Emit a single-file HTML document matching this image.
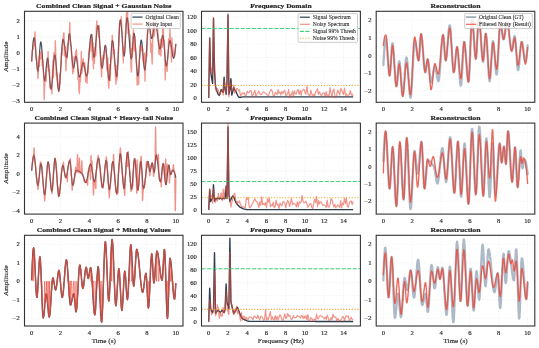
<!DOCTYPE html><html><head><meta charset="utf-8"><style>html,body{margin:0;padding:0;background:#fff;overflow:hidden}svg{display:block;font-family:"Liberation Serif", serif;will-change:transform}</style></head><body><svg width="539" height="348" viewBox="0 0 539 348">
<rect width="539" height="348" fill="#fff"/>
<defs>
<clipPath id="c00"><rect x="24.50" y="11.30" width="158.50" height="91.00"/></clipPath>
<clipPath id="c01"><rect x="201.50" y="11.30" width="158.90" height="91.00"/></clipPath>
<clipPath id="c02"><rect x="376.20" y="11.30" width="158.60" height="91.00"/></clipPath>
<clipPath id="c10"><rect x="24.50" y="123.10" width="158.50" height="91.00"/></clipPath>
<clipPath id="c11"><rect x="201.50" y="123.10" width="158.90" height="91.00"/></clipPath>
<clipPath id="c12"><rect x="376.20" y="123.10" width="158.60" height="91.00"/></clipPath>
<clipPath id="c20"><rect x="24.50" y="235.30" width="158.50" height="90.70"/></clipPath>
<clipPath id="c21"><rect x="201.50" y="235.30" width="158.90" height="90.70"/></clipPath>
<clipPath id="c22"><rect x="376.20" y="235.30" width="158.60" height="90.70"/></clipPath>
</defs>
<line x1="31.70" y1="11.30" x2="31.70" y2="102.30" stroke="#e9e9e9" stroke-width="0.5" stroke-dasharray="1.5,1.5"/>
<line x1="60.52" y1="11.30" x2="60.52" y2="102.30" stroke="#e9e9e9" stroke-width="0.5" stroke-dasharray="1.5,1.5"/>
<line x1="89.34" y1="11.30" x2="89.34" y2="102.30" stroke="#e9e9e9" stroke-width="0.5" stroke-dasharray="1.5,1.5"/>
<line x1="118.16" y1="11.30" x2="118.16" y2="102.30" stroke="#e9e9e9" stroke-width="0.5" stroke-dasharray="1.5,1.5"/>
<line x1="146.98" y1="11.30" x2="146.98" y2="102.30" stroke="#e9e9e9" stroke-width="0.5" stroke-dasharray="1.5,1.5"/>
<line x1="175.80" y1="11.30" x2="175.80" y2="102.30" stroke="#e9e9e9" stroke-width="0.5" stroke-dasharray="1.5,1.5"/>
<line x1="24.50" y1="101.30" x2="183.00" y2="101.30" stroke="#e9e9e9" stroke-width="0.5" stroke-dasharray="1.5,1.5"/>
<line x1="24.50" y1="85.20" x2="183.00" y2="85.20" stroke="#e9e9e9" stroke-width="0.5" stroke-dasharray="1.5,1.5"/>
<line x1="24.50" y1="69.10" x2="183.00" y2="69.10" stroke="#e9e9e9" stroke-width="0.5" stroke-dasharray="1.5,1.5"/>
<line x1="24.50" y1="53.00" x2="183.00" y2="53.00" stroke="#e9e9e9" stroke-width="0.5" stroke-dasharray="1.5,1.5"/>
<line x1="24.50" y1="36.90" x2="183.00" y2="36.90" stroke="#e9e9e9" stroke-width="0.5" stroke-dasharray="1.5,1.5"/>
<line x1="24.50" y1="20.80" x2="183.00" y2="20.80" stroke="#e9e9e9" stroke-width="0.5" stroke-dasharray="1.5,1.5"/>
<polyline points="31.7,61.5 31.9,57.5 32.2,53.8 32.4,50.4 32.7,47.3 32.9,44.6 33.1,42.3 33.4,40.4 33.6,39.0 33.9,38.1 34.1,37.7 34.4,38.0 34.6,39.0 34.8,40.6 35.1,42.8 35.3,45.3 35.6,48.2 35.8,51.3 36.0,54.5 36.3,57.8 36.5,60.8 36.8,63.7 37.0,66.3 37.2,68.4 37.5,70.0 37.7,71.0 38.0,71.2 38.2,70.3 38.4,68.5 38.7,65.9 38.9,62.8 39.2,59.3 39.4,55.6 39.6,52.0 39.9,48.7 40.1,45.8 40.4,43.6 40.6,42.2 40.8,41.9 41.1,42.6 41.3,44.0 41.6,46.0 41.8,48.6 42.0,51.6 42.3,54.9 42.5,58.4 42.8,62.0 43.0,65.6 43.3,69.0 43.5,72.3 43.7,75.1 44.0,77.5 44.2,79.4 44.5,80.5 44.7,80.8 44.9,80.3 45.2,79.0 45.4,77.1 45.7,74.7 45.9,72.0 46.1,69.2 46.4,66.4 46.6,63.8 46.9,61.5 47.1,59.7 47.3,58.5 47.6,58.2 47.8,58.7 48.1,60.0 48.3,61.9 48.5,64.3 48.8,67.1 49.0,70.2 49.3,73.4 49.5,76.7 49.7,79.8 50.0,82.6 50.2,85.1 50.5,87.2 50.7,88.5 50.9,89.2 51.2,89.0 51.4,88.0 51.7,86.4 51.9,84.2 52.2,81.6 52.4,78.7 52.6,75.5 52.9,72.2 53.1,68.9 53.4,65.7 53.6,62.7 53.8,60.0 54.1,57.8 54.3,56.1 54.6,55.1 54.8,54.8 55.0,55.3 55.3,56.4 55.5,58.2 55.8,60.4 56.0,63.0 56.2,65.9 56.5,69.0 56.7,72.2 57.0,75.5 57.2,78.7 57.4,81.7 57.7,84.4 57.9,86.8 58.2,88.8 58.4,90.2 58.6,91.0 58.9,91.1 59.1,90.2 59.4,88.5 59.6,86.0 59.8,82.9 60.1,79.3 60.3,75.3 60.6,71.0 60.8,66.6 61.1,62.1 61.3,57.7 61.5,53.5 61.8,49.7 62.0,46.2 62.3,43.4 62.5,41.2 62.7,39.8 63.0,39.3 63.2,39.5 63.5,40.1 63.7,41.0 63.9,42.1 64.2,43.5 64.4,45.0 64.7,46.6 64.9,48.3 65.1,50.0 65.4,51.6 65.6,53.1 65.9,54.5 66.1,55.7 66.3,56.6 66.6,57.2 66.8,57.5 67.1,57.0 67.3,55.4 67.5,52.9 67.8,49.8 68.0,46.4 68.3,42.9 68.5,39.6 68.7,36.7 69.0,34.7 69.2,33.6 69.5,33.7 69.7,34.4 70.0,35.7 70.2,37.5 70.4,39.7 70.7,42.2 70.9,44.9 71.2,47.8 71.4,50.8 71.6,53.7 71.9,56.6 72.1,59.4 72.4,61.9 72.6,64.1 72.8,65.9 73.1,67.2 73.3,68.0 73.6,68.1 73.8,67.6 74.0,66.6 74.3,65.2 74.5,63.6 74.8,61.8 75.0,60.1 75.2,58.6 75.5,57.3 75.7,56.5 76.0,56.2 76.2,56.6 76.4,57.4 76.7,58.7 76.9,60.4 77.2,62.3 77.4,64.3 77.7,66.5 77.9,68.7 78.1,70.8 78.4,72.7 78.6,74.4 78.9,75.8 79.1,76.7 79.3,77.1 79.6,77.1 79.8,76.7 80.1,76.0 80.3,75.1 80.5,74.0 80.8,72.7 81.0,71.4 81.3,70.0 81.5,68.6 81.7,67.2 82.0,66.0 82.2,64.9 82.5,63.9 82.7,63.2 82.9,62.8 83.2,62.7 83.4,62.9 83.7,63.5 83.9,64.3 84.1,65.4 84.4,66.6 84.6,68.0 84.9,69.4 85.1,70.8 85.3,72.1 85.6,73.4 85.8,74.5 86.1,75.3 86.3,75.9 86.6,76.2 86.8,76.0 87.0,75.2 87.3,73.9 87.5,72.2 87.8,70.0 88.0,67.5 88.2,64.8 88.5,61.8 88.7,58.7 89.0,55.6 89.2,52.4 89.4,49.3 89.7,46.3 89.9,43.5 90.2,41.0 90.4,38.7 90.6,36.9 90.9,35.5 91.1,34.6 91.4,34.3 91.6,34.9 91.8,36.4 92.1,38.7 92.3,41.6 92.6,44.7 92.8,47.9 93.0,51.0 93.3,53.7 93.5,55.8 93.8,57.2 94.0,57.5 94.2,57.0 94.5,56.0 94.7,54.4 95.0,52.4 95.2,50.1 95.5,47.6 95.7,44.8 95.9,42.0 96.2,39.2 96.4,36.4 96.7,33.8 96.9,31.4 97.1,29.3 97.4,27.6 97.6,26.4 97.9,25.7 98.1,25.7 98.3,26.5 98.6,28.1 98.8,30.3 99.1,33.0 99.3,36.2 99.5,39.7 99.8,43.4 100.0,47.2 100.3,50.9 100.5,54.6 100.7,58.0 101.0,61.2 101.2,63.8 101.5,65.9 101.7,67.4 101.9,68.1 102.2,68.0 102.4,67.2 102.7,65.9 102.9,64.1 103.1,62.0 103.4,59.7 103.6,57.2 103.9,54.7 104.1,52.3 104.4,50.1 104.6,48.2 104.8,46.7 105.1,45.7 105.3,45.3 105.6,45.6 105.8,46.7 106.0,48.5 106.3,50.8 106.5,53.5 106.8,56.6 107.0,59.8 107.2,63.2 107.5,66.5 107.7,69.7 108.0,72.7 108.2,75.3 108.4,77.5 108.7,79.1 108.9,80.0 109.2,80.1 109.4,79.2 109.6,77.2 109.9,74.4 110.1,70.9 110.4,67.0 110.6,62.8 110.8,58.5 111.1,54.3 111.3,50.3 111.6,46.8 111.8,43.9 112.0,41.8 112.3,40.7 112.5,40.7 112.8,41.4 113.0,42.6 113.3,44.3 113.5,46.4 113.7,48.9 114.0,51.6 114.2,54.4 114.5,57.4 114.7,60.5 114.9,63.4 115.2,66.3 115.4,69.0 115.7,71.4 115.9,73.4 116.1,75.0 116.4,76.2 116.6,76.8 116.9,76.6 117.1,75.0 117.3,72.3 117.6,68.5 117.8,64.0 118.1,58.9 118.3,53.4 118.5,47.7 118.8,42.0 119.0,36.5 119.3,31.5 119.5,27.1 119.7,23.6 120.0,21.0 120.2,19.8 120.5,19.8 120.7,20.8 120.9,22.4 121.2,24.6 121.4,27.4 121.7,30.5 121.9,33.8 122.2,37.3 122.4,40.8 122.6,44.2 122.9,47.3 123.1,50.2 123.4,52.6 123.6,54.5 123.8,55.7 124.1,56.1 124.3,55.3 124.6,53.3 124.8,50.4 125.0,46.7 125.3,42.5 125.5,38.0 125.8,33.4 126.0,29.0 126.2,25.0 126.5,21.6 126.7,19.2 127.0,17.8 127.2,17.7 127.4,18.4 127.7,19.8 127.9,21.8 128.2,24.3 128.4,27.2 128.6,30.4 128.9,33.9 129.1,37.4 129.4,40.9 129.6,44.4 129.8,47.7 130.1,50.8 130.3,53.5 130.6,55.7 130.8,57.4 131.1,58.5 131.3,58.8 131.5,58.1 131.8,56.5 132.0,54.2 132.3,51.3 132.5,48.0 132.7,44.6 133.0,41.4 133.2,38.4 133.5,35.9 133.7,34.1 133.9,33.2 134.2,33.4 134.4,34.5 134.7,36.4 134.9,38.9 135.1,42.0 135.4,45.5 135.6,49.3 135.9,53.2 136.1,57.2 136.3,61.1 136.6,64.8 136.8,68.2 137.1,71.1 137.3,73.5 137.5,75.2 137.8,76.1 138.0,76.0 138.3,74.9 138.5,73.0 138.8,70.2 139.0,67.0 139.2,63.3 139.5,59.5 139.7,55.5 140.0,51.7 140.2,48.1 140.4,45.0 140.7,42.5 140.9,40.8 141.2,40.0 141.4,40.2 141.6,41.1 141.9,42.7 142.1,44.7 142.4,47.2 142.6,49.9 142.8,52.9 143.1,55.9 143.3,58.9 143.6,61.8 143.8,64.4 144.0,66.6 144.3,68.4 144.5,69.7 144.8,70.2 145.0,69.9 145.2,68.6 145.5,66.5 145.7,63.7 146.0,60.3 146.2,56.5 146.4,52.3 146.7,48.0 146.9,43.7 147.2,39.4 147.4,35.4 147.7,31.7 147.9,28.5 148.1,26.0 148.4,24.2 148.6,23.3 148.9,23.3 149.1,23.9 149.3,24.9 149.6,26.3 149.8,27.9 150.1,29.6 150.3,31.5 150.5,33.2 150.8,34.9 151.0,36.4 151.3,37.5 151.5,38.3 151.7,38.5 152.0,38.3 152.2,37.7 152.5,36.8 152.7,35.6 152.9,34.3 153.2,32.8 153.4,31.2 153.7,29.6 153.9,28.0 154.1,26.5 154.4,25.2 154.6,24.0 154.9,23.2 155.1,22.6 155.3,22.4 155.6,22.6 155.8,23.3 156.1,24.2 156.3,25.5 156.6,27.0 156.8,28.7 157.0,30.6 157.3,32.5 157.5,34.6 157.8,36.7 158.0,38.7 158.2,40.7 158.5,42.6 158.7,44.3 159.0,45.8 159.2,47.1 159.4,48.1 159.7,48.7 159.9,49.0 160.2,48.8 160.4,48.1 160.6,47.0 160.9,45.6 161.1,44.0 161.4,42.3 161.6,40.6 161.8,39.0 162.1,37.6 162.3,36.4 162.6,35.6 162.8,35.3 163.0,35.6 163.3,36.8 163.5,38.6 163.8,40.9 164.0,43.6 164.2,46.7 164.5,49.8 164.7,53.1 165.0,56.2 165.2,59.1 165.5,61.7 165.7,63.8 165.9,65.3 166.2,66.1 166.4,66.1 166.7,65.5 166.9,64.3 167.1,62.6 167.4,60.6 167.6,58.3 167.9,55.8 168.1,53.3 168.3,50.7 168.6,48.3 168.8,46.0 169.1,44.0 169.3,42.4 169.5,41.3 169.8,40.7 170.0,40.7 170.3,41.1 170.5,41.9 170.7,42.9 171.0,44.2 171.2,45.7 171.5,47.3 171.7,49.0 171.9,50.7 172.2,52.3 172.4,53.9 172.7,55.3 172.9,56.4 173.1,57.3 173.4,57.9 173.6,58.2 173.9,57.9 174.1,57.3 174.4,56.2 174.6,54.8 174.8,53.1 175.1,51.1 175.3,48.9 175.6,46.5 175.8,44.0" fill="none" stroke="#2c3e50" stroke-width="1.20" stroke-opacity="0.900" stroke-linejoin="round" stroke-linecap="butt" clip-path="url(#c00)"/>
<polyline points="31.7,61.5 32.2,51.4 32.7,49.5 33.2,49.4 33.6,42.7 34.1,45.7 34.6,38.5 35.1,32.0 35.6,52.3 36.0,59.6 36.5,57.0 37.0,63.5 37.5,69.2 38.0,78.6 38.5,68.6 38.9,57.0 39.4,66.2 39.9,52.2 40.4,58.8 40.9,52.3 41.3,58.9 41.8,50.7 42.3,65.4 42.8,60.1 43.3,68.1 43.8,76.8 44.2,99.7 44.7,85.2 45.2,79.3 45.7,73.6 46.2,81.3 46.6,67.4 47.1,67.4 47.6,64.7 48.1,51.6 48.6,71.1 49.1,70.9 49.5,69.9 50.0,87.7 50.5,88.3 51.0,88.3 51.5,87.3 51.9,93.8 52.4,77.6 52.9,60.7 53.4,77.7 53.9,52.7 54.4,54.9 54.8,60.0 55.3,40.6 55.8,54.7 56.3,76.1 56.8,72.2 57.2,74.6 57.7,86.4 58.2,83.6 58.7,91.6 59.2,84.6 59.7,73.9 60.1,84.0 60.6,68.5 61.1,64.9 61.6,51.7 62.1,55.1 62.5,45.5 63.0,40.9 63.5,33.0 64.0,33.2 64.5,56.0 65.0,55.1 65.4,46.8 65.9,70.9 66.4,60.5 66.9,58.3 67.4,44.8 67.8,43.4 68.3,44.6 68.8,39.1 69.3,35.5 69.8,22.4 70.3,41.5 70.7,45.3 71.2,45.8 71.7,55.5 72.2,61.7 72.7,73.6 73.1,67.6 73.6,71.6 74.1,56.8 74.6,57.8 75.1,59.8 75.6,51.6 76.0,59.0 76.5,49.3 77.0,61.0 77.5,60.3 78.0,79.8 78.4,70.5 78.9,89.7 79.4,93.5 79.9,78.9 80.4,81.9 80.9,70.9 81.3,51.4 81.8,73.5 82.3,69.5 82.8,61.4 83.3,58.7 83.8,65.2 84.2,67.5 84.7,62.8 85.2,67.1 85.7,82.1 86.2,76.2 86.6,75.9 87.1,83.3 87.6,69.3 88.1,73.4 88.6,52.8 89.1,52.8 89.5,47.4 90.0,47.2 90.5,38.9 91.0,51.2 91.5,43.5 91.9,34.4 92.4,60.0 92.9,42.4 93.4,68.8 93.9,51.3 94.4,63.4 94.8,47.3 95.3,48.0 95.8,56.0 96.3,27.9 96.8,21.0 97.2,29.0 97.7,28.2 98.2,27.3 98.7,36.9 99.2,25.6 99.7,45.8 100.1,49.4 100.6,62.7 101.1,67.5 101.6,77.0 102.1,58.0 102.5,67.8 103.0,55.3 103.5,58.3 104.0,59.1 104.5,51.7 105.0,50.6 105.4,45.3 105.9,50.6 106.4,54.6 106.9,69.3 107.4,71.4 107.8,58.0 108.3,81.9 108.8,88.2 109.3,77.0 109.8,64.4 110.3,80.5 110.7,62.1 111.2,57.1 111.7,59.3 112.2,35.2 112.7,41.2 113.1,42.9 113.6,53.8 114.1,49.5 114.6,63.5 115.1,66.3 115.6,79.3 116.0,84.2 116.5,65.9 117.0,79.9 117.5,67.8 118.0,61.3 118.4,53.5 118.9,42.7 119.4,23.7 119.9,24.3 120.4,20.9 120.9,21.5 121.3,16.8 121.8,27.0 122.3,36.4 122.8,50.7 123.3,62.9 123.7,47.7 124.2,48.0 124.7,52.7 125.2,39.6 125.7,28.7 126.2,19.6 126.6,12.5 127.1,21.3 127.6,7.1 128.1,33.5 128.6,22.4 129.1,32.3 129.5,36.3 130.0,34.7 130.5,43.1 131.0,67.4 131.5,72.0 131.9,48.4 132.4,57.2 132.9,42.4 133.4,29.8 133.9,46.6 134.4,51.1 134.8,36.1 135.3,44.1 135.8,54.1 136.3,59.7 136.8,74.2 137.2,85.1 137.7,77.3 138.2,83.1 138.7,84.2 139.2,60.2 139.7,57.0 140.1,45.7 140.6,51.0 141.1,45.4 141.6,48.9 142.1,51.3 142.5,47.7 143.0,61.5 143.5,58.3 144.0,63.4 144.5,53.1 145.0,81.3 145.4,59.9 145.9,61.8 146.4,53.3 146.9,56.2 147.4,39.9 147.8,23.1 148.3,25.1 148.8,22.6 149.3,27.0 149.8,18.3 150.3,31.3 150.7,52.3 151.2,42.9 151.7,54.4 152.2,64.0 152.7,40.1 153.1,22.3 153.6,29.4 154.1,36.2 154.6,31.8 155.1,13.6 155.6,21.3 156.0,23.7 156.5,27.2 157.0,30.0 157.5,27.9 158.0,34.0 158.4,40.6 158.9,54.1 159.4,43.9 159.9,54.5 160.4,39.4 160.9,56.0 161.3,43.6 161.8,39.2 162.3,47.2 162.8,21.4 163.3,24.9 163.7,44.4 164.2,40.2 164.7,49.8 165.2,79.9 165.7,61.6 166.2,66.6 166.6,64.8 167.1,71.4 167.6,60.6 168.1,54.9 168.6,38.8 169.0,41.4 169.5,41.4 170.0,28.4 170.5,46.3 171.0,47.3 171.5,61.9 171.9,38.0 172.4,46.1 172.9,49.0 173.4,52.5 173.9,57.0 174.3,54.5 174.8,55.1 175.3,50.5 175.8,43.5" fill="none" stroke="#e74c3c" stroke-width="1.35" stroke-opacity="0.580" stroke-linejoin="round" stroke-linecap="butt" clip-path="url(#c00)"/>
<rect x="24.50" y="11.30" width="158.50" height="91.00" fill="none" stroke="#333" stroke-width="1.1"/>
<text x="31.70" y="111.20" font-size="5.82" text-anchor="middle" textLength="3.31" lengthAdjust="spacingAndGlyphs" fill="#262626" stroke="#262626" stroke-width="0.14">0</text>
<text x="60.52" y="111.20" font-size="5.82" text-anchor="middle" textLength="3.31" lengthAdjust="spacingAndGlyphs" fill="#262626" stroke="#262626" stroke-width="0.14">2</text>
<text x="89.34" y="111.20" font-size="5.82" text-anchor="middle" textLength="3.31" lengthAdjust="spacingAndGlyphs" fill="#262626" stroke="#262626" stroke-width="0.14">4</text>
<text x="118.16" y="111.20" font-size="5.82" text-anchor="middle" textLength="3.31" lengthAdjust="spacingAndGlyphs" fill="#262626" stroke="#262626" stroke-width="0.14">6</text>
<text x="146.98" y="111.20" font-size="5.82" text-anchor="middle" textLength="3.31" lengthAdjust="spacingAndGlyphs" fill="#262626" stroke="#262626" stroke-width="0.14">8</text>
<text x="175.80" y="111.20" font-size="5.82" text-anchor="middle" textLength="6.62" lengthAdjust="spacingAndGlyphs" fill="#262626" stroke="#262626" stroke-width="0.14">10</text>
<text x="19.90" y="103.30" font-size="5.82" text-anchor="end" textLength="7.67" lengthAdjust="spacingAndGlyphs" fill="#262626" stroke="#262626" stroke-width="0.14">−3</text>
<text x="19.90" y="87.20" font-size="5.82" text-anchor="end" textLength="7.67" lengthAdjust="spacingAndGlyphs" fill="#262626" stroke="#262626" stroke-width="0.14">−2</text>
<text x="19.90" y="71.10" font-size="5.82" text-anchor="end" textLength="7.67" lengthAdjust="spacingAndGlyphs" fill="#262626" stroke="#262626" stroke-width="0.14">−1</text>
<text x="19.90" y="55.00" font-size="5.82" text-anchor="end" textLength="3.31" lengthAdjust="spacingAndGlyphs" fill="#262626" stroke="#262626" stroke-width="0.14">0</text>
<text x="19.90" y="38.90" font-size="5.82" text-anchor="end" textLength="3.31" lengthAdjust="spacingAndGlyphs" fill="#262626" stroke="#262626" stroke-width="0.14">1</text>
<text x="19.90" y="22.80" font-size="5.82" text-anchor="end" textLength="3.31" lengthAdjust="spacingAndGlyphs" fill="#262626" stroke="#262626" stroke-width="0.14">2</text>
<line x1="208.72" y1="11.30" x2="208.72" y2="102.30" stroke="#e9e9e9" stroke-width="0.5" stroke-dasharray="1.5,1.5"/>
<line x1="227.98" y1="11.30" x2="227.98" y2="102.30" stroke="#e9e9e9" stroke-width="0.5" stroke-dasharray="1.5,1.5"/>
<line x1="247.24" y1="11.30" x2="247.24" y2="102.30" stroke="#e9e9e9" stroke-width="0.5" stroke-dasharray="1.5,1.5"/>
<line x1="266.50" y1="11.30" x2="266.50" y2="102.30" stroke="#e9e9e9" stroke-width="0.5" stroke-dasharray="1.5,1.5"/>
<line x1="285.77" y1="11.30" x2="285.77" y2="102.30" stroke="#e9e9e9" stroke-width="0.5" stroke-dasharray="1.5,1.5"/>
<line x1="305.03" y1="11.30" x2="305.03" y2="102.30" stroke="#e9e9e9" stroke-width="0.5" stroke-dasharray="1.5,1.5"/>
<line x1="324.29" y1="11.30" x2="324.29" y2="102.30" stroke="#e9e9e9" stroke-width="0.5" stroke-dasharray="1.5,1.5"/>
<line x1="343.55" y1="11.30" x2="343.55" y2="102.30" stroke="#e9e9e9" stroke-width="0.5" stroke-dasharray="1.5,1.5"/>
<line x1="201.50" y1="98.00" x2="360.40" y2="98.00" stroke="#e9e9e9" stroke-width="0.5" stroke-dasharray="1.5,1.5"/>
<line x1="201.50" y1="84.50" x2="360.40" y2="84.50" stroke="#e9e9e9" stroke-width="0.5" stroke-dasharray="1.5,1.5"/>
<line x1="201.50" y1="71.00" x2="360.40" y2="71.00" stroke="#e9e9e9" stroke-width="0.5" stroke-dasharray="1.5,1.5"/>
<line x1="201.50" y1="57.50" x2="360.40" y2="57.50" stroke="#e9e9e9" stroke-width="0.5" stroke-dasharray="1.5,1.5"/>
<line x1="201.50" y1="44.00" x2="360.40" y2="44.00" stroke="#e9e9e9" stroke-width="0.5" stroke-dasharray="1.5,1.5"/>
<line x1="201.50" y1="30.50" x2="360.40" y2="30.50" stroke="#e9e9e9" stroke-width="0.5" stroke-dasharray="1.5,1.5"/>
<line x1="201.50" y1="17.00" x2="360.40" y2="17.00" stroke="#e9e9e9" stroke-width="0.5" stroke-dasharray="1.5,1.5"/>
<polyline points="208.7,98.0 209.7,37.9 210.6,71.0 211.6,77.8 212.6,83.4 213.5,18.3 214.5,71.0 215.5,86.1 216.4,89.9 217.4,92.6 218.4,94.6 219.3,95.5 220.3,92.6 221.2,89.5 222.2,91.2 223.2,92.2 224.1,77.3 225.1,89.9 226.1,94.2 227.0,82.0 228.0,15.0 228.9,94.2 229.9,89.9 230.9,78.6 231.8,95.0 232.8,91.2 233.8,87.4 234.7,89.9 235.7,90.8 236.7,93.3 237.6,95.3 238.6,97.0 239.5,97.3 240.5,97.2 241.5,97.1 242.4,96.9 243.4,96.9 244.4,96.9 245.3,96.9 246.3,96.9 247.2,96.9 248.2,96.9 249.2,96.9 250.1,96.9 251.1,96.9 252.1,96.9 253.0,96.9 254.0,96.9 254.9,96.9 255.9,96.9 256.9,96.9 257.8,96.9 258.8,96.9 259.8,96.9 260.7,96.9 261.7,96.9 262.7,96.9 263.6,96.9 264.6,96.9 265.5,96.9 266.5,96.9 267.5,96.9 268.4,96.9 269.4,96.9 270.4,96.9 271.3,96.9 272.3,96.9 273.2,96.9 274.2,96.9 275.2,96.9 276.1,96.9 277.1,96.9 278.1,96.9 279.0,96.9 280.0,96.9 280.9,96.9 281.9,96.9 282.9,96.9 283.8,96.9 284.8,96.9 285.8,96.9 286.7,96.9 287.7,96.9 288.7,96.9 289.6,96.9 290.6,96.9 291.5,96.9 292.5,96.9 293.5,96.9 294.4,96.9 295.4,96.9 296.4,96.9 297.3,96.9 298.3,96.9 299.2,96.9 300.2,96.9 301.2,96.9 302.1,96.9 303.1,96.9 304.1,96.9 305.0,96.9 306.0,96.9 307.0,96.9 307.9,96.9 308.9,96.9 309.8,96.9 310.8,96.9 311.8,96.9 312.7,96.9 313.7,96.9 314.7,96.9 315.6,96.9 316.6,96.9 317.5,96.9 318.5,96.9 319.5,96.9 320.4,96.9 321.4,96.9 322.4,96.9 323.3,96.9 324.3,96.9 325.2,96.9 326.2,96.9 327.2,96.9 328.1,96.9 329.1,96.9 330.1,96.9 331.0,96.9 332.0,96.9 333.0,96.9 333.9,96.9 334.9,96.9 335.8,96.9 336.8,96.9 337.8,96.9 338.7,96.9 339.7,96.9 340.7,96.9 341.6,96.9 342.6,96.9 343.5,96.9 344.5,96.9 345.5,96.9 346.4,96.9 347.4,96.9 348.4,96.9 349.3,96.9 350.3,96.9 351.3,96.9 352.2,96.9 353.2,96.9" fill="none" stroke="#2c3e50" stroke-width="1.40" stroke-opacity="1.000" stroke-linejoin="round" stroke-linecap="butt" clip-path="url(#c01)"/>
<polyline points="208.7,98.0 209.7,38.2 210.6,72.0 211.6,68.2 212.6,75.3 213.5,17.6 214.5,63.1 215.5,88.1 216.4,91.5 217.4,88.3 218.4,90.3 219.3,95.1 220.3,93.8 221.2,91.1 222.2,89.6 223.2,95.1 224.1,80.1 225.1,87.0 226.1,94.6 227.0,77.9 228.0,13.6 228.9,96.7 229.9,83.0 230.9,83.1 231.8,91.6 232.8,90.0 233.8,85.2 234.7,93.2 235.7,90.1 236.7,88.7 237.6,88.5 238.6,90.8 239.5,90.0 240.5,95.8 241.5,94.7 242.4,92.8 243.4,93.8 244.4,92.7 245.3,96.3 246.3,94.9 247.2,91.2 248.2,92.6 249.2,92.3 250.1,90.8 251.1,90.6 252.1,96.2 253.0,94.8 254.0,92.5 254.9,90.3 255.9,97.1 256.9,93.9 257.8,93.2 258.8,91.1 259.8,93.3 260.7,94.6 261.7,94.2 262.7,92.7 263.6,91.8 264.6,92.9 265.5,93.0 266.5,94.3 267.5,95.1 268.4,96.0 269.4,93.1 270.4,90.4 271.3,89.5 272.3,91.4 273.2,95.3 274.2,96.2 275.2,92.4 276.1,93.4 277.1,94.7 278.1,89.5 279.0,93.3 280.0,92.2 280.9,95.2 281.9,91.5 282.9,93.6 283.8,91.4 284.8,90.4 285.8,95.7 286.7,95.1 287.7,93.4 288.7,89.7 289.6,97.6 290.6,94.4 291.5,95.1 292.5,91.1 293.5,97.0 294.4,90.9 295.4,93.9 296.4,93.8 297.3,89.8 298.3,89.8 299.2,94.4 300.2,90.3 301.2,95.5 302.1,90.4 303.1,89.6 304.1,89.4 305.0,92.5 306.0,94.1 307.0,85.9 307.9,93.8 308.9,94.9 309.8,96.4 310.8,90.1 311.8,93.9 312.7,96.4 313.7,94.2 314.7,95.7 315.6,91.8 316.6,91.1 317.5,88.8 318.5,94.3 319.5,91.9 320.4,94.0 321.4,96.0 322.4,93.7 323.3,92.7 324.3,93.3 325.2,96.2 326.2,91.6 327.2,96.7 328.1,94.9 329.1,95.6 330.1,87.6 331.0,92.9 332.0,97.1 333.0,90.7 333.9,89.1 334.9,95.7 335.8,97.7 336.8,94.5 337.8,90.0 338.7,92.5 339.7,95.0 340.7,88.3 341.6,90.1 342.6,92.6 343.5,94.5 344.5,88.2 345.5,95.1 346.4,93.8 347.4,96.4 348.4,95.0 349.3,94.5 350.3,90.5 351.3,95.1 352.2,94.0 353.2,96.2" fill="none" stroke="#e74c3c" stroke-width="1.20" stroke-opacity="0.600" stroke-linejoin="round" stroke-linecap="butt" clip-path="url(#c01)"/>
<line x1="201.50" y1="28.54" x2="360.40" y2="28.54" stroke="#2ecc71" stroke-width="1.15" stroke-opacity="0.90" stroke-dasharray="4.1,1.5"/>
<line x1="201.50" y1="85.44" x2="360.40" y2="85.44" stroke="#f39c12" stroke-width="1.10" stroke-opacity="0.85" stroke-dasharray="1.15,1.63"/>
<rect x="201.50" y="11.30" width="158.90" height="91.00" fill="none" stroke="#333" stroke-width="1.1"/>
<text x="208.72" y="111.20" font-size="5.82" text-anchor="middle" textLength="3.31" lengthAdjust="spacingAndGlyphs" fill="#262626" stroke="#262626" stroke-width="0.14">0</text>
<text x="227.98" y="111.20" font-size="5.82" text-anchor="middle" textLength="3.31" lengthAdjust="spacingAndGlyphs" fill="#262626" stroke="#262626" stroke-width="0.14">2</text>
<text x="247.24" y="111.20" font-size="5.82" text-anchor="middle" textLength="3.31" lengthAdjust="spacingAndGlyphs" fill="#262626" stroke="#262626" stroke-width="0.14">4</text>
<text x="266.50" y="111.20" font-size="5.82" text-anchor="middle" textLength="3.31" lengthAdjust="spacingAndGlyphs" fill="#262626" stroke="#262626" stroke-width="0.14">6</text>
<text x="285.77" y="111.20" font-size="5.82" text-anchor="middle" textLength="3.31" lengthAdjust="spacingAndGlyphs" fill="#262626" stroke="#262626" stroke-width="0.14">8</text>
<text x="305.03" y="111.20" font-size="5.82" text-anchor="middle" textLength="6.62" lengthAdjust="spacingAndGlyphs" fill="#262626" stroke="#262626" stroke-width="0.14">10</text>
<text x="324.29" y="111.20" font-size="5.82" text-anchor="middle" textLength="6.62" lengthAdjust="spacingAndGlyphs" fill="#262626" stroke="#262626" stroke-width="0.14">12</text>
<text x="343.55" y="111.20" font-size="5.82" text-anchor="middle" textLength="6.62" lengthAdjust="spacingAndGlyphs" fill="#262626" stroke="#262626" stroke-width="0.14">14</text>
<text x="196.90" y="100.00" font-size="5.82" text-anchor="end" textLength="3.31" lengthAdjust="spacingAndGlyphs" fill="#262626" stroke="#262626" stroke-width="0.14">0</text>
<text x="196.90" y="86.50" font-size="5.82" text-anchor="end" textLength="6.62" lengthAdjust="spacingAndGlyphs" fill="#262626" stroke="#262626" stroke-width="0.14">20</text>
<text x="196.90" y="73.00" font-size="5.82" text-anchor="end" textLength="6.62" lengthAdjust="spacingAndGlyphs" fill="#262626" stroke="#262626" stroke-width="0.14">40</text>
<text x="196.90" y="59.50" font-size="5.82" text-anchor="end" textLength="6.62" lengthAdjust="spacingAndGlyphs" fill="#262626" stroke="#262626" stroke-width="0.14">60</text>
<text x="196.90" y="46.00" font-size="5.82" text-anchor="end" textLength="6.62" lengthAdjust="spacingAndGlyphs" fill="#262626" stroke="#262626" stroke-width="0.14">80</text>
<text x="196.90" y="32.50" font-size="5.82" text-anchor="end" textLength="9.93" lengthAdjust="spacingAndGlyphs" fill="#262626" stroke="#262626" stroke-width="0.14">100</text>
<text x="196.90" y="19.00" font-size="5.82" text-anchor="end" textLength="9.93" lengthAdjust="spacingAndGlyphs" fill="#262626" stroke="#262626" stroke-width="0.14">120</text>
<line x1="383.41" y1="11.30" x2="383.41" y2="102.30" stroke="#e9e9e9" stroke-width="0.5" stroke-dasharray="1.5,1.5"/>
<line x1="412.25" y1="11.30" x2="412.25" y2="102.30" stroke="#e9e9e9" stroke-width="0.5" stroke-dasharray="1.5,1.5"/>
<line x1="441.08" y1="11.30" x2="441.08" y2="102.30" stroke="#e9e9e9" stroke-width="0.5" stroke-dasharray="1.5,1.5"/>
<line x1="469.92" y1="11.30" x2="469.92" y2="102.30" stroke="#e9e9e9" stroke-width="0.5" stroke-dasharray="1.5,1.5"/>
<line x1="498.75" y1="11.30" x2="498.75" y2="102.30" stroke="#e9e9e9" stroke-width="0.5" stroke-dasharray="1.5,1.5"/>
<line x1="527.59" y1="11.30" x2="527.59" y2="102.30" stroke="#e9e9e9" stroke-width="0.5" stroke-dasharray="1.5,1.5"/>
<line x1="376.20" y1="91.20" x2="534.80" y2="91.20" stroke="#e9e9e9" stroke-width="0.5" stroke-dasharray="1.5,1.5"/>
<line x1="376.20" y1="73.35" x2="534.80" y2="73.35" stroke="#e9e9e9" stroke-width="0.5" stroke-dasharray="1.5,1.5"/>
<line x1="376.20" y1="55.50" x2="534.80" y2="55.50" stroke="#e9e9e9" stroke-width="0.5" stroke-dasharray="1.5,1.5"/>
<line x1="376.20" y1="37.65" x2="534.80" y2="37.65" stroke="#e9e9e9" stroke-width="0.5" stroke-dasharray="1.5,1.5"/>
<line x1="376.20" y1="19.80" x2="534.80" y2="19.80" stroke="#e9e9e9" stroke-width="0.5" stroke-dasharray="1.5,1.5"/>
<polyline points="383.4,65.0 383.6,60.5 383.9,56.4 384.1,52.6 384.4,49.2 384.6,46.2 384.9,43.6 385.1,41.6 385.3,40.0 385.6,39.0 385.8,38.6 386.1,38.8 386.3,39.9 386.5,41.7 386.8,44.1 387.0,47.0 387.3,50.2 387.5,53.7 387.7,57.2 388.0,60.8 388.2,64.2 388.5,67.4 388.7,70.2 388.9,72.6 389.2,74.4 389.4,75.4 389.7,75.6 389.9,74.7 390.1,72.7 390.4,69.8 390.6,66.3 390.9,62.4 391.1,58.4 391.4,54.4 391.6,50.7 391.8,47.5 392.1,45.0 392.3,43.5 392.6,43.2 392.8,43.9 393.0,45.5 393.3,47.7 393.5,50.6 393.8,53.9 394.0,57.6 394.2,61.5 394.5,65.5 394.7,69.5 395.0,73.3 395.2,76.9 395.4,80.0 395.7,82.7 395.9,84.7 396.2,86.0 396.4,86.4 396.6,85.8 396.9,84.3 397.1,82.2 397.4,79.6 397.6,76.6 397.9,73.5 398.1,70.4 398.3,67.4 398.6,64.9 398.8,62.9 399.1,61.6 399.3,61.2 399.5,61.8 399.8,63.2 400.0,65.4 400.3,68.0 400.5,71.2 400.7,74.6 401.0,78.2 401.2,81.7 401.5,85.2 401.7,88.4 401.9,91.1 402.2,93.4 402.4,94.9 402.7,95.6 402.9,95.4 403.1,94.3 403.4,92.5 403.6,90.1 403.9,87.2 404.1,83.9 404.4,80.4 404.6,76.8 404.8,73.1 405.1,69.5 405.3,66.2 405.6,63.3 405.8,60.8 406.0,58.9 406.3,57.8 406.5,57.5 406.8,58.0 407.0,59.3 407.2,61.2 407.5,63.7 407.7,66.6 408.0,69.8 408.2,73.2 408.4,76.8 408.7,80.4 408.9,83.9 409.2,87.3 409.4,90.3 409.6,93.0 409.9,95.2 410.1,96.8 410.4,97.6 410.6,97.7 410.8,96.8 411.1,94.8 411.3,92.1 411.6,88.7 411.8,84.6 412.1,80.2 412.3,75.5 412.5,70.5 412.8,65.6 413.0,60.7 413.3,56.1 413.5,51.8 413.7,48.0 414.0,44.8 414.2,42.4 414.5,40.9 414.7,40.3 414.9,40.6 415.2,41.2 415.4,42.2 415.7,43.4 415.9,44.9 416.1,46.6 416.4,48.4 416.6,50.3 416.9,52.1 417.1,54.0 417.3,55.7 417.6,57.2 417.8,58.5 418.1,59.5 418.3,60.2 418.6,60.5 418.8,60.0 419.0,58.2 419.3,55.4 419.5,52.0 419.8,48.2 420.0,44.3 420.2,40.6 420.5,37.5 420.7,35.2 421.0,34.0 421.2,34.1 421.4,34.9 421.7,36.3 421.9,38.3 422.2,40.7 422.4,43.5 422.6,46.5 422.9,49.7 423.1,53.0 423.4,56.3 423.6,59.5 423.8,62.6 424.1,65.3 424.3,67.8 424.6,69.8 424.8,71.2 425.1,72.1 425.3,72.2 425.5,71.7 425.8,70.6 426.0,69.0 426.3,67.2 426.5,65.3 426.7,63.4 427.0,61.7 427.2,60.3 427.5,59.4 427.7,59.1 427.9,59.5 428.2,60.4 428.4,61.9 428.7,63.7 428.9,65.8 429.1,68.1 429.4,70.5 429.6,72.9 429.9,75.2 430.1,77.4 430.3,79.2 430.6,80.7 430.8,81.8 431.1,82.3 431.3,82.2 431.5,81.7 431.8,81.0 432.0,80.0 432.3,78.7 432.5,77.3 432.8,75.9 433.0,74.3 433.2,72.8 433.5,71.3 433.7,69.9 434.0,68.7 434.2,67.6 434.4,66.8 434.7,66.3 434.9,66.2 435.2,66.5 435.4,67.1 435.6,68.1 435.9,69.2 436.1,70.6 436.4,72.1 436.6,73.7 436.8,75.2 437.1,76.7 437.3,78.1 437.6,79.3 437.8,80.2 438.0,80.9 438.3,81.2 438.5,81.0 438.8,80.1 439.0,78.7 439.3,76.8 439.5,74.4 439.7,71.6 440.0,68.6 440.2,65.3 440.5,61.9 440.7,58.4 440.9,54.8 441.2,51.4 441.4,48.1 441.7,45.0 441.9,42.2 442.1,39.7 442.4,37.7 442.6,36.1 442.9,35.1 443.1,34.8 443.3,35.4 443.6,37.1 443.8,39.7 444.1,42.8 444.3,46.3 444.5,49.9 444.8,53.3 445.0,56.3 445.3,58.7 445.5,60.1 445.8,60.5 446.0,60.0 446.2,58.8 446.5,57.1 446.7,54.9 447.0,52.3 447.2,49.5 447.4,46.5 447.7,43.3 447.9,40.2 448.2,37.1 448.4,34.2 448.6,31.5 448.9,29.2 449.1,27.3 449.4,26.0 449.6,25.3 449.8,25.3 450.1,26.2 450.3,27.9 450.6,30.3 450.8,33.4 451.0,36.9 451.3,40.7 451.5,44.8 451.8,49.0 452.0,53.2 452.3,57.3 452.5,61.1 452.7,64.5 453.0,67.5 453.2,69.8 453.5,71.5 453.7,72.2 453.9,72.1 454.2,71.2 454.4,69.8 454.7,67.8 454.9,65.5 455.1,62.9 455.4,60.2 455.6,57.4 455.9,54.8 456.1,52.3 456.3,50.2 456.6,48.5 456.8,47.4 457.1,46.9 457.3,47.3 457.5,48.5 457.8,50.5 458.0,53.0 458.3,56.1 458.5,59.4 458.7,63.0 459.0,66.8 459.2,70.5 459.5,74.0 459.7,77.3 460.0,80.2 460.2,82.7 460.4,84.4 460.7,85.5 460.9,85.6 461.2,84.5 461.4,82.3 461.6,79.2 461.9,75.4 462.1,71.0 462.4,66.3 462.6,61.6 462.8,56.9 463.1,52.5 463.3,48.6 463.6,45.4 463.8,43.1 464.0,41.9 464.3,41.9 464.5,42.6 464.8,44.0 465.0,45.9 465.2,48.2 465.5,50.9 465.7,53.9 466.0,57.1 466.2,60.4 466.5,63.8 466.7,67.1 466.9,70.2 467.2,73.2 467.4,75.8 467.7,78.1 467.9,79.9 468.1,81.2 468.4,81.9 468.6,81.6 468.9,79.9 469.1,76.9 469.3,72.7 469.6,67.7 469.8,62.0 470.1,55.9 470.3,49.6 470.5,43.3 470.8,37.2 471.0,31.7 471.3,26.8 471.5,22.9 471.7,20.1 472.0,18.7 472.2,18.7 472.5,19.8 472.7,21.6 473.0,24.1 473.2,27.1 473.4,30.5 473.7,34.2 473.9,38.1 474.2,41.9 474.4,45.7 474.6,49.2 474.9,52.4 475.1,55.1 475.4,57.1 475.6,58.5 475.8,58.9 476.1,58.1 476.3,55.9 476.6,52.6 476.8,48.5 477.0,43.8 477.3,38.8 477.5,33.8 477.8,28.9 478.0,24.5 478.2,20.7 478.5,18.0 478.7,16.5 479.0,16.3 479.2,17.1 479.5,18.7 479.7,21.0 479.9,23.7 480.2,26.9 480.4,30.5 480.7,34.3 480.9,38.2 481.1,42.1 481.4,46.0 481.6,49.7 481.9,53.0 482.1,56.0 482.3,58.5 482.6,60.4 482.8,61.6 483.1,61.9 483.3,61.2 483.5,59.4 483.8,56.8 484.0,53.6 484.3,50.0 484.5,46.2 484.7,42.6 485.0,39.3 485.2,36.5 485.5,34.6 485.7,33.6 485.9,33.8 486.2,35.0 486.4,37.1 486.7,39.9 486.9,43.3 487.2,47.2 487.4,51.3 487.6,55.7 487.9,60.1 488.1,64.5 488.4,68.6 488.6,72.3 488.8,75.6 489.1,78.2 489.3,80.1 489.6,81.1 489.8,81.0 490.0,79.8 490.3,77.6 490.5,74.6 490.8,71.0 491.0,67.0 491.2,62.7 491.5,58.3 491.7,54.1 492.0,50.1 492.2,46.7 492.4,43.9 492.7,42.0 492.9,41.1 493.2,41.3 493.4,42.3 493.7,44.0 493.9,46.3 494.1,49.1 494.4,52.1 494.6,55.4 494.9,58.7 495.1,62.1 495.3,65.2 495.6,68.1 495.8,70.6 496.1,72.6 496.3,74.0 496.5,74.6 496.8,74.2 497.0,72.8 497.3,70.5 497.5,67.4 497.7,63.6 498.0,59.4 498.2,54.8 498.5,50.0 498.7,45.2 498.9,40.4 499.2,36.0 499.4,31.9 499.7,28.4 499.9,25.6 500.2,23.6 500.4,22.6 500.6,22.6 500.9,23.2 501.1,24.4 501.4,25.9 501.6,27.6 501.8,29.6 502.1,31.6 502.3,33.6 502.6,35.4 502.8,37.0 503.0,38.3 503.3,39.1 503.5,39.4 503.8,39.2 504.0,38.5 504.2,37.5 504.5,36.2 504.7,34.7 505.0,33.1 505.2,31.3 505.4,29.5 505.7,27.8 505.9,26.1 506.2,24.6 506.4,23.4 506.6,22.4 506.9,21.8 507.1,21.6 507.4,21.8 507.6,22.5 507.9,23.6 508.1,25.0 508.3,26.7 508.6,28.6 508.8,30.6 509.1,32.8 509.3,35.1 509.5,37.4 509.8,39.7 510.0,41.9 510.3,44.0 510.5,45.9 510.7,47.6 511.0,49.0 511.2,50.0 511.5,50.8 511.7,51.0 511.9,50.8 512.2,50.0 512.4,48.8 512.7,47.3 512.9,45.5 513.1,43.6 513.4,41.8 513.6,40.0 513.9,38.4 514.1,37.1 514.4,36.2 514.6,35.9 514.8,36.3 515.1,37.5 515.3,39.5 515.6,42.1 515.8,45.1 516.0,48.5 516.3,52.0 516.5,55.6 516.8,59.0 517.0,62.3 517.2,65.1 517.5,67.5 517.7,69.1 518.0,70.0 518.2,70.0 518.4,69.3 518.7,68.0 518.9,66.1 519.2,63.9 519.4,61.4 519.6,58.6 519.9,55.8 520.1,53.0 520.4,50.3 520.6,47.8 520.9,45.6 521.1,43.8 521.3,42.5 521.6,41.8 521.8,41.8 522.1,42.3 522.3,43.2 522.5,44.3 522.8,45.8 523.0,47.4 523.3,49.2 523.5,51.1 523.7,52.9 524.0,54.7 524.2,56.5 524.5,58.0 524.7,59.3 524.9,60.3 525.2,61.0 525.4,61.2 525.7,61.0 525.9,60.2 526.1,59.0 526.4,57.5 526.6,55.6 526.9,53.4 527.1,50.9 527.4,48.3 527.6,45.5" fill="none" stroke="#9fadbd" stroke-width="2.30" stroke-opacity="0.850" stroke-linejoin="round" stroke-linecap="round" clip-path="url(#c02)"/>
<polyline points="383.4,45.5 383.6,43.2 383.9,41.2 384.1,39.6 384.4,38.3 384.6,37.2 384.9,36.3 385.1,35.7 385.3,35.3 385.6,35.1 385.8,35.0 386.1,35.3 386.3,36.5 386.5,38.5 386.8,41.1 387.0,44.2 387.3,47.8 387.5,51.5 387.7,55.4 388.0,59.3 388.2,63.1 388.5,66.6 388.7,69.7 388.9,72.3 389.2,74.2 389.4,75.4 389.7,75.6 389.9,74.8 390.1,72.9 390.4,70.2 390.6,67.0 390.9,63.4 391.1,59.6 391.4,55.9 391.6,52.5 391.8,49.5 392.1,47.2 392.3,45.8 392.6,45.5 392.8,46.2 393.0,47.7 393.3,49.8 393.5,52.5 393.8,55.7 394.0,59.1 394.2,62.8 394.5,66.6 394.7,70.4 395.0,74.0 395.2,77.4 395.4,80.4 395.7,82.9 395.9,84.8 396.2,86.0 396.4,86.4 396.6,85.9 396.9,84.6 397.1,82.7 397.4,80.3 397.6,77.7 397.9,74.9 398.1,72.1 398.3,69.5 398.6,67.2 398.8,65.4 399.1,64.2 399.3,63.9 399.5,64.4 399.8,65.8 400.0,67.8 400.3,70.4 400.5,73.3 400.7,76.6 401.0,80.0 401.2,83.3 401.5,86.6 401.7,89.6 401.9,92.3 402.2,94.4 402.4,95.8 402.7,96.5 402.9,96.3 403.1,95.4 403.4,93.8 403.6,91.6 403.9,89.1 404.1,86.1 404.4,83.0 404.6,79.8 404.8,76.5 405.1,73.4 405.3,70.4 405.6,67.8 405.8,65.6 406.0,63.9 406.3,62.9 406.5,62.6 406.8,63.1 407.0,64.1 407.2,65.6 407.5,67.6 407.7,69.9 408.0,72.5 408.2,75.2 408.4,78.1 408.7,80.9 408.9,83.7 409.2,86.4 409.4,88.8 409.6,90.9 409.9,92.7 410.1,93.9 410.4,94.6 410.6,94.7 410.8,93.7 411.1,91.8 411.3,89.0 411.6,85.6 411.8,81.5 412.1,77.1 412.3,72.3 412.5,67.3 412.8,62.4 413.0,57.5 413.3,52.8 413.5,48.5 413.7,44.7 414.0,41.5 414.2,39.0 414.5,37.5 414.7,36.9 414.9,37.2 415.2,37.9 415.4,39.1 415.7,40.6 415.9,42.3 416.1,44.3 416.4,46.4 416.6,48.6 416.9,50.7 417.1,52.9 417.3,54.8 417.6,56.6 417.8,58.2 418.1,59.4 418.3,60.2 418.6,60.5 418.8,60.0 419.0,58.2 419.3,55.4 419.5,52.0 419.8,48.2 420.0,44.3 420.2,40.6 420.5,37.5 420.7,35.2 421.0,34.0 421.2,34.1 421.4,34.9 421.7,36.3 421.9,38.3 422.2,40.7 422.4,43.5 422.6,46.5 422.9,49.7 423.1,53.0 423.4,56.3 423.6,59.5 423.8,62.6 424.1,65.3 424.3,67.8 424.6,69.8 424.8,71.2 425.1,72.1 425.3,72.2 425.5,71.7 425.8,70.6 426.0,69.0 426.3,67.2 426.5,65.3 426.7,63.4 427.0,61.7 427.2,60.3 427.5,59.4 427.7,59.1 427.9,59.6 428.2,60.9 428.4,62.8 428.7,65.2 428.9,67.9 429.1,71.0 429.4,74.2 429.6,77.3 429.9,80.4 430.1,83.3 430.3,85.7 430.6,87.7 430.8,89.1 431.1,89.7 431.3,89.6 431.5,88.9 431.8,87.6 432.0,86.0 432.3,84.0 432.5,81.7 432.8,79.3 433.0,76.8 433.2,74.3 433.5,71.8 433.7,69.6 434.0,67.5 434.2,65.8 434.4,64.5 434.7,63.8 434.9,63.5 435.2,63.7 435.4,64.2 435.6,64.9 435.9,65.7 436.1,66.7 436.4,67.7 436.6,68.9 436.8,70.0 437.1,71.0 437.3,72.0 437.6,72.9 437.8,73.6 438.0,74.0 438.3,74.2 438.5,74.1 438.8,73.3 439.0,72.1 439.3,70.5 439.5,68.4 439.7,66.1 440.0,63.5 440.2,60.7 440.5,57.8 440.7,54.8 440.9,51.8 441.2,48.9 441.4,46.1 441.7,43.5 441.9,41.1 442.1,39.0 442.4,37.2 442.6,35.9 442.9,35.1 443.1,34.8 443.3,35.4 443.6,37.1 443.8,39.7 444.1,42.8 444.3,46.3 444.5,49.9 444.8,53.3 445.0,56.3 445.3,58.7 445.5,60.1 445.8,60.5 446.0,60.0 446.2,58.9 446.5,57.3 446.7,55.3 447.0,52.9 447.2,50.3 447.4,47.5 447.7,44.6 447.9,41.7 448.2,38.9 448.4,36.2 448.6,33.7 448.9,31.6 449.1,29.9 449.4,28.6 449.6,27.9 449.8,27.9 450.1,28.8 450.3,30.4 450.6,32.7 450.8,35.6 451.0,38.9 451.3,42.5 451.5,46.4 451.8,50.3 452.0,54.3 452.3,58.1 452.5,61.7 452.7,65.0 453.0,67.8 453.2,70.0 453.5,71.5 453.7,72.2 453.9,72.1 454.2,71.2 454.4,69.8 454.7,67.8 454.9,65.5 455.1,62.9 455.4,60.2 455.6,57.4 455.9,54.8 456.1,52.3 456.3,50.2 456.6,48.5 456.8,47.4 457.1,46.9 457.3,47.2 457.5,48.2 457.8,49.8 458.0,51.9 458.3,54.4 458.5,57.2 458.7,60.1 459.0,63.2 459.2,66.2 459.5,69.2 459.7,71.9 460.0,74.3 460.2,76.2 460.4,77.7 460.7,78.5 460.9,78.6 461.2,77.7 461.4,75.9 461.6,73.3 461.9,70.0 462.1,66.4 462.4,62.4 462.6,58.4 462.8,54.5 463.1,50.8 463.3,47.5 463.6,44.8 463.8,42.9 464.0,41.9 464.3,41.9 464.5,42.6 464.8,44.0 465.0,45.9 465.2,48.2 465.5,50.9 465.7,53.9 466.0,57.1 466.2,60.4 466.5,63.8 466.7,67.1 466.9,70.2 467.2,73.2 467.4,75.8 467.7,78.1 467.9,79.9 468.1,81.2 468.4,81.9 468.6,81.6 468.9,80.0 469.1,77.0 469.3,72.9 469.6,68.0 469.8,62.4 470.1,56.4 470.3,50.2 470.5,44.0 470.8,38.1 471.0,32.7 471.3,27.9 471.5,24.0 471.7,21.3 472.0,19.9 472.2,20.0 472.5,21.0 472.7,22.7 473.0,25.1 473.2,28.1 473.4,31.4 473.7,35.0 473.9,38.7 474.2,42.5 474.4,46.1 474.6,49.5 474.9,52.6 475.1,55.2 475.4,57.2 475.6,58.5 475.8,58.9 476.1,58.1 476.3,56.0 476.6,52.9 476.8,48.9 477.0,44.5 477.3,39.7 477.5,34.8 477.8,30.1 478.0,25.9 478.2,22.3 478.5,19.7 478.7,18.2 479.0,18.1 479.2,18.9 479.5,20.4 479.7,22.4 479.9,25.0 480.2,28.1 480.4,31.4 480.7,34.9 480.9,38.6 481.1,42.3 481.4,45.9 481.6,49.4 481.9,52.5 482.1,55.3 482.3,57.7 482.6,59.4 482.8,60.5 483.1,60.8 483.3,60.2 483.5,58.4 483.8,55.9 484.0,52.8 484.3,49.3 484.5,45.8 484.7,42.3 485.0,39.1 485.2,36.4 485.5,34.5 485.7,33.6 485.9,33.8 486.2,35.0 486.4,36.9 486.7,39.6 486.9,42.8 487.2,46.5 487.4,50.4 487.6,54.5 487.9,58.7 488.1,62.8 488.4,66.7 488.6,70.3 488.8,73.4 489.1,75.9 489.3,77.7 489.6,78.6 489.8,78.5 490.0,77.5 490.3,75.5 490.5,72.8 490.8,69.5 491.0,65.9 491.2,62.0 491.5,58.0 491.7,54.2 492.0,50.7 492.2,47.5 492.4,45.0 492.7,43.3 492.9,42.5 493.2,42.7 493.4,43.5 493.7,44.9 493.9,46.7 494.1,48.9 494.4,51.3 494.6,53.9 494.9,56.6 495.1,59.2 495.3,61.8 495.6,64.1 495.8,66.1 496.1,67.7 496.3,68.7 496.5,69.2 496.8,68.9 497.0,67.7 497.3,65.6 497.5,62.8 497.7,59.4 498.0,55.6 498.2,51.5 498.5,47.2 498.7,42.8 498.9,38.6 499.2,34.6 499.4,30.9 499.7,27.8 499.9,25.2 500.2,23.5 500.4,22.6 500.6,22.6 500.9,23.2 501.1,24.4 501.4,25.9 501.6,27.6 501.8,29.6 502.1,31.6 502.3,33.6 502.6,35.4 502.8,37.0 503.0,38.3 503.3,39.1 503.5,39.4 503.8,39.2 504.0,38.5 504.2,37.5 504.5,36.2 504.7,34.7 505.0,33.1 505.2,31.3 505.4,29.5 505.7,27.8 505.9,26.1 506.2,24.6 506.4,23.4 506.6,22.4 506.9,21.8 507.1,21.6 507.4,21.8 507.6,22.5 507.9,23.6 508.1,25.0 508.3,26.7 508.6,28.6 508.8,30.6 509.1,32.8 509.3,35.1 509.5,37.4 509.8,39.7 510.0,41.9 510.3,44.0 510.5,45.9 510.7,47.6 511.0,49.0 511.2,50.0 511.5,50.8 511.7,51.0 511.9,50.8 512.2,50.2 512.4,49.1 512.7,47.8 512.9,46.2 513.1,44.6 513.4,43.0 513.6,41.4 513.9,40.0 514.1,38.9 514.4,38.1 514.6,37.8 514.8,38.1 515.1,39.2 515.3,40.8 515.6,42.9 515.8,45.3 516.0,48.0 516.3,50.9 516.5,53.7 516.8,56.5 517.0,59.1 517.2,61.4 517.5,63.3 517.7,64.7 518.0,65.4 518.2,65.4 518.4,64.8 518.7,63.7 518.9,62.2 519.2,60.3 519.4,58.2 519.6,55.9 519.9,53.5 520.1,51.2 520.4,48.9 520.6,46.8 520.9,44.9 521.1,43.4 521.3,42.4 521.6,41.8 521.8,41.8 522.1,42.4 522.3,43.4 522.5,44.7 522.8,46.4 523.0,48.3 523.3,50.3 523.5,52.4 523.7,54.6 524.0,56.7 524.2,58.6 524.5,60.4 524.7,61.9 524.9,63.0 525.2,63.8 525.4,64.1 525.7,63.8 525.9,63.0 526.1,61.8 526.4,60.2 526.6,58.2 526.9,55.8 527.1,53.3 527.4,50.4 527.6,47.5" fill="none" stroke="#e74c3c" stroke-width="1.35" stroke-opacity="0.850" stroke-linejoin="round" stroke-linecap="round" clip-path="url(#c02)"/>
<rect x="376.20" y="11.30" width="158.60" height="91.00" fill="none" stroke="#333" stroke-width="1.1"/>
<text x="383.41" y="111.20" font-size="5.82" text-anchor="middle" textLength="3.31" lengthAdjust="spacingAndGlyphs" fill="#262626" stroke="#262626" stroke-width="0.14">0</text>
<text x="412.25" y="111.20" font-size="5.82" text-anchor="middle" textLength="3.31" lengthAdjust="spacingAndGlyphs" fill="#262626" stroke="#262626" stroke-width="0.14">2</text>
<text x="441.08" y="111.20" font-size="5.82" text-anchor="middle" textLength="3.31" lengthAdjust="spacingAndGlyphs" fill="#262626" stroke="#262626" stroke-width="0.14">4</text>
<text x="469.92" y="111.20" font-size="5.82" text-anchor="middle" textLength="3.31" lengthAdjust="spacingAndGlyphs" fill="#262626" stroke="#262626" stroke-width="0.14">6</text>
<text x="498.75" y="111.20" font-size="5.82" text-anchor="middle" textLength="3.31" lengthAdjust="spacingAndGlyphs" fill="#262626" stroke="#262626" stroke-width="0.14">8</text>
<text x="527.59" y="111.20" font-size="5.82" text-anchor="middle" textLength="6.62" lengthAdjust="spacingAndGlyphs" fill="#262626" stroke="#262626" stroke-width="0.14">10</text>
<text x="371.60" y="93.20" font-size="5.82" text-anchor="end" textLength="7.67" lengthAdjust="spacingAndGlyphs" fill="#262626" stroke="#262626" stroke-width="0.14">−2</text>
<text x="371.60" y="75.35" font-size="5.82" text-anchor="end" textLength="7.67" lengthAdjust="spacingAndGlyphs" fill="#262626" stroke="#262626" stroke-width="0.14">−1</text>
<text x="371.60" y="57.50" font-size="5.82" text-anchor="end" textLength="3.31" lengthAdjust="spacingAndGlyphs" fill="#262626" stroke="#262626" stroke-width="0.14">0</text>
<text x="371.60" y="39.65" font-size="5.82" text-anchor="end" textLength="3.31" lengthAdjust="spacingAndGlyphs" fill="#262626" stroke="#262626" stroke-width="0.14">1</text>
<text x="371.60" y="21.80" font-size="5.82" text-anchor="end" textLength="3.31" lengthAdjust="spacingAndGlyphs" fill="#262626" stroke="#262626" stroke-width="0.14">2</text>
<line x1="31.70" y1="123.10" x2="31.70" y2="214.10" stroke="#e9e9e9" stroke-width="0.5" stroke-dasharray="1.5,1.5"/>
<line x1="60.52" y1="123.10" x2="60.52" y2="214.10" stroke="#e9e9e9" stroke-width="0.5" stroke-dasharray="1.5,1.5"/>
<line x1="89.34" y1="123.10" x2="89.34" y2="214.10" stroke="#e9e9e9" stroke-width="0.5" stroke-dasharray="1.5,1.5"/>
<line x1="118.16" y1="123.10" x2="118.16" y2="214.10" stroke="#e9e9e9" stroke-width="0.5" stroke-dasharray="1.5,1.5"/>
<line x1="146.98" y1="123.10" x2="146.98" y2="214.10" stroke="#e9e9e9" stroke-width="0.5" stroke-dasharray="1.5,1.5"/>
<line x1="175.80" y1="123.10" x2="175.80" y2="214.10" stroke="#e9e9e9" stroke-width="0.5" stroke-dasharray="1.5,1.5"/>
<line x1="24.50" y1="210.51" x2="183.00" y2="210.51" stroke="#e9e9e9" stroke-width="0.5" stroke-dasharray="1.5,1.5"/>
<line x1="24.50" y1="192.13" x2="183.00" y2="192.13" stroke="#e9e9e9" stroke-width="0.5" stroke-dasharray="1.5,1.5"/>
<line x1="24.50" y1="173.75" x2="183.00" y2="173.75" stroke="#e9e9e9" stroke-width="0.5" stroke-dasharray="1.5,1.5"/>
<line x1="24.50" y1="155.37" x2="183.00" y2="155.37" stroke="#e9e9e9" stroke-width="0.5" stroke-dasharray="1.5,1.5"/>
<line x1="24.50" y1="136.99" x2="183.00" y2="136.99" stroke="#e9e9e9" stroke-width="0.5" stroke-dasharray="1.5,1.5"/>
<polyline points="31.7,170.9 31.9,168.0 32.2,165.4 32.4,162.9 32.7,160.8 32.9,158.9 33.1,157.4 33.4,156.3 33.6,155.6 33.9,155.4 34.1,155.7 34.4,156.6 34.6,157.9 34.8,159.7 35.1,161.8 35.3,164.2 35.6,166.7 35.8,169.4 36.0,172.1 36.3,174.7 36.5,177.2 36.8,179.5 37.0,181.6 37.2,183.3 37.5,184.5 37.7,185.2 38.0,185.4 38.2,184.8 38.4,183.6 38.7,181.8 38.9,179.7 39.2,177.2 39.4,174.7 39.6,172.1 39.9,169.6 40.1,167.4 40.4,165.6 40.6,164.3 40.8,163.7 41.1,163.8 41.3,164.6 41.6,166.1 41.8,168.0 42.0,170.3 42.3,173.0 42.5,175.9 42.8,178.8 43.0,181.8 43.3,184.7 43.5,187.5 43.7,189.9 44.0,191.9 44.2,193.5 44.5,194.5 44.7,194.8 44.9,194.3 45.2,192.9 45.4,190.9 45.7,188.3 45.9,185.3 46.1,182.0 46.4,178.6 46.6,175.2 46.9,171.9 47.1,168.9 47.3,166.2 47.6,164.0 47.8,162.5 48.1,161.8 48.3,162.0 48.5,162.8 48.8,164.2 49.0,166.0 49.3,168.3 49.5,170.8 49.7,173.5 50.0,176.3 50.2,179.1 50.5,181.9 50.7,184.4 50.9,186.7 51.2,188.6 51.4,190.1 51.7,191.0 51.9,191.2 52.2,190.5 52.4,188.9 52.6,186.5 52.9,183.6 53.1,180.2 53.4,176.5 53.6,172.8 53.8,169.2 54.1,165.8 54.3,162.9 54.6,160.6 54.8,159.1 55.0,158.5 55.3,158.9 55.5,160.1 55.8,162.1 56.0,164.6 56.2,167.6 56.5,170.9 56.7,174.4 57.0,178.1 57.2,181.7 57.4,185.2 57.7,188.4 57.9,191.2 58.2,193.5 58.4,195.2 58.6,196.2 58.9,196.3 59.1,195.8 59.4,194.7 59.6,193.1 59.8,191.1 60.1,188.8 60.3,186.3 60.6,183.6 60.8,180.9 61.1,178.1 61.3,175.4 61.5,172.9 61.8,170.6 62.0,168.7 62.3,167.1 62.5,166.0 62.7,165.4 63.0,165.5 63.2,165.9 63.5,166.7 63.7,167.8 63.9,169.1 64.2,170.5 64.4,171.9 64.7,173.3 64.9,174.7 65.1,175.8 65.4,176.7 65.6,177.3 65.9,177.5 66.1,177.3 66.3,176.8 66.6,175.9 66.8,174.9 67.1,173.6 67.3,172.2 67.5,170.7 67.8,169.1 68.0,167.5 68.3,166.0 68.5,164.6 68.7,163.3 69.0,162.2 69.2,161.3 69.5,160.8 69.7,160.5 70.0,160.9 70.2,162.0 70.4,163.8 70.7,166.1 70.9,168.8 71.2,171.7 71.4,174.7 71.6,177.5 71.9,180.2 72.1,182.4 72.4,184.2 72.6,185.2 72.8,185.4 73.1,185.1 73.3,184.3 73.6,183.3 73.8,182.0 74.0,180.5 74.3,179.0 74.5,177.3 74.8,175.7 75.0,174.2 75.2,172.9 75.5,171.8 75.7,171.0 76.0,170.6 76.2,170.5 76.4,170.5 76.7,170.6 76.9,170.6 77.2,170.7 77.4,170.7 77.7,170.8 77.9,170.9 78.1,171.0 78.4,171.1 78.6,171.2 78.9,171.3 79.1,171.4 79.3,171.6 79.6,171.7 79.8,171.9 80.1,172.0 80.3,172.2 80.5,172.4 80.8,172.6 81.0,172.8 81.3,173.0 81.5,173.2 81.7,173.4 82.0,173.6 82.2,173.8 82.5,174.2 82.7,174.7 82.9,175.3 83.2,176.1 83.4,176.8 83.7,177.7 83.9,178.5 84.1,179.3 84.4,180.1 84.6,180.9 84.9,181.5 85.1,182.0 85.3,182.4 85.6,182.6 85.8,182.6 86.1,182.4 86.3,182.0 86.6,181.3 86.8,180.4 87.0,179.4 87.3,178.3 87.5,177.1 87.8,175.8 88.0,174.4 88.2,173.0 88.5,171.7 88.7,170.3 89.0,169.0 89.2,167.8 89.4,166.7 89.7,165.8 89.9,165.0 90.2,164.4 90.4,164.0 90.6,163.9 90.9,164.1 91.1,164.7 91.4,165.7 91.6,166.9 91.8,168.3 92.1,169.9 92.3,171.6 92.6,173.3 92.8,175.0 93.0,176.7 93.3,178.2 93.5,179.5 93.8,180.6 94.0,181.4 94.2,181.9 94.5,181.9 94.7,181.4 95.0,180.6 95.2,179.3 95.5,177.8 95.7,176.1 95.9,174.1 96.2,172.0 96.4,169.9 96.7,167.8 96.9,165.8 97.1,163.8 97.4,162.1 97.6,160.6 97.9,159.4 98.1,158.6 98.3,158.2 98.6,158.3 98.8,158.9 99.1,160.0 99.3,161.5 99.5,163.4 99.8,165.5 100.0,167.8 100.3,170.3 100.5,172.9 100.7,175.4 101.0,177.9 101.2,180.2 101.5,182.4 101.7,184.2 101.9,185.8 102.2,186.9 102.4,187.6 102.7,187.7 102.9,187.1 103.1,186.0 103.4,184.3 103.6,182.3 103.9,179.9 104.1,177.3 104.4,174.6 104.6,171.8 104.8,169.2 105.1,166.7 105.3,164.5 105.6,162.7 105.8,161.3 106.0,160.5 106.3,160.4 106.5,161.2 106.8,162.7 107.0,165.0 107.2,167.7 107.5,170.8 107.7,174.1 108.0,177.5 108.2,180.7 108.4,183.6 108.7,186.2 108.9,188.1 109.2,189.4 109.4,189.7 109.6,189.2 109.9,188.0 110.1,186.3 110.4,184.1 110.6,181.5 110.8,178.7 111.1,175.7 111.3,172.8 111.6,170.0 111.8,167.4 112.0,165.1 112.3,163.3 112.5,162.0 112.8,161.5 113.0,161.6 113.3,162.5 113.5,163.9 113.7,165.8 114.0,168.2 114.2,170.8 114.5,173.6 114.7,176.6 114.9,179.5 115.2,182.4 115.4,185.2 115.7,187.7 115.9,189.9 116.1,191.7 116.4,192.9 116.6,193.5 116.9,193.4 117.1,192.3 117.3,190.4 117.6,187.8 117.8,184.6 118.1,181.0 118.3,177.2 118.5,173.2 118.8,169.2 119.0,165.4 119.3,161.9 119.5,158.8 119.7,156.3 120.0,154.6 120.2,153.7 120.5,153.8 120.7,154.7 120.9,156.2 121.2,158.4 121.4,161.0 121.7,164.0 121.9,167.2 122.2,170.5 122.4,173.9 122.6,177.1 122.9,180.2 123.1,182.9 123.4,185.2 123.6,187.0 123.8,188.2 124.1,188.5 124.3,188.0 124.6,186.6 124.8,184.4 125.0,181.6 125.3,178.3 125.5,174.8 125.8,171.0 126.0,167.3 126.2,163.7 126.5,160.3 126.7,157.4 127.0,155.0 127.2,153.3 127.4,152.5 127.7,152.6 127.9,153.4 128.2,154.9 128.4,156.9 128.6,159.4 128.9,162.2 129.1,165.3 129.4,168.5 129.6,171.8 129.8,175.0 130.1,178.2 130.3,181.1 130.6,183.7 130.8,186.0 131.1,187.7 131.3,188.8 131.5,189.3 131.8,188.8 132.0,187.4 132.3,185.2 132.5,182.3 132.7,179.0 133.0,175.4 133.2,171.8 133.5,168.3 133.7,165.0 133.9,162.3 134.2,160.2 134.4,158.9 134.7,158.7 134.9,159.5 135.1,161.0 135.4,163.3 135.6,166.0 135.9,169.1 136.1,172.4 136.3,175.8 136.6,179.2 136.8,182.4 137.1,185.1 137.3,187.5 137.5,189.1 137.8,190.0 138.0,189.9 138.3,188.8 138.5,186.8 138.8,184.0 139.0,180.8 139.2,177.3 139.5,173.7 139.7,170.2 140.0,167.0 140.2,164.4 140.4,162.4 140.7,161.4 140.9,161.4 141.2,162.6 141.4,164.8 141.6,167.6 141.9,170.8 142.1,174.4 142.4,177.9 142.6,181.3 142.8,184.3 143.1,186.6 143.3,188.0 143.6,188.4 143.8,188.1 144.0,187.4 144.3,186.4 144.5,185.0 144.8,183.3 145.0,181.5 145.2,179.5 145.5,177.4 145.7,175.2 146.0,173.0 146.2,170.9 146.4,168.8 146.7,166.9 146.9,165.3 147.2,163.8 147.4,162.7 147.7,161.9 147.9,161.5 148.1,161.6 148.4,162.6 148.6,164.1 148.9,166.0 149.1,167.9 149.3,169.7 149.6,171.0 149.8,171.6 150.1,171.5 150.3,170.8 150.5,169.8 150.8,168.6 151.0,167.3 151.3,165.9 151.5,164.7 151.7,163.8 152.0,163.2 152.2,163.0 152.5,163.6 152.7,164.7 152.9,166.1 153.2,167.8 153.4,169.5 153.7,170.9 153.9,172.0 154.1,172.5 154.4,172.0 154.6,170.3 154.9,167.7 155.1,164.7 155.3,161.6 155.6,158.7 155.8,156.4 156.1,155.0 156.3,154.9 156.6,155.4 156.8,156.3 157.0,157.6 157.3,159.3 157.5,161.2 157.8,163.3 158.0,165.5 158.2,167.8 158.5,170.1 158.7,172.4 159.0,174.6 159.2,176.6 159.4,178.4 159.7,179.8 159.9,180.9 160.2,181.6 160.4,181.8 160.6,181.4 160.9,180.4 161.1,178.8 161.4,176.9 161.6,174.7 161.8,172.4 162.1,170.1 162.3,168.0 162.6,166.1 162.8,164.7 163.0,163.7 163.3,163.5 163.5,164.1 163.8,165.6 164.0,167.7 164.2,170.4 164.5,173.3 164.7,176.2 165.0,179.0 165.2,181.4 165.5,183.3 165.7,184.5 165.9,184.6 166.2,184.1 166.4,182.9 166.7,181.3 166.9,179.3 167.1,177.1 167.4,174.8 167.6,172.4 167.9,170.2 168.1,168.3 168.3,166.7 168.6,165.6 168.8,165.0 169.1,165.3 169.3,166.5 169.5,168.2 169.8,170.2 170.0,172.1 170.3,173.7 170.5,174.6 170.7,174.6 171.0,174.2 171.2,173.6 171.5,172.9 171.7,172.1 171.9,171.3 172.2,170.6 172.4,170.2 172.7,170.1 172.9,170.1 173.1,170.3 173.4,170.5 173.6,170.8 173.9,171.2 174.1,171.6 174.4,172.2 174.6,172.9 174.8,173.7 175.1,174.5 175.3,175.5 175.6,176.7 175.8,177.9" fill="none" stroke="#2c3e50" stroke-width="1.20" stroke-opacity="0.900" stroke-linejoin="round" stroke-linecap="butt" clip-path="url(#c10)"/>
<polyline points="31.7,169.5 32.2,164.8 32.7,160.8 33.2,157.9 33.6,156.2 34.1,148.0 34.6,161.4 35.1,161.8 35.6,167.1 36.0,173.2 36.5,177.4 37.0,180.8 37.5,184.9 38.0,189.4 38.5,183.7 38.9,179.4 39.4,176.0 39.9,166.2 40.4,161.9 40.9,162.9 41.3,165.4 41.8,165.6 42.3,171.8 42.8,179.4 43.3,185.5 43.8,189.9 44.2,193.6 44.7,200.9 45.2,193.3 45.7,186.2 46.2,181.9 46.6,175.0 47.1,169.5 47.6,163.5 48.1,162.3 48.6,163.9 49.1,166.4 49.5,171.9 50.0,175.7 50.5,180.8 51.0,186.7 51.5,189.7 51.9,193.6 52.4,188.8 52.9,183.6 53.4,174.0 53.9,168.6 54.4,164.2 54.8,158.0 55.3,159.9 55.8,163.3 56.3,168.6 56.8,174.8 57.2,181.2 57.7,188.7 58.2,187.5 58.7,196.5 59.2,195.6 59.7,192.5 60.1,188.4 60.6,182.6 61.1,175.8 61.6,171.9 62.1,168.2 62.5,167.4 63.0,165.2 63.5,162.3 64.0,170.7 64.5,171.5 65.0,174.3 65.4,177.0 65.9,178.3 66.4,176.9 66.9,175.2 67.4,181.8 67.8,166.6 68.3,165.4 68.8,163.7 69.3,162.2 69.8,160.6 70.3,158.6 70.7,167.9 71.2,172.4 71.7,179.4 72.2,190.3 72.7,184.4 73.1,183.9 73.6,183.4 74.1,179.6 74.6,177.0 75.1,175.6 75.6,167.3 76.0,171.7 76.5,171.9 77.0,172.3 77.5,154.6 78.0,170.7 78.4,170.9 78.9,172.9 79.4,158.1 79.9,171.8 80.4,171.9 80.9,173.0 81.3,172.1 81.8,160.9 82.3,175.1 82.8,175.8 83.3,175.6 83.8,177.5 84.2,181.4 84.7,179.9 85.2,181.6 85.7,181.4 86.2,182.6 86.6,181.3 87.1,180.0 87.6,185.1 88.1,171.7 88.6,169.7 89.1,171.3 89.5,166.2 90.0,166.3 90.5,179.2 91.0,155.6 91.5,167.3 91.9,160.8 92.4,172.0 92.9,176.7 93.4,194.9 93.9,187.2 94.4,182.0 94.8,181.6 95.3,179.5 95.8,188.4 96.3,172.0 96.8,168.1 97.2,163.0 97.7,159.2 98.2,155.4 98.7,158.5 99.2,164.7 99.7,165.3 100.1,168.2 100.6,174.6 101.1,177.7 101.6,184.0 102.1,186.0 102.5,187.9 103.0,187.3 103.5,182.8 104.0,179.1 104.5,172.6 105.0,167.9 105.4,164.5 105.9,160.9 106.4,157.0 106.9,163.0 107.4,170.2 107.8,175.9 108.3,183.9 108.8,186.7 109.3,197.6 109.8,190.3 110.3,185.2 110.7,180.3 111.2,175.5 111.7,169.5 112.2,163.9 112.7,162.7 113.1,166.1 113.6,154.5 114.1,170.3 114.6,174.8 115.1,181.9 115.6,186.3 116.0,191.9 116.5,192.1 117.0,194.6 117.5,187.2 118.0,192.9 118.4,174.6 118.9,166.9 119.4,164.1 119.9,155.1 120.4,148.0 120.9,156.5 121.3,161.4 121.8,166.9 122.3,173.8 122.8,176.0 123.3,181.7 123.7,187.5 124.2,189.6 124.7,195.4 125.2,178.2 125.7,174.9 126.2,164.4 126.6,159.3 127.1,152.8 127.6,166.2 128.1,151.7 128.6,159.9 129.1,165.1 129.5,169.4 130.0,172.4 130.5,183.3 131.0,191.2 131.5,191.0 131.9,188.3 132.4,183.2 132.9,186.0 133.4,169.4 133.9,164.0 134.4,159.3 134.8,159.2 135.3,161.4 135.8,166.5 136.3,175.0 136.8,193.2 137.2,160.0 137.7,190.4 138.2,189.9 138.7,184.9 139.2,179.2 139.7,170.5 140.1,165.1 140.6,161.3 141.1,156.1 141.6,167.5 142.1,174.4 142.5,200.4 143.0,192.0 143.5,188.2 144.0,187.6 144.5,186.5 145.0,181.8 145.4,179.0 145.9,174.0 146.4,161.8 146.9,167.5 147.4,162.8 147.8,161.4 148.3,162.5 148.8,166.0 149.3,169.7 149.8,175.6 150.3,171.2 150.7,165.8 151.2,166.1 151.7,165.0 152.2,162.8 152.7,164.3 153.1,167.7 153.6,176.3 154.1,171.9 154.6,170.7 155.1,164.7 155.6,126.9 156.0,154.9 156.5,158.8 157.0,158.0 157.5,161.1 158.0,159.7 158.4,154.5 158.9,174.2 159.4,179.6 159.9,180.3 160.4,180.8 160.9,179.6 161.3,186.6 161.8,174.1 162.3,167.3 162.8,164.9 163.3,163.7 163.7,165.1 164.2,171.5 164.7,177.2 165.2,181.8 165.7,159.0 166.2,184.5 166.6,181.1 167.1,164.1 167.6,171.1 168.1,169.2 168.6,165.8 169.0,166.4 169.5,182.9 170.0,171.6 170.5,174.2 171.0,174.2 171.5,172.8 171.9,172.0 172.4,170.3 172.9,169.5 173.4,164.6 173.9,170.2 174.3,171.8 174.8,173.9 175.3,210.5 175.8,178.8" fill="none" stroke="#e74c3c" stroke-width="1.40" stroke-opacity="0.620" stroke-linejoin="round" stroke-linecap="butt" clip-path="url(#c10)"/>
<rect x="24.50" y="123.10" width="158.50" height="91.00" fill="none" stroke="#333" stroke-width="1.1"/>
<text x="31.70" y="223.00" font-size="5.82" text-anchor="middle" textLength="3.31" lengthAdjust="spacingAndGlyphs" fill="#262626" stroke="#262626" stroke-width="0.14">0</text>
<text x="60.52" y="223.00" font-size="5.82" text-anchor="middle" textLength="3.31" lengthAdjust="spacingAndGlyphs" fill="#262626" stroke="#262626" stroke-width="0.14">2</text>
<text x="89.34" y="223.00" font-size="5.82" text-anchor="middle" textLength="3.31" lengthAdjust="spacingAndGlyphs" fill="#262626" stroke="#262626" stroke-width="0.14">4</text>
<text x="118.16" y="223.00" font-size="5.82" text-anchor="middle" textLength="3.31" lengthAdjust="spacingAndGlyphs" fill="#262626" stroke="#262626" stroke-width="0.14">6</text>
<text x="146.98" y="223.00" font-size="5.82" text-anchor="middle" textLength="3.31" lengthAdjust="spacingAndGlyphs" fill="#262626" stroke="#262626" stroke-width="0.14">8</text>
<text x="175.80" y="223.00" font-size="5.82" text-anchor="middle" textLength="6.62" lengthAdjust="spacingAndGlyphs" fill="#262626" stroke="#262626" stroke-width="0.14">10</text>
<text x="19.90" y="212.51" font-size="5.82" text-anchor="end" textLength="7.67" lengthAdjust="spacingAndGlyphs" fill="#262626" stroke="#262626" stroke-width="0.14">−4</text>
<text x="19.90" y="194.13" font-size="5.82" text-anchor="end" textLength="7.67" lengthAdjust="spacingAndGlyphs" fill="#262626" stroke="#262626" stroke-width="0.14">−2</text>
<text x="19.90" y="175.75" font-size="5.82" text-anchor="end" textLength="3.31" lengthAdjust="spacingAndGlyphs" fill="#262626" stroke="#262626" stroke-width="0.14">0</text>
<text x="19.90" y="157.37" font-size="5.82" text-anchor="end" textLength="3.31" lengthAdjust="spacingAndGlyphs" fill="#262626" stroke="#262626" stroke-width="0.14">2</text>
<text x="19.90" y="138.99" font-size="5.82" text-anchor="end" textLength="3.31" lengthAdjust="spacingAndGlyphs" fill="#262626" stroke="#262626" stroke-width="0.14">4</text>
<line x1="208.72" y1="123.10" x2="208.72" y2="214.10" stroke="#e9e9e9" stroke-width="0.5" stroke-dasharray="1.5,1.5"/>
<line x1="227.98" y1="123.10" x2="227.98" y2="214.10" stroke="#e9e9e9" stroke-width="0.5" stroke-dasharray="1.5,1.5"/>
<line x1="247.24" y1="123.10" x2="247.24" y2="214.10" stroke="#e9e9e9" stroke-width="0.5" stroke-dasharray="1.5,1.5"/>
<line x1="266.50" y1="123.10" x2="266.50" y2="214.10" stroke="#e9e9e9" stroke-width="0.5" stroke-dasharray="1.5,1.5"/>
<line x1="285.77" y1="123.10" x2="285.77" y2="214.10" stroke="#e9e9e9" stroke-width="0.5" stroke-dasharray="1.5,1.5"/>
<line x1="305.03" y1="123.10" x2="305.03" y2="214.10" stroke="#e9e9e9" stroke-width="0.5" stroke-dasharray="1.5,1.5"/>
<line x1="324.29" y1="123.10" x2="324.29" y2="214.10" stroke="#e9e9e9" stroke-width="0.5" stroke-dasharray="1.5,1.5"/>
<line x1="343.55" y1="123.10" x2="343.55" y2="214.10" stroke="#e9e9e9" stroke-width="0.5" stroke-dasharray="1.5,1.5"/>
<line x1="201.50" y1="209.90" x2="360.40" y2="209.90" stroke="#e9e9e9" stroke-width="0.5" stroke-dasharray="1.5,1.5"/>
<line x1="201.50" y1="196.93" x2="360.40" y2="196.93" stroke="#e9e9e9" stroke-width="0.5" stroke-dasharray="1.5,1.5"/>
<line x1="201.50" y1="183.95" x2="360.40" y2="183.95" stroke="#e9e9e9" stroke-width="0.5" stroke-dasharray="1.5,1.5"/>
<line x1="201.50" y1="170.97" x2="360.40" y2="170.97" stroke="#e9e9e9" stroke-width="0.5" stroke-dasharray="1.5,1.5"/>
<line x1="201.50" y1="158.00" x2="360.40" y2="158.00" stroke="#e9e9e9" stroke-width="0.5" stroke-dasharray="1.5,1.5"/>
<line x1="201.50" y1="145.03" x2="360.40" y2="145.03" stroke="#e9e9e9" stroke-width="0.5" stroke-dasharray="1.5,1.5"/>
<line x1="201.50" y1="132.05" x2="360.40" y2="132.05" stroke="#e9e9e9" stroke-width="0.5" stroke-dasharray="1.5,1.5"/>
<polyline points="208.7,209.9 209.7,189.7 210.6,201.6 211.6,199.5 212.6,198.5 213.5,184.7 214.5,201.1 215.5,198.5 216.4,199.0 217.4,198.0 218.4,198.5 219.3,199.0 220.3,198.0 221.2,198.5 222.2,199.0 223.2,198.0 224.1,198.5 225.1,198.5 226.1,186.1 227.0,198.5 228.0,126.9 228.9,194.3 229.9,201.6 230.9,199.5 231.8,197.4 232.8,195.9 233.8,196.9 234.7,199.5 235.7,202.1 236.7,203.7 237.6,204.7 238.6,205.7 239.5,206.8 240.5,207.3 241.5,207.8 242.4,208.3 243.4,208.9 244.4,209.1 245.3,209.4 246.3,209.5 247.2,209.6 248.2,209.6 249.2,209.6 250.1,209.6 251.1,209.6 252.1,209.6 253.0,209.6 254.0,209.6 254.9,209.6 255.9,209.6 256.9,209.6 257.8,209.6 258.8,209.6 259.8,209.6 260.7,209.6 261.7,209.6 262.7,209.6 263.6,209.6 264.6,209.6 265.5,209.6 266.5,209.6 267.5,209.6 268.4,209.6 269.4,209.6 270.4,209.6 271.3,209.6 272.3,209.6 273.2,209.6 274.2,209.6 275.2,209.6 276.1,209.6 277.1,209.6 278.1,209.6 279.0,209.6 280.0,209.6 280.9,209.6 281.9,209.6 282.9,209.6 283.8,209.6 284.8,209.6 285.8,209.6 286.7,209.6 287.7,209.6 288.7,209.6 289.6,209.6 290.6,209.6 291.5,209.6 292.5,209.6 293.5,209.6 294.4,209.6 295.4,209.6 296.4,209.6 297.3,209.6 298.3,209.6 299.2,209.6 300.2,209.6 301.2,209.6 302.1,209.6 303.1,209.6 304.1,209.6 305.0,209.6 306.0,209.6 307.0,209.6 307.9,209.6 308.9,209.6 309.8,209.6 310.8,209.6 311.8,209.6 312.7,209.6 313.7,209.6 314.7,209.6 315.6,209.6 316.6,209.6 317.5,209.6 318.5,209.6 319.5,209.6 320.4,209.6 321.4,209.6 322.4,209.6 323.3,209.6 324.3,209.6 325.2,209.6 326.2,209.6 327.2,209.6 328.1,209.6 329.1,209.6 330.1,209.6 331.0,209.6 332.0,209.6 333.0,209.6 333.9,209.6 334.9,209.6 335.8,209.6 336.8,209.6 337.8,209.6 338.7,209.6 339.7,209.6 340.7,209.6 341.6,209.6 342.6,209.6 343.5,209.6 344.5,209.6 345.5,209.6 346.4,209.6 347.4,209.6 348.4,209.6 349.3,209.6 350.3,209.6 351.3,209.6 352.2,209.6 353.2,209.6" fill="none" stroke="#2c3e50" stroke-width="1.40" stroke-opacity="1.000" stroke-linejoin="round" stroke-linecap="butt" clip-path="url(#c11)"/>
<polyline points="208.7,209.9 209.7,188.5 210.6,196.2 211.6,195.4 212.6,203.2 213.5,189.2 214.5,198.2 215.5,202.6 216.4,198.9 217.4,200.9 218.4,193.4 219.3,198.0 220.3,198.2 221.2,192.9 222.2,200.7 223.2,189.0 224.1,199.8 225.1,189.6 226.1,185.9 227.0,197.7 228.0,123.0 228.9,193.0 229.9,197.9 230.9,207.1 231.8,202.7 232.8,198.3 233.8,195.0 234.7,193.3 235.7,199.5 236.7,204.4 237.6,201.6 238.6,202.3 239.5,200.8 240.5,204.8 241.5,206.1 242.4,207.0 243.4,206.7 244.4,207.9 245.3,207.5 246.3,198.1 247.2,199.3 248.2,197.4 249.2,206.9 250.1,207.8 251.1,206.1 252.1,204.2 253.0,202.5 254.0,200.3 254.9,198.8 255.9,201.1 256.9,201.5 257.8,203.6 258.8,207.4 259.8,201.9 260.7,205.3 261.7,196.9 262.7,204.8 263.6,203.6 264.6,205.0 265.5,202.5 266.5,207.8 267.5,198.7 268.4,202.1 269.4,198.2 270.4,206.7 271.3,204.8 272.3,205.9 273.2,202.2 274.2,207.7 275.2,206.5 276.1,200.0 277.1,205.0 278.1,204.3 279.0,208.5 280.0,203.0 280.9,204.3 281.9,205.8 282.9,201.9 283.8,201.5 284.8,203.1 285.8,207.9 286.7,203.5 287.7,200.4 288.7,202.5 289.6,206.5 290.6,202.5 291.5,198.3 292.5,204.7 293.5,203.2 294.4,203.6 295.4,204.4 296.4,207.0 297.3,201.8 298.3,206.9 299.2,201.8 300.2,203.2 301.2,201.9 302.1,195.7 303.1,201.3 304.1,202.8 305.0,202.4 306.0,201.3 307.0,204.1 307.9,207.3 308.9,205.5 309.8,204.1 310.8,203.4 311.8,207.4 312.7,208.7 313.7,203.4 314.7,199.2 315.6,202.4 316.6,196.6 317.5,206.8 318.5,200.5 319.5,204.1 320.4,201.8 321.4,202.0 322.4,205.0 323.3,204.9 324.3,205.2 325.2,205.7 326.2,207.5 327.2,200.2 328.1,206.8 329.1,207.1 330.1,204.4 331.0,198.7 332.0,199.7 333.0,203.6 333.9,207.0 334.9,204.4 335.8,207.9 336.8,206.5 337.8,204.9 338.7,206.2 339.7,207.4 340.7,200.5 341.6,207.8 342.6,203.0 343.5,204.8 344.5,198.0 345.5,203.4 346.4,198.4 347.4,206.5 348.4,207.1 349.3,203.1 350.3,201.4 351.3,201.0 352.2,204.6 353.2,201.4" fill="none" stroke="#e74c3c" stroke-width="1.20" stroke-opacity="0.600" stroke-linejoin="round" stroke-linecap="butt" clip-path="url(#c11)"/>
<line x1="201.50" y1="181.46" x2="360.40" y2="181.46" stroke="#2ecc71" stroke-width="1.15" stroke-opacity="0.90" stroke-dasharray="4.1,1.5"/>
<line x1="201.50" y1="197.81" x2="360.40" y2="197.81" stroke="#f39c12" stroke-width="1.10" stroke-opacity="0.85" stroke-dasharray="1.15,1.63"/>
<rect x="201.50" y="123.10" width="158.90" height="91.00" fill="none" stroke="#333" stroke-width="1.1"/>
<text x="208.72" y="223.00" font-size="5.82" text-anchor="middle" textLength="3.31" lengthAdjust="spacingAndGlyphs" fill="#262626" stroke="#262626" stroke-width="0.14">0</text>
<text x="227.98" y="223.00" font-size="5.82" text-anchor="middle" textLength="3.31" lengthAdjust="spacingAndGlyphs" fill="#262626" stroke="#262626" stroke-width="0.14">2</text>
<text x="247.24" y="223.00" font-size="5.82" text-anchor="middle" textLength="3.31" lengthAdjust="spacingAndGlyphs" fill="#262626" stroke="#262626" stroke-width="0.14">4</text>
<text x="266.50" y="223.00" font-size="5.82" text-anchor="middle" textLength="3.31" lengthAdjust="spacingAndGlyphs" fill="#262626" stroke="#262626" stroke-width="0.14">6</text>
<text x="285.77" y="223.00" font-size="5.82" text-anchor="middle" textLength="3.31" lengthAdjust="spacingAndGlyphs" fill="#262626" stroke="#262626" stroke-width="0.14">8</text>
<text x="305.03" y="223.00" font-size="5.82" text-anchor="middle" textLength="6.62" lengthAdjust="spacingAndGlyphs" fill="#262626" stroke="#262626" stroke-width="0.14">10</text>
<text x="324.29" y="223.00" font-size="5.82" text-anchor="middle" textLength="6.62" lengthAdjust="spacingAndGlyphs" fill="#262626" stroke="#262626" stroke-width="0.14">12</text>
<text x="343.55" y="223.00" font-size="5.82" text-anchor="middle" textLength="6.62" lengthAdjust="spacingAndGlyphs" fill="#262626" stroke="#262626" stroke-width="0.14">14</text>
<text x="196.90" y="211.90" font-size="5.82" text-anchor="end" textLength="3.31" lengthAdjust="spacingAndGlyphs" fill="#262626" stroke="#262626" stroke-width="0.14">0</text>
<text x="196.90" y="198.93" font-size="5.82" text-anchor="end" textLength="6.62" lengthAdjust="spacingAndGlyphs" fill="#262626" stroke="#262626" stroke-width="0.14">25</text>
<text x="196.90" y="185.95" font-size="5.82" text-anchor="end" textLength="6.62" lengthAdjust="spacingAndGlyphs" fill="#262626" stroke="#262626" stroke-width="0.14">50</text>
<text x="196.90" y="172.97" font-size="5.82" text-anchor="end" textLength="6.62" lengthAdjust="spacingAndGlyphs" fill="#262626" stroke="#262626" stroke-width="0.14">75</text>
<text x="196.90" y="160.00" font-size="5.82" text-anchor="end" textLength="9.93" lengthAdjust="spacingAndGlyphs" fill="#262626" stroke="#262626" stroke-width="0.14">100</text>
<text x="196.90" y="147.03" font-size="5.82" text-anchor="end" textLength="9.93" lengthAdjust="spacingAndGlyphs" fill="#262626" stroke="#262626" stroke-width="0.14">125</text>
<text x="196.90" y="134.05" font-size="5.82" text-anchor="end" textLength="9.93" lengthAdjust="spacingAndGlyphs" fill="#262626" stroke="#262626" stroke-width="0.14">150</text>
<line x1="383.41" y1="123.10" x2="383.41" y2="214.10" stroke="#e9e9e9" stroke-width="0.5" stroke-dasharray="1.5,1.5"/>
<line x1="412.25" y1="123.10" x2="412.25" y2="214.10" stroke="#e9e9e9" stroke-width="0.5" stroke-dasharray="1.5,1.5"/>
<line x1="441.08" y1="123.10" x2="441.08" y2="214.10" stroke="#e9e9e9" stroke-width="0.5" stroke-dasharray="1.5,1.5"/>
<line x1="469.92" y1="123.10" x2="469.92" y2="214.10" stroke="#e9e9e9" stroke-width="0.5" stroke-dasharray="1.5,1.5"/>
<line x1="498.75" y1="123.10" x2="498.75" y2="214.10" stroke="#e9e9e9" stroke-width="0.5" stroke-dasharray="1.5,1.5"/>
<line x1="527.59" y1="123.10" x2="527.59" y2="214.10" stroke="#e9e9e9" stroke-width="0.5" stroke-dasharray="1.5,1.5"/>
<line x1="376.20" y1="201.25" x2="534.80" y2="201.25" stroke="#e9e9e9" stroke-width="0.5" stroke-dasharray="1.5,1.5"/>
<line x1="376.20" y1="183.95" x2="534.80" y2="183.95" stroke="#e9e9e9" stroke-width="0.5" stroke-dasharray="1.5,1.5"/>
<line x1="376.20" y1="166.65" x2="534.80" y2="166.65" stroke="#e9e9e9" stroke-width="0.5" stroke-dasharray="1.5,1.5"/>
<line x1="376.20" y1="149.35" x2="534.80" y2="149.35" stroke="#e9e9e9" stroke-width="0.5" stroke-dasharray="1.5,1.5"/>
<line x1="376.20" y1="132.05" x2="534.80" y2="132.05" stroke="#e9e9e9" stroke-width="0.5" stroke-dasharray="1.5,1.5"/>
<polyline points="383.4,161.3 383.6,155.9 383.9,150.9 384.1,146.3 384.4,142.2 384.6,138.7 384.9,135.9 385.1,133.8 385.3,132.5 385.6,132.1 385.8,132.6 386.1,134.3 386.3,136.9 386.5,140.2 386.8,144.2 387.0,148.7 387.3,153.5 387.5,158.5 387.7,163.5 388.0,168.5 388.2,173.2 388.5,177.5 388.7,181.4 388.9,184.5 389.2,186.9 389.4,188.3 389.7,188.6 389.9,187.5 390.1,185.2 390.4,181.9 390.6,177.8 390.9,173.2 391.1,168.3 391.4,163.5 391.6,158.9 391.8,154.7 392.1,151.3 392.3,148.9 392.6,147.7 392.8,147.9 393.0,149.5 393.3,152.2 393.5,155.8 393.8,160.2 394.0,165.2 394.2,170.6 394.5,176.2 394.7,181.9 395.0,187.3 395.2,192.5 395.4,197.0 395.7,200.9 395.9,203.8 396.2,205.7 396.4,206.3 396.6,205.3 396.9,202.7 397.1,198.9 397.4,194.0 397.6,188.4 397.9,182.3 398.1,175.8 398.3,169.4 398.6,163.2 398.8,157.4 399.1,152.4 399.3,148.4 399.5,145.6 399.8,144.2 400.0,144.5 400.3,146.0 400.5,148.6 400.7,152.1 401.0,156.3 401.2,161.0 401.5,166.2 401.7,171.5 401.9,176.8 402.2,181.9 402.4,186.7 402.7,191.0 402.9,194.6 403.1,197.3 403.4,199.0 403.6,199.5 403.9,198.2 404.1,195.2 404.4,190.7 404.6,185.1 404.8,178.7 405.1,171.9 405.3,164.9 405.6,158.1 405.8,151.7 406.0,146.2 406.3,141.9 406.5,139.0 406.8,137.9 407.0,138.7 407.2,141.0 407.5,144.7 407.7,149.4 408.0,155.0 408.2,161.3 408.4,167.9 408.7,174.8 408.9,181.6 409.2,188.1 409.4,194.2 409.6,199.5 409.9,203.9 410.1,207.1 410.4,208.9 410.6,209.1 410.8,208.1 411.1,206.0 411.3,203.0 411.6,199.3 411.8,195.0 412.1,190.3 412.3,185.2 412.5,180.0 412.8,174.9 413.0,169.8 413.3,165.1 413.5,160.8 413.7,157.1 414.0,154.1 414.2,152.0 414.5,151.0 414.7,151.1 414.9,151.9 415.2,153.5 415.4,155.5 415.7,157.9 415.9,160.5 416.1,163.2 416.4,165.9 416.6,168.4 416.9,170.5 417.1,172.2 417.3,173.4 417.6,173.7 417.8,173.4 418.1,172.3 418.3,170.8 418.6,168.8 418.8,166.4 419.0,163.7 419.3,160.8 419.5,157.9 419.8,154.9 420.0,152.1 420.2,149.4 420.5,146.9 420.7,144.9 421.0,143.3 421.2,142.2 421.4,141.7 421.7,142.4 421.9,144.5 422.2,147.9 422.4,152.3 422.6,157.3 422.9,162.8 423.1,168.4 423.4,173.8 423.6,178.8 423.8,183.0 424.1,186.2 424.3,188.2 424.6,188.6 424.8,187.9 425.1,186.6 425.3,184.6 425.5,182.2 425.8,179.4 426.0,176.4 426.3,173.4 426.5,170.4 426.7,167.6 427.0,165.1 427.2,163.0 427.5,161.5 427.7,160.7 427.9,160.6 428.2,160.6 428.4,160.7 428.7,160.7 428.9,160.8 429.1,160.9 429.4,161.1 429.6,161.2 429.9,161.4 430.1,161.6 430.3,161.8 430.6,162.0 430.8,162.3 431.1,162.5 431.3,162.8 431.5,163.1 431.8,163.4 432.0,163.8 432.3,164.1 432.5,164.4 432.8,164.8 433.0,165.2 433.2,165.6 433.5,166.0 433.7,166.4 434.0,166.8 434.2,167.5 434.4,168.5 434.7,169.6 434.9,171.0 435.2,172.5 435.4,174.0 435.6,175.6 435.9,177.2 436.1,178.7 436.4,180.0 436.6,181.2 436.8,182.2 437.1,182.9 437.3,183.4 437.6,183.4 437.8,183.0 438.0,182.1 438.3,180.8 438.5,179.2 438.8,177.4 439.0,175.2 439.3,172.9 439.5,170.4 439.7,167.9 440.0,165.3 440.2,162.7 440.5,160.2 440.7,157.8 440.9,155.5 441.2,153.5 441.4,151.7 441.7,150.2 441.9,149.1 442.1,148.4 442.4,148.1 442.6,148.5 442.9,149.7 443.1,151.4 443.3,153.7 443.6,156.4 443.8,159.4 444.1,162.6 444.3,165.8 444.5,169.1 444.8,172.2 445.0,175.0 445.3,177.5 445.5,179.6 445.8,181.1 446.0,181.9 446.2,182.0 446.5,181.1 446.7,179.5 447.0,177.2 447.2,174.3 447.4,171.0 447.7,167.3 447.9,163.4 448.2,159.4 448.4,155.5 448.6,151.6 448.9,148.0 449.1,144.7 449.4,141.9 449.6,139.6 449.8,138.0 450.1,137.3 450.3,137.5 450.6,138.7 450.8,140.8 451.0,143.6 451.3,147.1 451.5,151.1 451.8,155.5 452.0,160.2 452.3,165.0 452.5,169.8 452.7,174.4 453.0,178.9 453.2,182.9 453.5,186.4 453.7,189.3 453.9,191.4 454.2,192.7 454.4,192.9 454.7,191.9 454.9,189.7 455.1,186.6 455.4,182.7 455.6,178.2 455.9,173.3 456.1,168.2 456.3,163.0 456.6,158.0 456.8,153.4 457.1,149.2 457.3,145.8 457.5,143.2 457.8,141.7 458.0,141.5 458.3,142.9 458.5,145.9 458.7,150.1 459.0,155.3 459.2,161.2 459.5,167.4 459.7,173.6 460.0,179.7 460.2,185.3 460.4,190.1 460.7,193.8 460.9,196.1 461.2,196.7 461.4,195.8 461.6,193.6 461.9,190.2 462.1,186.0 462.4,181.2 462.6,175.9 462.8,170.4 463.1,164.9 463.3,159.5 463.6,154.6 463.8,150.4 464.0,146.9 464.3,144.6 464.5,143.5 464.8,143.9 465.0,145.5 465.2,148.2 465.5,151.8 465.7,156.1 466.0,161.1 466.2,166.4 466.5,171.9 466.7,177.5 466.9,183.0 467.2,188.2 467.4,193.0 467.7,197.1 467.9,200.4 468.1,202.7 468.4,203.9 468.6,203.7 468.9,201.7 469.1,198.0 469.3,193.1 469.6,187.1 469.8,180.4 470.1,173.1 470.3,165.6 470.5,158.1 470.8,151.0 471.0,144.3 471.3,138.6 471.5,133.9 471.7,130.6 472.0,128.9 472.2,129.1 472.5,130.7 472.7,133.7 473.0,137.7 473.2,142.7 473.4,148.2 473.7,154.3 473.9,160.5 474.2,166.9 474.4,173.0 474.6,178.8 474.9,183.9 475.1,188.3 475.4,191.6 475.6,193.8 475.8,194.5 476.1,193.5 476.3,190.8 476.6,186.7 476.8,181.4 477.0,175.3 477.3,168.6 477.5,161.6 477.8,154.5 478.0,147.7 478.2,141.3 478.5,135.8 478.7,131.3 479.0,128.2 479.2,126.6 479.5,126.8 479.7,128.4 479.9,131.2 480.2,135.0 480.4,139.6 480.7,144.9 480.9,150.7 481.1,156.7 481.4,162.9 481.6,169.1 481.9,175.0 482.1,180.5 482.3,185.4 482.6,189.6 482.8,192.9 483.1,195.0 483.3,195.9 483.5,195.1 483.8,192.4 484.0,188.1 484.3,182.7 484.5,176.5 484.7,169.8 485.0,162.9 485.2,156.3 485.5,150.2 485.7,145.0 485.9,141.1 486.2,138.8 486.4,138.4 486.7,139.8 486.9,142.7 487.2,146.9 487.4,152.0 487.6,157.9 487.9,164.2 488.1,170.6 488.4,176.9 488.6,182.8 488.8,188.1 489.1,192.4 489.3,195.6 489.6,197.2 489.8,197.1 490.0,195.0 490.3,191.2 490.5,186.0 490.8,180.0 491.0,173.4 491.2,166.6 491.5,160.0 491.7,154.0 492.0,149.0 492.2,145.3 492.4,143.3 492.7,143.5 492.9,145.7 493.2,149.7 493.4,155.0 493.7,161.2 493.9,167.8 494.1,174.5 494.4,180.9 494.6,186.4 494.9,190.8 495.1,193.6 495.3,194.3 495.6,193.7 495.8,192.4 496.1,190.4 496.3,187.8 496.5,184.7 496.8,181.2 497.0,177.4 497.3,173.4 497.5,169.3 497.7,165.2 498.0,161.2 498.2,157.4 498.5,153.8 498.7,150.7 498.9,147.9 499.2,145.8 499.4,144.3 499.7,143.5 499.9,143.8 500.2,145.6 500.4,148.5 500.6,152.0 500.9,155.7 501.1,159.0 501.4,161.5 501.6,162.6 501.8,162.3 502.1,161.1 502.3,159.3 502.6,157.0 502.8,154.5 503.0,152.0 503.3,149.7 503.5,147.9 503.8,146.7 504.0,146.5 504.2,147.5 504.5,149.5 504.7,152.3 505.0,155.5 505.2,158.6 505.4,161.3 505.7,163.3 505.9,164.2 506.2,163.3 506.4,160.1 506.6,155.3 506.9,149.7 507.1,143.7 507.4,138.3 507.6,133.9 507.9,131.4 508.1,131.1 508.3,132.0 508.6,133.8 508.8,136.3 509.1,139.4 509.3,142.9 509.5,146.9 509.8,151.1 510.0,155.5 510.3,159.9 510.5,164.1 510.7,168.2 511.0,172.0 511.2,175.3 511.5,178.1 511.7,180.2 511.9,181.5 512.2,181.9 512.4,181.1 512.7,179.1 512.9,176.1 513.1,172.5 513.4,168.4 513.6,164.1 513.9,159.8 514.1,155.8 514.4,152.3 514.6,149.6 514.8,147.8 515.1,147.3 515.3,148.5 515.6,151.3 515.8,155.3 516.0,160.3 516.3,165.7 516.5,171.2 516.8,176.5 517.0,181.1 517.2,184.7 517.5,186.8 517.7,187.2 518.0,186.1 518.2,183.9 518.4,180.8 518.7,177.1 518.9,172.9 519.2,168.5 519.4,164.2 519.6,160.0 519.9,156.3 520.1,153.3 520.4,151.2 520.6,150.3 520.9,150.8 521.1,152.9 521.3,156.2 521.6,159.9 521.8,163.5 522.1,166.5 522.3,168.2 522.5,168.3 522.8,167.6 523.0,166.4 523.3,165.0 523.5,163.5 523.7,162.0 524.0,160.8 524.2,160.0 524.5,159.7 524.7,159.8 524.9,160.1 525.2,160.5 525.4,161.0 525.7,161.8 525.9,162.7 526.1,163.7 526.4,165.0 526.6,166.5 526.9,168.2 527.1,170.0 527.4,172.1 527.6,174.4" fill="none" stroke="#9fadbd" stroke-width="2.30" stroke-opacity="0.850" stroke-linejoin="round" stroke-linecap="round" clip-path="url(#c12)"/>
<polyline points="383.4,172.9 383.6,165.5 383.9,158.5 384.1,151.9 384.4,146.1 384.6,140.9 384.9,136.7 385.1,133.5 385.3,131.5 385.6,130.8 385.8,131.4 386.1,133.1 386.3,135.8 386.5,139.2 386.8,143.2 387.0,147.8 387.3,152.7 387.5,157.8 387.7,163.0 388.0,168.0 388.2,172.9 388.5,177.3 388.7,181.2 388.9,184.5 389.2,186.9 389.4,188.3 389.7,188.6 389.9,187.5 390.1,185.1 390.4,181.7 390.6,177.5 390.9,172.7 391.1,167.7 391.4,162.8 391.6,158.0 391.8,153.7 392.1,150.2 392.3,147.7 392.6,146.5 392.8,146.7 393.0,148.3 393.3,151.1 393.5,154.8 393.8,159.3 394.0,164.4 394.2,169.9 394.5,175.6 394.7,181.4 395.0,186.9 395.2,192.2 395.4,196.8 395.7,200.8 395.9,203.8 396.2,205.7 396.4,206.3 396.6,205.2 396.9,202.6 397.1,198.6 397.4,193.5 397.6,187.6 397.9,181.2 398.1,174.5 398.3,167.8 398.6,161.3 398.8,155.3 399.1,150.0 399.3,145.8 399.5,142.9 399.8,141.5 400.0,141.7 400.3,143.3 400.5,146.1 400.7,149.7 401.0,154.1 401.2,159.1 401.5,164.5 401.7,170.0 401.9,175.6 402.2,181.0 402.4,186.1 402.7,190.6 402.9,194.4 403.1,197.2 403.4,199.0 403.6,199.5 403.9,198.2 404.1,195.2 404.4,190.7 404.6,185.1 404.8,178.7 405.1,171.9 405.3,164.9 405.6,158.1 405.8,151.7 406.0,146.2 406.3,141.9 406.5,139.0 406.8,137.9 407.0,138.6 407.2,140.7 407.5,144.0 407.7,148.3 408.0,153.4 408.2,159.0 408.4,165.0 408.7,171.2 408.9,177.3 409.2,183.2 409.4,188.7 409.6,193.5 409.9,197.5 410.1,200.4 410.4,202.0 410.6,202.2 410.8,201.3 411.1,199.5 411.3,196.9 411.6,193.7 411.8,190.0 412.1,185.8 412.3,181.4 412.5,176.9 412.8,172.4 413.0,168.0 413.3,163.9 413.5,160.2 413.7,157.0 414.0,154.4 414.2,152.6 414.5,151.7 414.7,151.8 414.9,153.2 415.2,155.6 415.4,158.7 415.7,162.5 415.9,166.6 416.1,170.8 416.4,175.0 416.6,178.9 416.9,182.2 417.1,184.9 417.3,186.6 417.6,187.2 417.8,186.7 418.1,185.3 418.3,183.0 418.6,180.1 418.8,176.7 419.0,173.0 419.3,168.9 419.5,164.7 419.8,160.5 420.0,156.4 420.2,152.6 420.5,149.1 420.7,146.2 421.0,143.9 421.2,142.4 421.4,141.7 421.7,142.4 421.9,144.5 422.2,147.9 422.4,152.3 422.6,157.3 422.9,162.8 423.1,168.4 423.4,173.8 423.6,178.8 423.8,183.0 424.1,186.2 424.3,188.2 424.6,188.6 424.8,187.8 425.1,186.0 425.3,183.6 425.5,180.6 425.8,177.3 426.0,173.8 426.3,170.2 426.5,166.9 426.7,163.9 427.0,161.5 427.2,159.7 427.5,158.9 427.7,158.9 427.9,159.3 428.2,159.9 428.4,160.7 428.7,161.6 428.9,162.6 429.1,163.6 429.4,164.5 429.6,165.3 429.9,165.9 430.1,166.2 430.3,166.3 430.6,166.0 430.8,165.3 431.1,164.4 431.3,163.4 431.5,162.2 431.8,161.0 432.0,159.8 432.3,158.6 432.5,157.7 432.8,157.0 433.0,156.5 433.2,156.5 433.5,156.8 433.7,157.4 434.0,158.4 434.2,159.5 434.4,160.9 434.7,162.5 434.9,164.1 435.2,165.9 435.4,167.6 435.6,169.4 435.9,171.1 436.1,172.6 436.4,174.1 436.6,175.3 436.8,176.3 437.1,177.1 437.3,177.5 437.6,177.5 437.8,177.2 438.0,176.6 438.3,175.7 438.5,174.6 438.8,173.3 439.0,171.8 439.3,170.2 439.5,168.4 439.7,166.6 440.0,164.8 440.2,163.0 440.5,161.2 440.7,159.6 440.9,158.0 441.2,156.5 441.4,155.3 441.7,154.3 441.9,153.5 442.1,153.0 442.4,152.8 442.6,153.1 442.9,154.0 443.1,155.4 443.3,157.1 443.6,159.2 443.8,161.5 444.1,164.0 444.3,166.5 444.5,169.0 444.8,171.4 445.0,173.7 445.3,175.6 445.5,177.2 445.8,178.4 446.0,179.0 446.2,179.0 446.5,178.3 446.7,176.8 447.0,174.7 447.2,172.2 447.4,169.2 447.7,165.9 447.9,162.4 448.2,158.9 448.4,155.3 448.6,151.8 448.9,148.6 449.1,145.6 449.4,143.1 449.6,141.1 449.8,139.7 450.1,139.0 450.3,139.2 450.6,140.4 450.8,142.4 451.0,145.2 451.3,148.6 451.5,152.4 451.8,156.7 452.0,161.2 452.3,165.9 452.5,170.5 452.7,175.0 453.0,179.3 453.2,183.2 453.5,186.6 453.7,189.4 453.9,191.5 454.2,192.7 454.4,192.9 454.7,191.9 454.9,189.7 455.1,186.6 455.4,182.7 455.6,178.2 455.9,173.3 456.1,168.2 456.3,163.0 456.6,158.0 456.8,153.4 457.1,149.2 457.3,145.8 457.5,143.2 457.8,141.7 458.0,141.5 458.3,142.9 458.5,145.7 458.7,149.8 459.0,154.8 459.2,160.4 459.5,166.3 459.7,172.3 460.0,178.2 460.2,183.5 460.4,188.1 460.7,191.6 460.9,193.9 461.2,194.5 461.4,193.7 461.6,191.8 461.9,188.9 462.1,185.3 462.4,181.1 462.6,176.6 462.8,171.8 463.1,167.1 463.3,162.5 463.6,158.3 463.8,154.6 464.0,151.6 464.3,149.6 464.5,148.7 464.8,149.0 465.0,150.5 465.2,153.0 465.5,156.3 465.7,160.2 466.0,164.7 466.2,169.6 466.5,174.7 466.7,179.8 466.9,184.8 467.2,189.6 467.4,193.9 467.7,197.7 467.9,200.7 468.1,202.8 468.4,203.9 468.6,203.7 468.9,201.8 469.1,198.3 469.3,193.6 469.6,187.9 469.8,181.4 470.1,174.5 470.3,167.3 470.5,160.1 470.8,153.3 471.0,146.9 471.3,141.4 471.5,136.9 471.7,133.8 472.0,132.2 472.2,132.3 472.5,133.9 472.7,136.7 473.0,140.6 473.2,145.3 473.4,150.6 473.7,156.3 473.9,162.2 474.2,168.2 474.4,174.1 474.6,179.5 474.9,184.4 475.1,188.6 475.4,191.8 475.6,193.8 475.8,194.5 476.1,193.6 476.3,191.2 476.6,187.6 476.8,183.0 477.0,177.6 477.3,171.7 477.5,165.5 477.8,159.3 478.0,153.3 478.2,147.7 478.5,142.8 478.7,138.9 479.0,136.1 479.2,134.7 479.5,134.9 479.7,136.3 479.9,138.8 480.2,142.1 480.4,146.2 480.7,150.9 480.9,156.0 481.1,161.3 481.4,166.8 481.6,172.2 481.9,177.4 482.1,182.3 482.3,186.7 482.6,190.4 482.8,193.2 483.1,195.1 483.3,195.9 483.5,195.1 483.8,192.6 484.0,188.6 484.3,183.5 484.5,177.6 484.7,171.2 485.0,164.7 485.2,158.4 485.5,152.7 485.7,147.8 485.9,144.1 486.2,141.9 486.4,141.4 486.7,142.3 486.9,144.2 487.2,146.8 487.4,150.0 487.6,153.6 487.9,157.5 488.1,161.5 488.4,165.5 488.6,169.1 488.8,172.4 489.1,175.1 489.3,177.1 489.6,178.1 489.8,178.0 490.0,176.0 490.3,172.6 490.5,168.0 490.8,162.5 491.0,156.6 491.2,150.5 491.5,144.6 491.7,139.2 492.0,134.7 492.2,131.4 492.4,129.7 492.7,130.0 492.9,133.1 493.2,138.7 493.4,146.1 493.7,154.8 493.9,164.1 494.1,173.5 494.4,182.4 494.6,190.2 494.9,196.3 495.1,200.2 495.3,201.2 495.6,200.6 495.8,199.1 496.1,196.8 496.3,193.8 496.5,190.3 496.8,186.3 497.0,182.0 497.3,177.5 497.5,172.9 497.7,168.2 498.0,163.7 498.2,159.3 498.5,155.3 498.7,151.6 498.9,148.6 499.2,146.1 499.4,144.4 499.7,143.5 499.9,143.8 500.2,145.6 500.4,148.5 500.6,152.0 500.9,155.7 501.1,159.0 501.4,161.5 501.6,162.6 501.8,162.3 502.1,161.1 502.3,159.3 502.6,157.0 502.8,154.5 503.0,152.0 503.3,149.7 503.5,147.9 503.8,146.7 504.0,146.5 504.2,147.5 504.5,149.5 504.7,152.3 505.0,155.5 505.2,158.6 505.4,161.3 505.7,163.3 505.9,164.2 506.2,163.3 506.4,160.1 506.6,155.3 506.9,149.7 507.1,143.7 507.4,138.3 507.6,133.9 507.9,131.4 508.1,131.1 508.3,132.0 508.6,133.8 508.8,136.3 509.1,139.4 509.3,142.9 509.5,146.9 509.8,151.1 510.0,155.5 510.3,159.9 510.5,164.1 510.7,168.2 511.0,172.0 511.2,175.3 511.5,178.1 511.7,180.2 511.9,181.5 512.2,181.9 512.4,181.1 512.7,179.1 512.9,176.1 513.1,172.5 513.4,168.4 513.6,164.1 513.9,159.8 514.1,155.8 514.4,152.3 514.6,149.6 514.8,147.8 515.1,147.3 515.3,148.5 515.6,151.3 515.8,155.3 516.0,160.3 516.3,165.7 516.5,171.2 516.8,176.5 517.0,181.1 517.2,184.7 517.5,186.8 517.7,187.2 518.0,186.3 518.2,184.5 518.4,182.0 518.7,178.9 518.9,175.5 519.2,171.9 519.4,168.3 519.6,164.9 519.9,161.8 520.1,159.4 520.4,157.6 520.6,156.8 520.9,157.1 521.1,158.1 521.3,159.6 521.6,161.2 521.8,162.5 522.1,163.2 522.3,163.0 522.5,162.1 522.8,160.9 523.0,159.6 523.3,158.6 523.5,158.0 523.7,158.0 524.0,158.2 524.2,158.6 524.5,159.1 524.7,159.8 524.9,160.7 525.2,161.8 525.4,163.0 525.7,164.4 525.9,166.1 526.1,167.9 526.4,169.9 526.6,172.2 526.9,174.7 527.1,177.4 527.4,180.3 527.6,183.4" fill="none" stroke="#e74c3c" stroke-width="1.35" stroke-opacity="0.850" stroke-linejoin="round" stroke-linecap="round" clip-path="url(#c12)"/>
<rect x="376.20" y="123.10" width="158.60" height="91.00" fill="none" stroke="#333" stroke-width="1.1"/>
<text x="383.41" y="223.00" font-size="5.82" text-anchor="middle" textLength="3.31" lengthAdjust="spacingAndGlyphs" fill="#262626" stroke="#262626" stroke-width="0.14">0</text>
<text x="412.25" y="223.00" font-size="5.82" text-anchor="middle" textLength="3.31" lengthAdjust="spacingAndGlyphs" fill="#262626" stroke="#262626" stroke-width="0.14">2</text>
<text x="441.08" y="223.00" font-size="5.82" text-anchor="middle" textLength="3.31" lengthAdjust="spacingAndGlyphs" fill="#262626" stroke="#262626" stroke-width="0.14">4</text>
<text x="469.92" y="223.00" font-size="5.82" text-anchor="middle" textLength="3.31" lengthAdjust="spacingAndGlyphs" fill="#262626" stroke="#262626" stroke-width="0.14">6</text>
<text x="498.75" y="223.00" font-size="5.82" text-anchor="middle" textLength="3.31" lengthAdjust="spacingAndGlyphs" fill="#262626" stroke="#262626" stroke-width="0.14">8</text>
<text x="527.59" y="223.00" font-size="5.82" text-anchor="middle" textLength="6.62" lengthAdjust="spacingAndGlyphs" fill="#262626" stroke="#262626" stroke-width="0.14">10</text>
<text x="371.60" y="203.25" font-size="5.82" text-anchor="end" textLength="7.67" lengthAdjust="spacingAndGlyphs" fill="#262626" stroke="#262626" stroke-width="0.14">−2</text>
<text x="371.60" y="185.95" font-size="5.82" text-anchor="end" textLength="7.67" lengthAdjust="spacingAndGlyphs" fill="#262626" stroke="#262626" stroke-width="0.14">−1</text>
<text x="371.60" y="168.65" font-size="5.82" text-anchor="end" textLength="3.31" lengthAdjust="spacingAndGlyphs" fill="#262626" stroke="#262626" stroke-width="0.14">0</text>
<text x="371.60" y="151.35" font-size="5.82" text-anchor="end" textLength="3.31" lengthAdjust="spacingAndGlyphs" fill="#262626" stroke="#262626" stroke-width="0.14">1</text>
<text x="371.60" y="134.05" font-size="5.82" text-anchor="end" textLength="3.31" lengthAdjust="spacingAndGlyphs" fill="#262626" stroke="#262626" stroke-width="0.14">2</text>
<line x1="31.70" y1="235.30" x2="31.70" y2="326.00" stroke="#e9e9e9" stroke-width="0.5" stroke-dasharray="1.5,1.5"/>
<line x1="60.52" y1="235.30" x2="60.52" y2="326.00" stroke="#e9e9e9" stroke-width="0.5" stroke-dasharray="1.5,1.5"/>
<line x1="89.34" y1="235.30" x2="89.34" y2="326.00" stroke="#e9e9e9" stroke-width="0.5" stroke-dasharray="1.5,1.5"/>
<line x1="118.16" y1="235.30" x2="118.16" y2="326.00" stroke="#e9e9e9" stroke-width="0.5" stroke-dasharray="1.5,1.5"/>
<line x1="146.98" y1="235.30" x2="146.98" y2="326.00" stroke="#e9e9e9" stroke-width="0.5" stroke-dasharray="1.5,1.5"/>
<line x1="175.80" y1="235.30" x2="175.80" y2="326.00" stroke="#e9e9e9" stroke-width="0.5" stroke-dasharray="1.5,1.5"/>
<line x1="24.50" y1="318.25" x2="183.00" y2="318.25" stroke="#e9e9e9" stroke-width="0.5" stroke-dasharray="1.5,1.5"/>
<line x1="24.50" y1="299.75" x2="183.00" y2="299.75" stroke="#e9e9e9" stroke-width="0.5" stroke-dasharray="1.5,1.5"/>
<line x1="24.50" y1="281.25" x2="183.00" y2="281.25" stroke="#e9e9e9" stroke-width="0.5" stroke-dasharray="1.5,1.5"/>
<line x1="24.50" y1="262.75" x2="183.00" y2="262.75" stroke="#e9e9e9" stroke-width="0.5" stroke-dasharray="1.5,1.5"/>
<line x1="24.50" y1="244.25" x2="183.00" y2="244.25" stroke="#e9e9e9" stroke-width="0.5" stroke-dasharray="1.5,1.5"/>
<polyline points="31.7,280.3 31.9,273.5 32.2,267.3 32.4,261.6 32.7,256.8 32.9,252.8 33.1,249.9 33.4,248.2 33.6,247.8 33.9,248.9 34.1,251.2 34.4,254.6 34.6,258.9 34.8,263.7 35.1,269.0 35.3,274.4 35.6,279.7 35.8,284.8 36.0,289.3 36.3,293.0 36.5,295.8 36.8,297.3 37.0,297.4 37.2,296.1 37.5,293.5 37.7,290.1 38.0,285.9 38.2,281.3 38.4,276.5 38.7,271.7 38.9,267.2 39.2,263.2 39.4,260.0 39.6,257.8 39.9,256.8 40.1,257.5 40.4,259.9 40.6,263.6 40.8,268.5 41.1,274.2 41.3,280.5 41.6,287.1 41.8,293.8 42.0,300.1 42.3,305.9 42.5,310.8 42.8,314.7 43.0,317.1 43.3,317.9 43.5,317.4 43.7,316.1 44.0,314.3 44.2,311.9 44.5,309.3 44.7,306.5 44.9,303.6 45.2,300.9 45.4,298.4 45.7,296.3 45.9,294.8 46.1,293.9 46.4,293.9 46.6,294.7 46.9,296.2 47.1,298.2 47.3,300.6 47.6,303.3 47.8,306.1 48.1,308.8 48.3,311.4 48.5,313.6 48.8,315.4 49.0,316.7 49.3,317.1 49.5,316.7 49.7,315.4 50.0,313.2 50.2,310.5 50.5,307.2 50.7,303.6 50.9,299.7 51.2,295.8 51.4,292.0 51.7,288.3 51.9,285.0 52.2,282.1 52.4,279.9 52.6,278.5 52.9,277.9 53.1,278.2 53.4,278.9 53.6,279.9 53.8,281.3 54.1,282.8 54.3,284.3 54.6,285.9 54.8,287.3 55.0,288.5 55.3,289.4 55.5,289.9 55.8,289.8 56.0,289.2 56.2,288.2 56.5,286.7 56.7,284.9 57.0,282.9 57.2,280.8 57.4,278.7 57.7,276.6 57.9,274.7 58.2,273.0 58.4,271.7 58.6,270.8 58.9,270.3 59.1,270.6 59.4,271.6 59.6,273.2 59.8,275.4 60.1,277.9 60.3,280.7 60.6,283.6 60.8,286.6 61.1,289.4 61.3,292.0 61.5,294.2 61.8,296.0 62.0,297.1 62.3,297.5 62.5,297.2 62.7,296.1 63.0,294.5 63.2,292.4 63.5,289.9 63.7,287.1 63.9,284.0 64.2,280.9 64.4,277.6 64.7,274.4 64.9,271.3 65.1,268.3 65.4,265.7 65.6,263.5 65.9,261.7 66.1,260.4 66.3,259.8 66.6,260.0 66.8,261.0 67.1,262.8 67.3,265.3 67.5,268.3 67.8,271.7 68.0,275.5 68.3,279.4 68.5,283.5 68.7,287.5 69.0,291.4 69.2,295.0 69.5,298.2 69.7,301.0 70.0,303.1 70.2,304.5 70.4,305.1 70.7,305.0 70.9,304.5 71.2,303.9 71.4,302.9 71.6,301.9 71.9,300.7 72.1,299.5 72.4,298.3 72.6,297.1 72.8,296.0 73.1,295.1 73.3,294.4 73.6,294.0 73.8,293.8 74.0,294.5 74.3,296.0 74.5,298.3 74.8,300.9 75.0,303.7 75.2,306.5 75.5,308.9 75.7,310.8 76.0,311.8 76.2,311.8 76.4,310.7 76.7,308.7 76.9,305.9 77.2,302.4 77.4,298.5 77.7,294.2 77.9,289.7 78.1,285.2 78.4,280.8 78.6,276.7 78.9,272.9 79.1,269.7 79.3,267.2 79.6,265.6 79.8,265.0 80.1,265.3 80.3,266.5 80.5,268.2 80.8,270.4 81.0,273.0 81.3,275.7 81.5,278.5 81.7,281.2 82.0,283.7 82.2,285.8 82.5,287.4 82.7,288.3 82.9,288.4 83.2,287.9 83.4,286.8 83.7,285.3 83.9,283.4 84.1,281.3 84.4,279.1 84.6,276.7 84.9,274.5 85.1,272.4 85.3,270.5 85.6,268.9 85.8,267.8 86.1,267.2 86.3,267.3 86.6,268.2 86.8,269.7 87.0,271.6 87.3,273.6 87.5,275.5 87.8,277.1 88.0,278.2 88.2,278.5 88.5,278.1 88.7,277.2 89.0,275.9 89.2,274.4 89.4,272.9 89.7,271.3 89.9,269.8 90.2,268.6 90.4,267.9 90.6,267.6 90.9,268.0 91.1,269.3 91.4,271.3 91.6,274.0 91.8,277.1 92.1,280.6 92.3,284.5 92.6,288.5 92.8,292.6 93.0,296.6 93.3,300.5 93.5,304.2 93.8,307.5 94.0,310.3 94.2,312.5 94.5,314.1 94.7,314.9 95.0,314.6 95.2,313.0 95.5,310.3 95.7,306.6 95.9,302.2 96.2,297.3 96.4,292.1 96.7,286.9 96.9,281.8 97.1,277.1 97.4,273.0 97.6,269.8 97.9,267.6 98.1,266.6 98.3,267.2 98.6,269.2 98.8,272.4 99.1,276.5 99.3,281.4 99.5,286.9 99.8,292.6 100.0,298.4 100.3,304.0 100.5,309.3 100.7,314.0 101.0,317.8 101.2,320.6 101.5,322.1 101.7,322.1 101.9,320.3 102.2,316.8 102.4,312.0 102.7,306.1 102.9,299.4 103.1,292.0 103.4,284.3 103.6,276.6 103.9,269.0 104.1,261.9 104.4,255.4 104.6,249.9 104.8,245.6 105.1,242.8 105.3,241.7 105.6,242.3 105.8,244.5 106.0,248.0 106.3,252.5 106.5,257.8 106.8,263.6 107.0,269.7 107.2,275.9 107.5,281.9 107.7,287.6 108.0,292.5 108.2,296.6 108.4,299.5 108.7,301.0 108.9,301.0 109.2,299.1 109.4,295.7 109.6,291.1 109.9,285.6 110.1,279.3 110.4,272.7 110.6,266.0 110.8,259.5 111.1,253.4 111.3,248.1 111.6,243.8 111.8,240.9 112.0,239.5 112.3,239.9 112.5,241.8 112.8,245.0 113.0,249.2 113.3,254.2 113.5,260.0 113.7,266.1 114.0,272.5 114.2,278.8 114.5,285.0 114.7,290.7 114.9,295.8 115.2,300.1 115.4,303.4 115.7,305.3 115.9,305.8 116.1,304.9 116.4,302.9 116.6,299.9 116.9,296.2 117.1,292.1 117.3,287.7 117.6,283.3 117.8,279.1 118.1,275.3 118.3,272.2 118.5,269.9 118.8,268.8 119.0,269.0 119.3,270.5 119.5,273.3 119.7,277.0 120.0,281.4 120.2,286.2 120.5,291.1 120.7,296.0 120.9,300.6 121.2,304.6 121.4,307.7 121.7,309.8 121.9,310.5 122.2,309.7 122.4,307.5 122.6,304.2 122.9,300.1 123.1,295.5 123.4,290.6 123.6,285.7 123.8,281.1 124.1,277.1 124.3,273.9 124.6,271.8 124.8,271.1 125.0,271.8 125.3,273.8 125.5,276.6 125.8,280.2 126.0,284.0 126.2,288.0 126.5,291.8 126.7,295.1 127.0,297.8 127.2,299.4 127.4,299.7 127.7,298.5 127.9,296.1 128.2,292.5 128.4,288.1 128.6,283.0 128.9,277.5 129.1,271.7 129.4,266.0 129.6,260.6 129.8,255.6 130.1,251.3 130.3,247.8 130.6,245.6 130.8,244.6 131.1,245.3 131.3,247.4 131.5,250.7 131.8,254.9 132.0,259.8 132.3,264.9 132.5,270.1 132.7,275.0 133.0,279.4 133.2,282.9 133.5,285.3 133.7,286.2 133.9,285.7 134.2,283.9 134.4,281.2 134.7,277.8 134.9,273.7 135.1,269.4 135.4,265.0 135.6,260.8 135.9,256.9 136.1,253.5 136.3,251.0 136.6,249.5 136.8,249.3 137.1,249.6 137.3,250.3 137.5,251.4 137.8,252.8 138.0,254.5 138.3,256.4 138.5,258.5 138.8,260.8 139.0,263.2 139.2,265.7 139.5,268.3 139.7,270.9 140.0,273.6 140.2,276.1 140.4,278.7 140.7,281.1 140.9,283.3 141.2,285.4 141.4,287.3 141.6,289.0 141.9,290.3 142.1,291.3 142.4,292.0 142.6,292.3 142.8,292.2 143.1,291.5 143.3,290.3 143.6,288.9 143.8,287.1 144.0,285.1 144.3,283.1 144.5,281.0 144.8,279.0 145.0,277.2 145.2,275.6 145.5,274.4 145.7,273.6 146.0,273.3 146.2,274.2 146.4,276.8 146.7,280.5 146.9,285.1 147.2,290.2 147.4,295.3 147.7,300.0 147.9,303.9 148.1,306.8 148.4,308.0 148.6,307.5 148.9,305.5 149.1,302.2 149.3,297.9 149.6,292.8 149.8,287.2 150.1,281.3 150.3,275.5 150.5,269.8 150.8,264.6 151.0,260.2 151.3,256.7 151.5,254.5 151.7,253.7 152.0,254.8 152.2,257.5 152.5,261.5 152.7,266.1 152.9,271.0 153.2,275.7 153.4,279.5 153.7,282.2 153.9,283.1 154.1,282.5 154.4,280.8 154.6,278.4 154.9,275.3 155.1,271.8 155.3,268.0 155.6,264.2 155.8,260.6 156.1,257.2 156.3,254.5 156.6,252.4 156.8,251.3 157.0,251.1 157.3,251.5 157.5,252.2 157.8,253.1 158.0,254.3 158.2,255.8 158.5,257.4 158.7,259.2 159.0,261.1 159.2,263.1 159.4,265.1 159.7,267.1 159.9,269.1 160.2,271.1 160.4,272.9 160.6,274.6 160.9,276.2 161.1,277.6 161.4,278.7 161.6,279.6 161.8,280.1 162.1,280.3 162.3,279.5 162.6,277.1 162.8,273.5 163.0,269.1 163.3,264.2 163.5,259.5 163.8,255.2 164.0,251.8 164.2,249.7 164.5,249.4 164.7,251.4 165.0,255.5 165.2,261.2 165.5,268.2 165.7,276.0 165.9,284.2 166.2,292.4 166.4,300.2 166.7,307.1 166.9,312.7 167.1,316.7 167.4,318.5 167.6,317.8 167.9,314.4 168.1,308.9 168.3,301.9 168.6,293.9 168.8,285.5 169.1,277.4 169.3,270.0 169.5,264.0 169.8,259.9 170.0,258.3 170.3,258.6 170.5,259.6 170.7,261.1 171.0,263.1 171.2,265.5 171.5,268.2 171.7,271.2 171.9,274.4 172.2,277.7 172.4,281.0 172.7,284.2 172.9,287.3 173.1,290.3 173.4,292.9 173.6,295.2 173.9,297.0 174.1,298.3 174.4,299.1 174.6,299.1 174.8,297.6 175.1,295.0 175.3,291.4 175.6,287.3 175.8,283.1" fill="none" stroke="#2c3e50" stroke-width="1.45" stroke-opacity="0.900" stroke-linejoin="round" stroke-linecap="butt" clip-path="url(#c20)"/>
<polyline points="31.7,280.3 32.2,267.2 32.7,256.7 33.2,281.2 33.6,247.8 34.1,251.3 34.6,259.0 35.1,269.1 35.6,279.9 36.0,289.4 36.5,295.8 37.0,297.4 37.5,293.4 38.0,285.7 38.5,276.2 38.9,267.0 39.4,259.8 39.9,256.8 40.4,260.0 40.9,268.8 41.3,281.2 41.8,281.2 42.3,306.3 42.8,314.9 43.3,317.9 43.8,316.0 44.2,311.7 44.7,281.2 45.2,300.6 45.7,296.1 46.2,293.9 46.6,281.2 47.1,298.5 47.6,303.6 48.1,281.2 48.6,313.9 49.1,316.8 49.5,281.2 50.0,312.9 50.5,306.8 51.0,299.2 51.5,281.2 51.9,284.6 52.4,279.7 52.9,277.9 53.4,279.0 53.9,281.5 54.4,284.6 54.8,287.5 55.3,289.5 55.8,289.8 56.3,287.9 56.8,284.6 57.2,280.5 57.7,281.2 58.2,272.8 58.7,270.6 59.2,270.7 59.7,273.6 60.1,278.4 60.6,284.2 61.1,290.0 61.6,294.7 62.1,297.3 62.5,297.0 63.0,294.1 63.5,289.3 64.0,283.3 64.5,281.2 65.0,270.6 65.4,265.2 65.9,261.3 66.4,259.8 66.9,261.4 67.4,266.0 67.8,281.2 68.3,281.2 68.8,288.5 69.3,295.9 69.8,281.2 70.3,281.2 70.7,304.9 71.2,281.2 71.7,281.2 72.2,299.2 72.7,296.8 73.1,294.9 73.6,281.2 74.1,281.2 74.6,299.0 75.1,304.6 75.6,309.6 76.0,281.2 76.5,310.2 77.0,304.9 77.5,297.2 78.0,288.3 78.4,279.4 78.9,271.8 79.4,266.6 79.9,265.0 80.4,267.0 80.9,271.3 81.3,276.7 81.8,282.1 82.3,286.4 82.8,288.4 83.3,287.6 83.8,284.7 84.2,280.5 84.7,275.9 85.2,271.6 85.7,268.5 86.2,267.2 86.6,268.8 87.1,272.4 87.6,276.2 88.1,278.4 88.6,277.8 89.1,275.4 89.5,272.2 90.0,269.3 90.5,267.7 91.0,281.2 91.5,272.4 91.9,278.5 92.4,286.1 92.9,294.3 93.4,281.2 93.9,281.2 94.4,313.3 94.8,314.9 95.3,312.0 95.8,281.2 96.3,281.2 96.8,284.5 97.2,275.1 97.7,281.2 98.2,281.2 98.7,270.5 99.2,278.7 99.7,281.2 100.1,301.1 100.6,311.6 101.1,281.2 101.6,322.3 102.1,318.8 102.5,309.2 103.0,295.8 103.5,281.2 104.0,265.4 104.5,252.5 105.0,244.0 105.4,241.8 105.9,246.2 106.4,255.1 106.9,266.8 107.4,279.1 107.8,290.3 108.3,298.3 108.8,301.2 109.3,297.5 109.8,288.2 110.3,281.2 110.7,281.2 111.2,250.4 111.7,281.2 112.2,239.5 112.7,243.4 113.1,252.0 113.6,263.4 114.1,276.1 114.6,288.4 115.1,298.4 115.6,304.7 116.0,305.5 116.5,301.2 117.0,293.8 117.5,281.2 118.0,276.8 118.4,270.7 118.9,268.7 119.4,272.1 119.9,279.6 120.4,289.2 120.9,298.9 121.3,306.6 121.8,310.4 122.3,308.4 122.8,301.7 123.3,292.4 123.7,282.7 124.2,274.9 124.7,271.2 125.2,273.0 125.7,278.9 126.2,286.6 126.6,294.1 127.1,299.0 127.6,299.1 128.1,293.8 128.6,284.7 129.1,281.2 129.5,281.2 130.0,252.5 130.5,246.1 131.0,244.9 131.5,281.2 131.9,281.2 132.4,268.5 132.9,278.1 133.4,284.7 133.9,286.0 134.4,282.1 134.8,274.9 135.3,266.3 135.8,257.9 136.3,251.6 136.8,249.2 137.2,250.1 137.7,252.4 138.2,255.8 138.7,260.2 139.2,265.1 139.7,270.3 140.1,275.5 140.6,280.5 141.1,284.9 141.6,288.6 142.1,291.1 142.5,292.3 143.0,291.7 143.5,289.2 144.0,285.6 144.5,281.4 145.0,277.6 145.4,274.6 145.9,273.3 146.4,276.1 146.9,284.2 147.4,294.3 147.8,303.2 148.3,307.9 148.8,281.2 149.3,298.8 149.8,288.3 150.3,276.5 150.7,265.5 151.2,257.2 151.7,253.7 152.2,257.0 152.7,265.4 153.1,275.0 153.6,281.9 154.1,282.6 154.6,281.2 155.1,272.3 155.6,264.7 156.0,257.7 156.5,281.2 157.0,251.1 157.5,252.1 158.0,254.2 158.4,281.2 158.9,281.2 159.4,264.8 159.9,268.9 160.4,272.7 160.9,276.0 161.3,278.6 161.8,280.1 162.3,279.7 162.8,273.9 163.3,264.7 163.7,255.5 164.2,249.8 164.7,251.1 165.2,260.7 165.7,275.4 166.2,291.8 166.6,281.2 167.1,281.2 167.6,317.9 168.1,281.2 168.6,294.3 169.0,277.7 169.5,264.2 170.0,258.3 170.5,281.2 171.0,281.2 171.5,268.2 171.9,274.3 172.4,281.2 172.9,281.2 173.4,292.8 173.9,297.0 174.3,299.1 174.8,297.7 175.3,291.4 175.8,283.1" fill="none" stroke="#e74c3c" stroke-width="1.00" stroke-opacity="0.620" stroke-linejoin="round" stroke-linecap="butt" clip-path="url(#c20)"/>
<polyline points="31.7,280.3 31.9,273.5 32.2,267.3 32.4,261.6 32.7,256.8 32.9,252.8 33.1,249.9 33.4,248.2 33.6,247.8 33.9,248.9 34.1,251.2 34.4,254.6 34.6,258.9 34.8,263.7 35.1,269.0 35.3,274.4 35.6,279.7 35.8,284.8 36.0,289.3 36.3,293.0 36.5,295.8 36.8,297.3 37.0,297.4 37.2,296.1 37.5,293.5 37.7,290.1 38.0,285.9 38.2,281.3 38.4,276.5 38.7,271.7 38.9,267.2 39.2,263.2 39.4,260.0 39.6,257.8 39.9,256.8 40.1,257.5 40.4,259.9 40.6,263.6 40.8,268.5 41.1,274.2 41.3,280.5 41.6,287.1 41.8,293.8 42.0,300.1 42.3,305.9 42.5,310.8 42.8,314.7 43.0,317.1 43.3,317.9 43.5,317.4 43.7,316.1 44.0,314.3 44.2,311.9 44.5,309.3 44.7,306.5 44.9,303.6 45.2,300.9 45.4,298.4 45.7,296.3 45.9,294.8 46.1,293.9 46.4,293.9 46.6,294.7 46.9,296.2 47.1,298.2 47.3,300.6 47.6,303.3 47.8,306.1 48.1,308.8 48.3,311.4 48.5,313.6 48.8,315.4 49.0,316.7 49.3,317.1 49.5,316.7 49.7,315.4 50.0,313.2 50.2,310.5 50.5,307.2 50.7,303.6 50.9,299.7 51.2,295.8 51.4,292.0 51.7,288.3 51.9,285.0 52.2,282.1 52.4,279.9 52.6,278.5 52.9,277.9 53.1,278.2 53.4,278.9 53.6,279.9 53.8,281.3 54.1,282.8 54.3,284.3 54.6,285.9 54.8,287.3 55.0,288.5 55.3,289.4 55.5,289.9 55.8,289.8 56.0,289.2 56.2,288.2 56.5,286.7 56.7,284.9 57.0,282.9 57.2,280.8 57.4,278.7 57.7,276.6 57.9,274.7 58.2,273.0 58.4,271.7 58.6,270.8 58.9,270.3 59.1,270.6 59.4,271.6 59.6,273.2 59.8,275.4 60.1,277.9 60.3,280.7 60.6,283.6 60.8,286.6 61.1,289.4 61.3,292.0 61.5,294.2 61.8,296.0 62.0,297.1 62.3,297.5 62.5,297.2 62.7,296.1 63.0,294.5 63.2,292.4 63.5,289.9 63.7,287.1 63.9,284.0 64.2,280.9 64.4,277.6 64.7,274.4 64.9,271.3 65.1,268.3 65.4,265.7 65.6,263.5 65.9,261.7 66.1,260.4 66.3,259.8 66.6,260.0 66.8,261.0 67.1,262.8 67.3,265.3 67.5,268.3 67.8,271.7 68.0,275.5 68.3,279.4 68.5,283.5 68.7,287.5 69.0,291.4 69.2,295.0 69.5,298.2 69.7,301.0 70.0,303.1 70.2,304.5 70.4,305.1 70.7,305.0 70.9,304.5 71.2,303.9 71.4,302.9 71.6,301.9 71.9,300.7 72.1,299.5 72.4,298.3 72.6,297.1 72.8,296.0 73.1,295.1 73.3,294.4 73.6,294.0 73.8,293.8 74.0,294.5 74.3,296.0 74.5,298.3 74.8,300.9 75.0,303.7 75.2,306.5 75.5,308.9 75.7,310.8 76.0,311.8 76.2,311.8 76.4,310.7 76.7,308.7 76.9,305.9 77.2,302.4 77.4,298.5 77.7,294.2 77.9,289.7 78.1,285.2 78.4,280.8 78.6,276.7 78.9,272.9 79.1,269.7 79.3,267.2 79.6,265.6 79.8,265.0 80.1,265.3 80.3,266.5 80.5,268.2 80.8,270.4 81.0,273.0 81.3,275.7 81.5,278.5 81.7,281.2 82.0,283.7 82.2,285.8 82.5,287.4 82.7,288.3 82.9,288.4 83.2,287.9 83.4,286.8 83.7,285.3 83.9,283.4 84.1,281.3 84.4,279.1 84.6,276.7 84.9,274.5 85.1,272.4 85.3,270.5 85.6,268.9 85.8,267.8 86.1,267.2 86.3,267.3 86.6,268.2 86.8,269.7 87.0,271.6 87.3,273.6 87.5,275.5 87.8,277.1 88.0,278.2 88.2,278.5 88.5,278.1 88.7,277.2 89.0,275.9 89.2,274.4 89.4,272.9 89.7,271.3 89.9,269.8 90.2,268.6 90.4,267.9 90.6,267.6 90.9,268.0 91.1,269.3 91.4,271.3 91.6,274.0 91.8,277.1 92.1,280.6 92.3,284.5 92.6,288.5 92.8,292.6 93.0,296.6 93.3,300.5 93.5,304.2 93.8,307.5 94.0,310.3 94.2,312.5 94.5,314.1 94.7,314.9 95.0,314.6 95.2,313.0 95.5,310.3 95.7,306.6 95.9,302.2 96.2,297.3 96.4,292.1 96.7,286.9 96.9,281.8 97.1,277.1 97.4,273.0 97.6,269.8 97.9,267.6 98.1,266.6 98.3,267.2 98.6,269.2 98.8,272.4 99.1,276.5 99.3,281.4 99.5,286.9 99.8,292.6 100.0,298.4 100.3,304.0 100.5,309.3 100.7,314.0 101.0,317.8 101.2,320.6 101.5,322.1 101.7,322.1 101.9,320.3 102.2,316.8 102.4,312.0 102.7,306.1 102.9,299.4 103.1,292.0 103.4,284.3 103.6,276.6 103.9,269.0 104.1,261.9 104.4,255.4 104.6,249.9 104.8,245.6 105.1,242.8 105.3,241.7 105.6,242.3 105.8,244.5 106.0,248.0 106.3,252.5 106.5,257.8 106.8,263.6 107.0,269.7 107.2,275.9 107.5,281.9 107.7,287.6 108.0,292.5 108.2,296.6 108.4,299.5 108.7,301.0 108.9,301.0 109.2,299.1 109.4,295.7 109.6,291.1 109.9,285.6 110.1,279.3 110.4,272.7 110.6,266.0 110.8,259.5 111.1,253.4 111.3,248.1 111.6,243.8 111.8,240.9 112.0,239.5 112.3,239.9 112.5,241.8 112.8,245.0 113.0,249.2 113.3,254.2 113.5,260.0 113.7,266.1 114.0,272.5 114.2,278.8 114.5,285.0 114.7,290.7 114.9,295.8 115.2,300.1 115.4,303.4 115.7,305.3 115.9,305.8 116.1,304.9 116.4,302.9 116.6,299.9 116.9,296.2 117.1,292.1 117.3,287.7 117.6,283.3 117.8,279.1 118.1,275.3 118.3,272.2 118.5,269.9 118.8,268.8 119.0,269.0 119.3,270.5 119.5,273.3 119.7,277.0 120.0,281.4 120.2,286.2 120.5,291.1 120.7,296.0 120.9,300.6 121.2,304.6 121.4,307.7 121.7,309.8 121.9,310.5 122.2,309.7 122.4,307.5 122.6,304.2 122.9,300.1 123.1,295.5 123.4,290.6 123.6,285.7 123.8,281.1 124.1,277.1 124.3,273.9 124.6,271.8 124.8,271.1 125.0,271.8 125.3,273.8 125.5,276.6 125.8,280.2 126.0,284.0 126.2,288.0 126.5,291.8 126.7,295.1 127.0,297.8 127.2,299.4 127.4,299.7 127.7,298.5 127.9,296.1 128.2,292.5 128.4,288.1 128.6,283.0 128.9,277.5 129.1,271.7 129.4,266.0 129.6,260.6 129.8,255.6 130.1,251.3 130.3,247.8 130.6,245.6 130.8,244.6 131.1,245.3 131.3,247.4 131.5,250.7 131.8,254.9 132.0,259.8 132.3,264.9 132.5,270.1 132.7,275.0 133.0,279.4 133.2,282.9 133.5,285.3 133.7,286.2 133.9,285.7 134.2,283.9 134.4,281.2 134.7,277.8 134.9,273.7 135.1,269.4 135.4,265.0 135.6,260.8 135.9,256.9 136.1,253.5 136.3,251.0 136.6,249.5 136.8,249.3 137.1,249.6 137.3,250.3 137.5,251.4 137.8,252.8 138.0,254.5 138.3,256.4 138.5,258.5 138.8,260.8 139.0,263.2 139.2,265.7 139.5,268.3 139.7,270.9 140.0,273.6 140.2,276.1 140.4,278.7 140.7,281.1 140.9,283.3 141.2,285.4 141.4,287.3 141.6,289.0 141.9,290.3 142.1,291.3 142.4,292.0 142.6,292.3 142.8,292.2 143.1,291.5 143.3,290.3 143.6,288.9 143.8,287.1 144.0,285.1 144.3,283.1 144.5,281.0 144.8,279.0 145.0,277.2 145.2,275.6 145.5,274.4 145.7,273.6 146.0,273.3 146.2,274.2 146.4,276.8 146.7,280.5 146.9,285.1 147.2,290.2 147.4,295.3 147.7,300.0 147.9,303.9 148.1,306.8 148.4,308.0 148.6,307.5 148.9,305.5 149.1,302.2 149.3,297.9 149.6,292.8 149.8,287.2 150.1,281.3 150.3,275.5 150.5,269.8 150.8,264.6 151.0,260.2 151.3,256.7 151.5,254.5 151.7,253.7 152.0,254.8 152.2,257.5 152.5,261.5 152.7,266.1 152.9,271.0 153.2,275.7 153.4,279.5 153.7,282.2 153.9,283.1 154.1,282.5 154.4,280.8 154.6,278.4 154.9,275.3 155.1,271.8 155.3,268.0 155.6,264.2 155.8,260.6 156.1,257.2 156.3,254.5 156.6,252.4 156.8,251.3 157.0,251.1 157.3,251.5 157.5,252.2 157.8,253.1 158.0,254.3 158.2,255.8 158.5,257.4 158.7,259.2 159.0,261.1 159.2,263.1 159.4,265.1 159.7,267.1 159.9,269.1 160.2,271.1 160.4,272.9 160.6,274.6 160.9,276.2 161.1,277.6 161.4,278.7 161.6,279.6 161.8,280.1 162.1,280.3 162.3,279.5 162.6,277.1 162.8,273.5 163.0,269.1 163.3,264.2 163.5,259.5 163.8,255.2 164.0,251.8 164.2,249.7 164.5,249.4 164.7,251.4 165.0,255.5 165.2,261.2 165.5,268.2 165.7,276.0 165.9,284.2 166.2,292.4 166.4,300.2 166.7,307.1 166.9,312.7 167.1,316.7 167.4,318.5 167.6,317.8 167.9,314.4 168.1,308.9 168.3,301.9 168.6,293.9 168.8,285.5 169.1,277.4 169.3,270.0 169.5,264.0 169.8,259.9 170.0,258.3 170.3,258.6 170.5,259.6 170.7,261.1 171.0,263.1 171.2,265.5 171.5,268.2 171.7,271.2 171.9,274.4 172.2,277.7 172.4,281.0 172.7,284.2 172.9,287.3 173.1,290.3 173.4,292.9 173.6,295.2 173.9,297.0 174.1,298.3 174.4,299.1 174.6,299.1 174.8,297.6 175.1,295.0 175.3,291.4 175.6,287.3 175.8,283.1" fill="none" stroke="#e74c3c" stroke-width="1.20" stroke-opacity="0.620" stroke-linejoin="round" stroke-linecap="butt" clip-path="url(#c20)"/>
<rect x="24.50" y="235.30" width="158.50" height="90.70" fill="none" stroke="#333" stroke-width="1.1"/>
<text x="31.70" y="334.90" font-size="5.82" text-anchor="middle" textLength="3.31" lengthAdjust="spacingAndGlyphs" fill="#262626" stroke="#262626" stroke-width="0.14">0</text>
<text x="60.52" y="334.90" font-size="5.82" text-anchor="middle" textLength="3.31" lengthAdjust="spacingAndGlyphs" fill="#262626" stroke="#262626" stroke-width="0.14">2</text>
<text x="89.34" y="334.90" font-size="5.82" text-anchor="middle" textLength="3.31" lengthAdjust="spacingAndGlyphs" fill="#262626" stroke="#262626" stroke-width="0.14">4</text>
<text x="118.16" y="334.90" font-size="5.82" text-anchor="middle" textLength="3.31" lengthAdjust="spacingAndGlyphs" fill="#262626" stroke="#262626" stroke-width="0.14">6</text>
<text x="146.98" y="334.90" font-size="5.82" text-anchor="middle" textLength="3.31" lengthAdjust="spacingAndGlyphs" fill="#262626" stroke="#262626" stroke-width="0.14">8</text>
<text x="175.80" y="334.90" font-size="5.82" text-anchor="middle" textLength="6.62" lengthAdjust="spacingAndGlyphs" fill="#262626" stroke="#262626" stroke-width="0.14">10</text>
<text x="19.90" y="320.25" font-size="5.82" text-anchor="end" textLength="7.67" lengthAdjust="spacingAndGlyphs" fill="#262626" stroke="#262626" stroke-width="0.14">−2</text>
<text x="19.90" y="301.75" font-size="5.82" text-anchor="end" textLength="7.67" lengthAdjust="spacingAndGlyphs" fill="#262626" stroke="#262626" stroke-width="0.14">−1</text>
<text x="19.90" y="283.25" font-size="5.82" text-anchor="end" textLength="3.31" lengthAdjust="spacingAndGlyphs" fill="#262626" stroke="#262626" stroke-width="0.14">0</text>
<text x="19.90" y="264.75" font-size="5.82" text-anchor="end" textLength="3.31" lengthAdjust="spacingAndGlyphs" fill="#262626" stroke="#262626" stroke-width="0.14">1</text>
<text x="19.90" y="246.25" font-size="5.82" text-anchor="end" textLength="3.31" lengthAdjust="spacingAndGlyphs" fill="#262626" stroke="#262626" stroke-width="0.14">2</text>
<line x1="208.72" y1="235.30" x2="208.72" y2="326.00" stroke="#e9e9e9" stroke-width="0.5" stroke-dasharray="1.5,1.5"/>
<line x1="227.98" y1="235.30" x2="227.98" y2="326.00" stroke="#e9e9e9" stroke-width="0.5" stroke-dasharray="1.5,1.5"/>
<line x1="247.24" y1="235.30" x2="247.24" y2="326.00" stroke="#e9e9e9" stroke-width="0.5" stroke-dasharray="1.5,1.5"/>
<line x1="266.50" y1="235.30" x2="266.50" y2="326.00" stroke="#e9e9e9" stroke-width="0.5" stroke-dasharray="1.5,1.5"/>
<line x1="285.77" y1="235.30" x2="285.77" y2="326.00" stroke="#e9e9e9" stroke-width="0.5" stroke-dasharray="1.5,1.5"/>
<line x1="305.03" y1="235.30" x2="305.03" y2="326.00" stroke="#e9e9e9" stroke-width="0.5" stroke-dasharray="1.5,1.5"/>
<line x1="324.29" y1="235.30" x2="324.29" y2="326.00" stroke="#e9e9e9" stroke-width="0.5" stroke-dasharray="1.5,1.5"/>
<line x1="343.55" y1="235.30" x2="343.55" y2="326.00" stroke="#e9e9e9" stroke-width="0.5" stroke-dasharray="1.5,1.5"/>
<line x1="201.50" y1="321.80" x2="360.40" y2="321.80" stroke="#e9e9e9" stroke-width="0.5" stroke-dasharray="1.5,1.5"/>
<line x1="201.50" y1="308.75" x2="360.40" y2="308.75" stroke="#e9e9e9" stroke-width="0.5" stroke-dasharray="1.5,1.5"/>
<line x1="201.50" y1="295.70" x2="360.40" y2="295.70" stroke="#e9e9e9" stroke-width="0.5" stroke-dasharray="1.5,1.5"/>
<line x1="201.50" y1="282.65" x2="360.40" y2="282.65" stroke="#e9e9e9" stroke-width="0.5" stroke-dasharray="1.5,1.5"/>
<line x1="201.50" y1="269.60" x2="360.40" y2="269.60" stroke="#e9e9e9" stroke-width="0.5" stroke-dasharray="1.5,1.5"/>
<line x1="201.50" y1="256.55" x2="360.40" y2="256.55" stroke="#e9e9e9" stroke-width="0.5" stroke-dasharray="1.5,1.5"/>
<line x1="201.50" y1="243.50" x2="360.40" y2="243.50" stroke="#e9e9e9" stroke-width="0.5" stroke-dasharray="1.5,1.5"/>
<polyline points="208.7,321.8 209.7,288.2 210.6,308.8 211.6,311.4 212.6,312.4 213.5,308.8 214.5,252.6 215.5,313.3 216.4,312.0 217.4,310.7 218.4,310.2 219.3,311.4 220.3,312.4 221.2,311.4 222.2,310.2 223.2,311.4 224.1,312.7 225.1,308.7 226.1,284.0 227.0,302.2 228.0,305.5 228.9,308.8 229.9,238.3 230.9,301.6 231.8,305.5 232.8,310.1 233.8,313.3 234.7,312.0 235.7,310.1 236.7,308.1 237.6,307.4 238.6,310.1 239.5,312.7 240.5,315.3 241.5,317.2 242.4,318.5 243.4,319.2 244.4,319.6 245.3,320.0 246.3,320.4 247.2,320.8 248.2,321.1 249.2,321.4 250.1,321.4 251.1,321.4 252.1,321.4 253.0,321.4 254.0,321.4 254.9,321.4 255.9,321.4 256.9,321.4 257.8,321.4 258.8,321.4 259.8,321.4 260.7,321.4 261.7,321.4 262.7,321.4 263.6,321.4 264.6,321.4 265.5,321.4 266.5,321.4 267.5,321.4 268.4,321.4 269.4,321.4 270.4,321.4 271.3,321.4 272.3,321.4 273.2,321.4 274.2,321.4 275.2,321.4 276.1,321.4 277.1,321.4 278.1,321.4 279.0,321.4 280.0,321.4 280.9,321.4 281.9,321.4 282.9,321.4 283.8,321.4 284.8,321.4 285.8,321.4 286.7,321.4 287.7,321.4 288.7,321.4 289.6,321.4 290.6,321.4 291.5,321.4 292.5,321.4 293.5,321.4 294.4,321.4 295.4,321.4 296.4,321.4 297.3,321.4 298.3,321.4 299.2,321.4 300.2,321.4 301.2,321.4 302.1,321.4 303.1,321.4 304.1,321.4 305.0,321.4 306.0,321.4 307.0,321.4 307.9,321.4 308.9,321.4 309.8,321.4 310.8,321.4 311.8,321.4 312.7,321.4 313.7,321.4 314.7,321.4 315.6,321.5 316.6,321.5 317.5,321.5 318.5,321.5 319.5,321.5 320.4,321.5 321.4,321.5 322.4,321.5 323.3,321.5 324.3,321.5 325.2,321.5 326.2,321.5 327.2,321.5 328.1,321.5 329.1,321.5 330.1,321.5 331.0,321.5 332.0,321.5 333.0,321.5 333.9,321.5 334.9,321.5 335.8,321.5 336.8,321.5 337.8,321.5 338.7,321.5 339.7,321.5 340.7,321.5 341.6,321.5 342.6,321.5 343.5,321.5 344.5,321.5 345.5,321.5 346.4,321.5 347.4,321.5 348.4,321.5 349.3,321.5 350.3,321.5 351.3,321.5 352.2,321.5 353.2,321.5" fill="none" stroke="#2c3e50" stroke-width="1.40" stroke-opacity="1.000" stroke-linejoin="round" stroke-linecap="butt" clip-path="url(#c21)"/>
<polyline points="208.7,321.8 209.7,299.4 210.6,306.1 211.6,314.7 212.6,313.1 213.5,311.2 214.5,271.2 215.5,315.9 216.4,313.5 217.4,304.8 218.4,308.7 219.3,318.3 220.3,312.1 221.2,316.2 222.2,316.1 223.2,307.4 224.1,312.5 225.1,311.5 226.1,290.1 227.0,306.0 228.0,312.1 228.9,314.7 229.9,252.4 230.9,301.0 231.8,305.0 232.8,311.8 233.8,314.8 234.7,309.4 235.7,312.2 236.7,306.1 237.6,313.6 238.6,310.8 239.5,314.8 240.5,321.0 241.5,312.2 242.4,320.1 243.4,316.2 244.4,316.6 245.3,319.4 246.3,317.0 247.2,318.9 248.2,319.9 249.2,317.2 250.1,317.0 251.1,317.1 252.1,318.0 253.0,319.6 254.0,316.2 254.9,316.2 255.9,317.8 256.9,318.6 257.8,315.2 258.8,318.0 259.8,319.7 260.7,316.6 261.7,316.6 262.7,317.9 263.6,320.4 264.6,319.3 265.5,309.7 266.5,320.1 267.5,317.9 268.4,319.7 269.4,315.7 270.4,311.5 271.3,319.6 272.3,316.7 273.2,319.5 274.2,320.0 275.2,315.7 276.1,319.9 277.1,316.4 278.1,319.8 279.0,317.1 280.0,314.7 280.9,316.3 281.9,319.3 282.9,320.7 283.8,317.9 284.8,313.8 285.8,318.7 286.7,317.7 287.7,313.5 288.7,316.3 289.6,315.3 290.6,318.0 291.5,319.6 292.5,318.5 293.5,315.6 294.4,317.6 295.4,317.7 296.4,317.2 297.3,315.6 298.3,316.2 299.2,316.5 300.2,317.9 301.2,315.6 302.1,315.8 303.1,318.6 304.1,315.9 305.0,318.4 306.0,315.6 307.0,320.0 307.9,314.5 308.9,320.1 309.8,321.4 310.8,317.6 311.8,318.4 312.7,320.2 313.7,319.9 314.7,319.0 315.6,320.8 316.6,314.0 317.5,318.7 318.5,318.6 319.5,316.1 320.4,315.6 321.4,316.4 322.4,316.5 323.3,317.9 324.3,318.8 325.2,317.1 326.2,319.4 327.2,315.2 328.1,317.6 329.1,320.9 330.1,319.8 331.0,317.6 332.0,319.9 333.0,314.0 333.9,316.8 334.9,317.3 335.8,316.8 336.8,321.0 337.8,318.5 338.7,319.5 339.7,321.1 340.7,320.1 341.6,318.7 342.6,316.7 343.5,316.8 344.5,320.9 345.5,316.7 346.4,316.0 347.4,316.8 348.4,316.1 349.3,320.4 350.3,319.0 351.3,317.3 352.2,319.5 353.2,319.9" fill="none" stroke="#e74c3c" stroke-width="1.20" stroke-opacity="0.600" stroke-linejoin="round" stroke-linecap="butt" clip-path="url(#c21)"/>
<line x1="201.50" y1="268.75" x2="360.40" y2="268.75" stroke="#2ecc71" stroke-width="1.15" stroke-opacity="0.90" stroke-dasharray="4.1,1.5"/>
<line x1="201.50" y1="309.40" x2="360.40" y2="309.40" stroke="#f39c12" stroke-width="1.10" stroke-opacity="0.85" stroke-dasharray="1.15,1.63"/>
<rect x="201.50" y="235.30" width="158.90" height="90.70" fill="none" stroke="#333" stroke-width="1.1"/>
<text x="208.72" y="334.90" font-size="5.82" text-anchor="middle" textLength="3.31" lengthAdjust="spacingAndGlyphs" fill="#262626" stroke="#262626" stroke-width="0.14">0</text>
<text x="227.98" y="334.90" font-size="5.82" text-anchor="middle" textLength="3.31" lengthAdjust="spacingAndGlyphs" fill="#262626" stroke="#262626" stroke-width="0.14">2</text>
<text x="247.24" y="334.90" font-size="5.82" text-anchor="middle" textLength="3.31" lengthAdjust="spacingAndGlyphs" fill="#262626" stroke="#262626" stroke-width="0.14">4</text>
<text x="266.50" y="334.90" font-size="5.82" text-anchor="middle" textLength="3.31" lengthAdjust="spacingAndGlyphs" fill="#262626" stroke="#262626" stroke-width="0.14">6</text>
<text x="285.77" y="334.90" font-size="5.82" text-anchor="middle" textLength="3.31" lengthAdjust="spacingAndGlyphs" fill="#262626" stroke="#262626" stroke-width="0.14">8</text>
<text x="305.03" y="334.90" font-size="5.82" text-anchor="middle" textLength="6.62" lengthAdjust="spacingAndGlyphs" fill="#262626" stroke="#262626" stroke-width="0.14">10</text>
<text x="324.29" y="334.90" font-size="5.82" text-anchor="middle" textLength="6.62" lengthAdjust="spacingAndGlyphs" fill="#262626" stroke="#262626" stroke-width="0.14">12</text>
<text x="343.55" y="334.90" font-size="5.82" text-anchor="middle" textLength="6.62" lengthAdjust="spacingAndGlyphs" fill="#262626" stroke="#262626" stroke-width="0.14">14</text>
<text x="196.90" y="323.80" font-size="5.82" text-anchor="end" textLength="3.31" lengthAdjust="spacingAndGlyphs" fill="#262626" stroke="#262626" stroke-width="0.14">0</text>
<text x="196.90" y="310.75" font-size="5.82" text-anchor="end" textLength="6.62" lengthAdjust="spacingAndGlyphs" fill="#262626" stroke="#262626" stroke-width="0.14">20</text>
<text x="196.90" y="297.70" font-size="5.82" text-anchor="end" textLength="6.62" lengthAdjust="spacingAndGlyphs" fill="#262626" stroke="#262626" stroke-width="0.14">40</text>
<text x="196.90" y="284.65" font-size="5.82" text-anchor="end" textLength="6.62" lengthAdjust="spacingAndGlyphs" fill="#262626" stroke="#262626" stroke-width="0.14">60</text>
<text x="196.90" y="271.60" font-size="5.82" text-anchor="end" textLength="6.62" lengthAdjust="spacingAndGlyphs" fill="#262626" stroke="#262626" stroke-width="0.14">80</text>
<text x="196.90" y="258.55" font-size="5.82" text-anchor="end" textLength="9.93" lengthAdjust="spacingAndGlyphs" fill="#262626" stroke="#262626" stroke-width="0.14">100</text>
<text x="196.90" y="245.50" font-size="5.82" text-anchor="end" textLength="9.93" lengthAdjust="spacingAndGlyphs" fill="#262626" stroke="#262626" stroke-width="0.14">120</text>
<line x1="383.41" y1="235.30" x2="383.41" y2="326.00" stroke="#e9e9e9" stroke-width="0.5" stroke-dasharray="1.5,1.5"/>
<line x1="412.25" y1="235.30" x2="412.25" y2="326.00" stroke="#e9e9e9" stroke-width="0.5" stroke-dasharray="1.5,1.5"/>
<line x1="441.08" y1="235.30" x2="441.08" y2="326.00" stroke="#e9e9e9" stroke-width="0.5" stroke-dasharray="1.5,1.5"/>
<line x1="469.92" y1="235.30" x2="469.92" y2="326.00" stroke="#e9e9e9" stroke-width="0.5" stroke-dasharray="1.5,1.5"/>
<line x1="498.75" y1="235.30" x2="498.75" y2="326.00" stroke="#e9e9e9" stroke-width="0.5" stroke-dasharray="1.5,1.5"/>
<line x1="527.59" y1="235.30" x2="527.59" y2="326.00" stroke="#e9e9e9" stroke-width="0.5" stroke-dasharray="1.5,1.5"/>
<line x1="376.20" y1="318.25" x2="534.80" y2="318.25" stroke="#e9e9e9" stroke-width="0.5" stroke-dasharray="1.5,1.5"/>
<line x1="376.20" y1="299.75" x2="534.80" y2="299.75" stroke="#e9e9e9" stroke-width="0.5" stroke-dasharray="1.5,1.5"/>
<line x1="376.20" y1="281.25" x2="534.80" y2="281.25" stroke="#e9e9e9" stroke-width="0.5" stroke-dasharray="1.5,1.5"/>
<line x1="376.20" y1="262.75" x2="534.80" y2="262.75" stroke="#e9e9e9" stroke-width="0.5" stroke-dasharray="1.5,1.5"/>
<line x1="376.20" y1="244.25" x2="534.80" y2="244.25" stroke="#e9e9e9" stroke-width="0.5" stroke-dasharray="1.5,1.5"/>
<polyline points="383.4,280.3 383.6,273.5 383.9,267.3 384.1,261.6 384.4,256.8 384.6,252.8 384.9,249.9 385.1,248.2 385.3,247.8 385.6,248.9 385.8,251.2 386.1,254.6 386.3,258.9 386.5,263.7 386.8,269.0 387.0,274.4 387.3,279.7 387.5,284.8 387.7,289.3 388.0,293.0 388.2,295.8 388.5,297.3 388.7,297.4 388.9,296.1 389.2,293.5 389.4,290.1 389.7,285.9 389.9,281.3 390.1,276.5 390.4,271.7 390.6,267.2 390.9,263.2 391.1,260.0 391.4,257.8 391.6,256.8 391.8,257.5 392.1,259.9 392.3,263.6 392.6,268.5 392.8,274.2 393.0,280.5 393.3,287.1 393.5,293.8 393.8,300.1 394.0,305.9 394.2,310.8 394.5,314.7 394.7,317.1 395.0,317.9 395.2,317.4 395.4,316.1 395.7,314.3 395.9,311.9 396.2,309.3 396.4,306.5 396.6,303.6 396.9,300.9 397.1,298.4 397.4,296.3 397.6,294.8 397.9,293.9 398.1,293.9 398.3,294.7 398.6,296.2 398.8,298.2 399.1,300.6 399.3,303.3 399.5,306.1 399.8,308.8 400.0,311.4 400.3,313.6 400.5,315.4 400.7,316.7 401.0,317.1 401.2,316.7 401.5,315.4 401.7,313.2 401.9,310.5 402.2,307.2 402.4,303.6 402.7,299.7 402.9,295.8 403.1,292.0 403.4,288.3 403.6,285.0 403.9,282.1 404.1,279.9 404.4,278.5 404.6,277.9 404.8,278.2 405.1,278.9 405.3,279.9 405.6,281.3 405.8,282.8 406.0,284.3 406.3,285.9 406.5,287.3 406.8,288.5 407.0,289.4 407.2,289.9 407.5,289.8 407.7,289.2 408.0,288.2 408.2,286.7 408.4,284.9 408.7,282.9 408.9,280.8 409.2,278.7 409.4,276.6 409.6,274.7 409.9,273.0 410.1,271.7 410.4,270.8 410.6,270.3 410.8,270.6 411.1,271.6 411.3,273.2 411.6,275.4 411.8,277.9 412.1,280.7 412.3,283.6 412.5,286.6 412.8,289.4 413.0,292.0 413.3,294.2 413.5,296.0 413.7,297.1 414.0,297.5 414.2,297.2 414.5,296.1 414.7,294.5 414.9,292.4 415.2,289.9 415.4,287.1 415.7,284.0 415.9,280.9 416.1,277.6 416.4,274.4 416.6,271.3 416.9,268.3 417.1,265.7 417.3,263.5 417.6,261.7 417.8,260.4 418.1,259.8 418.3,260.0 418.6,261.0 418.8,262.8 419.0,265.3 419.3,268.3 419.5,271.7 419.8,275.5 420.0,279.4 420.2,283.5 420.5,287.5 420.7,291.4 421.0,295.0 421.2,298.2 421.4,301.0 421.7,303.1 421.9,304.5 422.2,305.1 422.4,305.0 422.6,304.5 422.9,303.9 423.1,302.9 423.4,301.9 423.6,300.7 423.8,299.5 424.1,298.3 424.3,297.1 424.6,296.0 424.8,295.1 425.1,294.4 425.3,294.0 425.5,293.8 425.8,294.5 426.0,296.0 426.3,298.3 426.5,300.9 426.7,303.7 427.0,306.5 427.2,308.9 427.5,310.8 427.7,311.8 427.9,311.8 428.2,310.7 428.4,308.7 428.7,305.9 428.9,302.4 429.1,298.5 429.4,294.2 429.6,289.7 429.9,285.2 430.1,280.8 430.3,276.7 430.6,272.9 430.8,269.7 431.1,267.2 431.3,265.6 431.5,265.0 431.8,265.3 432.0,266.5 432.3,268.2 432.5,270.4 432.8,273.0 433.0,275.7 433.2,278.5 433.5,281.2 433.7,283.7 434.0,285.8 434.2,287.4 434.4,288.3 434.7,288.4 434.9,287.9 435.2,286.8 435.4,285.3 435.6,283.4 435.9,281.3 436.1,279.1 436.4,276.7 436.6,274.5 436.8,272.4 437.1,270.5 437.3,268.9 437.6,267.8 437.8,267.2 438.0,267.3 438.3,268.2 438.5,269.7 438.8,271.6 439.0,273.6 439.3,275.5 439.5,277.1 439.7,278.2 440.0,278.5 440.2,278.1 440.5,277.2 440.7,275.9 440.9,274.4 441.2,272.9 441.4,271.3 441.7,269.8 441.9,268.6 442.1,267.9 442.4,267.6 442.6,268.0 442.9,269.3 443.1,271.3 443.3,274.0 443.6,277.1 443.8,280.6 444.1,284.5 444.3,288.5 444.5,292.6 444.8,296.6 445.0,300.5 445.3,304.2 445.5,307.5 445.8,310.3 446.0,312.5 446.2,314.1 446.5,314.9 446.7,314.6 447.0,313.0 447.2,310.3 447.4,306.6 447.7,302.2 447.9,297.3 448.2,292.1 448.4,286.9 448.6,281.8 448.9,277.1 449.1,273.0 449.4,269.8 449.6,267.6 449.8,266.6 450.1,267.2 450.3,269.2 450.6,272.4 450.8,276.5 451.0,281.4 451.3,286.9 451.5,292.6 451.8,298.4 452.0,304.0 452.3,309.3 452.5,314.0 452.7,317.8 453.0,320.6 453.2,322.1 453.5,322.1 453.7,320.3 453.9,316.8 454.2,312.0 454.4,306.1 454.7,299.4 454.9,292.0 455.1,284.3 455.4,276.6 455.6,269.0 455.9,261.9 456.1,255.4 456.3,249.9 456.6,245.6 456.8,242.8 457.1,241.7 457.3,242.3 457.5,244.5 457.8,248.0 458.0,252.5 458.3,257.8 458.5,263.6 458.7,269.7 459.0,275.9 459.2,281.9 459.5,287.6 459.7,292.5 460.0,296.6 460.2,299.5 460.4,301.0 460.7,301.0 460.9,299.1 461.2,295.7 461.4,291.1 461.6,285.6 461.9,279.3 462.1,272.7 462.4,266.0 462.6,259.5 462.8,253.4 463.1,248.1 463.3,243.8 463.6,240.9 463.8,239.5 464.0,239.9 464.3,241.8 464.5,245.0 464.8,249.2 465.0,254.2 465.2,260.0 465.5,266.1 465.7,272.5 466.0,278.8 466.2,285.0 466.5,290.7 466.7,295.8 466.9,300.1 467.2,303.4 467.4,305.3 467.7,305.8 467.9,304.9 468.1,302.9 468.4,299.9 468.6,296.2 468.9,292.1 469.1,287.7 469.3,283.3 469.6,279.1 469.8,275.3 470.1,272.2 470.3,269.9 470.5,268.8 470.8,269.0 471.0,270.5 471.3,273.3 471.5,277.0 471.7,281.4 472.0,286.2 472.2,291.1 472.5,296.0 472.7,300.6 473.0,304.6 473.2,307.7 473.4,309.8 473.7,310.5 473.9,309.7 474.2,307.5 474.4,304.2 474.6,300.1 474.9,295.5 475.1,290.6 475.4,285.7 475.6,281.1 475.8,277.1 476.1,273.9 476.3,271.8 476.6,271.1 476.8,271.8 477.0,273.8 477.3,276.6 477.5,280.2 477.8,284.0 478.0,288.0 478.2,291.8 478.5,295.1 478.7,297.8 479.0,299.4 479.2,299.7 479.5,298.5 479.7,296.1 479.9,292.5 480.2,288.1 480.4,283.0 480.7,277.5 480.9,271.7 481.1,266.0 481.4,260.6 481.6,255.6 481.9,251.3 482.1,247.8 482.3,245.6 482.6,244.6 482.8,245.3 483.1,247.4 483.3,250.7 483.5,254.9 483.8,259.8 484.0,264.9 484.3,270.1 484.5,275.0 484.7,279.4 485.0,282.9 485.2,285.3 485.5,286.2 485.7,285.7 485.9,283.9 486.2,281.2 486.4,277.8 486.7,273.7 486.9,269.4 487.2,265.0 487.4,260.8 487.6,256.9 487.9,253.5 488.1,251.0 488.4,249.5 488.6,249.3 488.8,249.6 489.1,250.3 489.3,251.4 489.6,252.8 489.8,254.5 490.0,256.4 490.3,258.5 490.5,260.8 490.8,263.2 491.0,265.7 491.2,268.3 491.5,270.9 491.7,273.6 492.0,276.1 492.2,278.7 492.4,281.1 492.7,283.3 492.9,285.4 493.2,287.3 493.4,289.0 493.7,290.3 493.9,291.3 494.1,292.0 494.4,292.3 494.6,292.2 494.9,291.5 495.1,290.3 495.3,288.9 495.6,287.1 495.8,285.1 496.1,283.1 496.3,281.0 496.5,279.0 496.8,277.2 497.0,275.6 497.3,274.4 497.5,273.6 497.7,273.3 498.0,274.2 498.2,276.8 498.5,280.5 498.7,285.1 498.9,290.2 499.2,295.3 499.4,300.0 499.7,303.9 499.9,306.8 500.2,308.0 500.4,307.5 500.6,305.5 500.9,302.2 501.1,297.9 501.4,292.8 501.6,287.2 501.8,281.3 502.1,275.5 502.3,269.8 502.6,264.6 502.8,260.2 503.0,256.7 503.3,254.5 503.5,253.7 503.8,254.8 504.0,257.5 504.2,261.5 504.5,266.1 504.7,271.0 505.0,275.7 505.2,279.5 505.4,282.2 505.7,283.1 505.9,282.5 506.2,280.8 506.4,278.4 506.6,275.3 506.9,271.8 507.1,268.0 507.4,264.2 507.6,260.6 507.9,257.2 508.1,254.5 508.3,252.4 508.6,251.3 508.8,251.1 509.1,251.5 509.3,252.2 509.5,253.1 509.8,254.3 510.0,255.8 510.3,257.4 510.5,259.2 510.7,261.1 511.0,263.1 511.2,265.1 511.5,267.1 511.7,269.1 511.9,271.1 512.2,272.9 512.4,274.6 512.7,276.2 512.9,277.6 513.1,278.7 513.4,279.6 513.6,280.1 513.9,280.3 514.1,279.5 514.4,277.1 514.6,273.5 514.8,269.1 515.1,264.2 515.3,259.5 515.6,255.2 515.8,251.8 516.0,249.7 516.3,249.4 516.5,251.4 516.8,255.5 517.0,261.2 517.2,268.2 517.5,276.0 517.7,284.2 518.0,292.4 518.2,300.2 518.4,307.1 518.7,312.7 518.9,316.7 519.2,318.5 519.4,317.8 519.6,314.4 519.9,308.9 520.1,301.9 520.4,293.9 520.6,285.5 520.9,277.4 521.1,270.0 521.3,264.0 521.6,259.9 521.8,258.3 522.1,258.6 522.3,259.6 522.5,261.1 522.8,263.1 523.0,265.5 523.3,268.2 523.5,271.2 523.7,274.4 524.0,277.7 524.2,281.0 524.5,284.2 524.7,287.3 524.9,290.3 525.2,292.9 525.4,295.2 525.7,297.0 525.9,298.3 526.1,299.1 526.4,299.1 526.6,297.6 526.9,295.0 527.1,291.4 527.4,287.3 527.6,283.1" fill="none" stroke="#9fadbd" stroke-width="2.30" stroke-opacity="0.850" stroke-linejoin="round" stroke-linecap="round" clip-path="url(#c22)"/>
<polyline points="383.4,274.8 383.6,270.0 383.9,265.7 384.1,261.9 384.4,258.7 384.6,256.1 384.9,254.3 385.1,253.2 385.3,253.0 385.6,253.9 385.8,256.0 386.1,259.1 386.3,262.9 386.5,267.3 386.8,272.0 387.0,276.8 387.3,281.6 387.5,286.1 387.7,290.1 388.0,293.5 388.2,295.9 388.5,297.3 388.7,297.4 388.9,296.1 389.2,293.5 389.4,290.1 389.7,285.9 389.9,281.3 390.1,276.5 390.4,271.7 390.6,267.2 390.9,263.2 391.1,260.0 391.4,257.8 391.6,256.8 391.8,257.3 392.1,259.1 392.3,262.0 392.6,265.7 392.8,270.1 393.0,274.9 393.3,280.0 393.5,285.0 393.8,289.9 394.0,294.3 394.2,298.1 394.5,301.0 394.7,302.9 395.0,303.4 395.2,302.9 395.4,301.6 395.7,299.6 395.9,297.1 396.2,294.3 396.4,291.3 396.6,288.3 396.9,285.4 397.1,282.7 397.4,280.5 397.6,278.9 397.9,278.0 398.1,278.1 398.3,279.3 398.6,281.7 398.8,284.8 399.1,288.5 399.3,292.7 399.5,297.0 399.8,301.2 400.0,305.2 400.3,308.7 400.5,311.5 400.7,313.4 401.0,314.2 401.2,313.8 401.5,312.7 401.7,310.9 401.9,308.6 402.2,305.9 402.4,302.9 402.7,299.7 402.9,296.5 403.1,293.3 403.4,290.2 403.6,287.5 403.9,285.1 404.1,283.3 404.4,282.1 404.6,281.6 404.8,282.3 405.1,284.2 405.3,287.0 405.6,290.3 405.8,293.9 406.0,297.2 406.3,300.1 406.5,302.1 406.8,302.9 407.0,302.6 407.2,301.6 407.5,300.0 407.7,298.0 408.0,295.6 408.2,292.9 408.4,290.0 408.7,287.0 408.9,284.0 409.2,281.1 409.4,278.3 409.6,275.8 409.9,273.7 410.1,272.0 410.4,270.9 410.6,270.4 410.8,270.5 411.1,271.3 411.3,272.6 411.6,274.2 411.8,276.2 412.1,278.4 412.3,280.7 412.5,282.9 412.8,285.1 413.0,287.1 413.3,288.9 413.5,290.2 413.7,291.1 414.0,291.4 414.2,291.2 414.5,290.6 414.7,289.7 414.9,288.6 415.2,287.2 415.4,285.6 415.7,283.9 415.9,282.1 416.1,280.3 416.4,278.5 416.6,276.7 416.9,275.1 417.1,273.7 417.3,272.4 417.6,271.4 417.8,270.7 418.1,270.4 418.3,270.5 418.6,271.2 418.8,272.4 419.0,274.1 419.3,276.2 419.5,278.6 419.8,281.2 420.0,283.9 420.2,286.7 420.5,289.5 420.7,292.1 421.0,294.6 421.2,296.8 421.4,298.7 421.7,300.2 421.9,301.2 422.2,301.6 422.4,301.4 422.6,300.6 422.9,299.5 423.1,297.9 423.4,296.1 423.6,294.2 423.8,292.1 424.1,290.1 424.3,288.1 424.6,286.3 424.8,284.7 425.1,283.5 425.3,282.8 425.5,282.6 425.8,283.4 426.0,285.6 426.3,288.6 426.5,292.2 426.7,296.1 427.0,299.9 427.2,303.2 427.5,305.7 427.7,307.1 427.9,307.2 428.2,306.4 428.4,304.8 428.7,302.6 428.9,300.0 429.1,296.9 429.4,293.6 429.6,290.2 429.9,286.7 430.1,283.3 430.3,280.1 430.6,277.2 430.8,274.7 431.1,272.8 431.3,271.6 431.5,271.1 431.8,271.3 432.0,271.8 432.3,272.7 432.5,273.9 432.8,275.2 433.0,276.6 433.2,278.0 433.5,279.4 433.7,280.7 434.0,281.7 434.2,282.5 434.4,283.0 434.7,283.1 434.9,282.7 435.2,282.0 435.4,281.0 435.6,279.8 435.9,278.4 436.1,277.0 436.4,275.5 436.6,274.0 436.8,272.6 437.1,271.4 437.3,270.4 437.6,269.6 437.8,269.3 438.0,269.4 438.3,270.2 438.5,271.5 438.8,273.2 439.0,275.0 439.3,276.7 439.5,278.2 439.7,279.1 440.0,279.4 440.2,279.0 440.5,278.1 440.7,276.9 440.9,275.4 441.2,273.9 441.4,272.3 441.7,270.9 441.9,269.7 442.1,269.0 442.4,268.7 442.6,269.1 442.9,270.2 443.1,271.9 443.3,274.2 443.6,276.9 443.8,280.0 444.1,283.3 444.3,286.7 444.5,290.3 444.8,293.7 445.0,297.1 445.3,300.3 445.5,303.1 445.8,305.6 446.0,307.5 446.2,308.8 446.5,309.5 446.7,309.3 447.0,308.0 447.2,305.8 447.4,302.9 447.7,299.3 447.9,295.4 448.2,291.2 448.4,287.0 448.6,282.9 448.9,279.1 449.1,275.8 449.4,273.2 449.6,271.5 449.8,270.7 450.1,271.1 450.3,272.4 450.6,274.4 450.8,277.1 451.0,280.2 451.3,283.7 451.5,287.4 451.8,291.2 452.0,294.8 452.3,298.2 452.5,301.2 452.7,303.7 453.0,305.5 453.2,306.5 453.5,306.4 453.7,305.1 453.9,302.7 454.2,299.3 454.4,295.1 454.7,290.3 454.9,285.0 455.1,279.6 455.4,274.1 455.6,268.7 455.9,263.6 456.1,259.0 456.3,255.1 456.6,252.1 456.8,250.0 457.1,249.3 457.3,249.8 457.5,251.8 457.8,254.8 458.0,258.7 458.3,263.3 458.5,268.4 458.7,273.7 459.0,279.1 459.2,284.4 459.5,289.3 459.7,293.6 460.0,297.2 460.2,299.7 460.4,301.1 460.7,301.0 460.9,299.5 461.2,296.6 461.4,292.8 461.6,288.2 461.9,283.0 462.1,277.5 462.4,271.9 462.6,266.5 462.8,261.4 463.1,257.0 463.3,253.4 463.6,251.0 463.8,249.8 464.0,250.2 464.3,251.8 464.5,254.5 464.8,258.0 465.0,262.3 465.2,267.1 465.5,272.3 465.7,277.7 466.0,283.0 466.2,288.2 466.5,293.1 466.7,297.4 466.9,301.0 467.2,303.7 467.4,305.4 467.7,305.8 467.9,305.0 468.1,303.1 468.4,300.3 468.6,296.9 468.9,293.0 469.1,288.9 469.3,284.8 469.6,280.8 469.8,277.3 470.1,274.4 470.3,272.3 470.5,271.2 470.8,271.3 471.0,272.7 471.3,275.2 471.5,278.4 471.7,282.3 472.0,286.6 472.2,291.0 472.5,295.3 472.7,299.3 473.0,302.8 473.2,305.6 473.4,307.4 473.7,308.1 473.9,307.5 474.2,305.8 474.4,303.4 474.6,300.3 474.9,296.9 475.1,293.2 475.4,289.6 475.6,286.2 475.8,283.1 476.1,280.8 476.3,279.2 476.6,278.7 476.8,279.0 477.0,280.0 477.3,281.3 477.5,283.0 477.8,284.8 478.0,286.7 478.2,288.6 478.5,290.2 478.7,291.4 479.0,292.2 479.2,292.3 479.5,291.8 479.7,290.6 479.9,288.9 480.2,286.7 480.4,284.3 480.7,281.6 480.9,278.8 481.1,276.1 481.4,273.4 481.6,271.0 481.9,268.9 482.1,267.3 482.3,266.2 482.6,265.7 482.8,265.9 483.1,266.6 483.3,267.6 483.5,268.9 483.8,270.4 484.0,272.0 484.3,273.6 484.5,275.2 484.7,276.5 485.0,277.6 485.2,278.4 485.5,278.7 485.7,278.4 485.9,277.6 486.2,276.3 486.4,274.7 486.7,272.8 486.9,270.8 487.2,268.7 487.4,266.7 487.6,264.8 487.9,263.3 488.1,262.1 488.4,261.4 488.6,261.3 488.8,261.6 489.1,262.2 489.3,263.0 489.6,264.1 489.8,265.5 490.0,267.0 490.3,268.6 490.5,270.3 490.8,272.2 491.0,274.0 491.2,275.9 491.5,277.7 491.7,279.5 492.0,281.2 492.2,282.7 492.4,284.1 492.7,285.3 492.9,286.2 493.2,286.9 493.4,287.3 493.7,287.3 493.9,287.1 494.1,286.6 494.4,286.0 494.6,285.1 494.9,284.2 495.1,283.1 495.3,281.9 495.6,280.7 495.8,279.5 496.1,278.3 496.3,277.2 496.5,276.1 496.8,275.2 497.0,274.4 497.3,273.8 497.5,273.4 497.7,273.3 498.0,273.9 498.2,275.6 498.5,278.2 498.7,281.3 498.9,284.7 499.2,288.1 499.4,291.3 499.7,294.0 499.9,295.9 500.2,296.8 500.4,296.4 500.6,295.0 500.9,292.6 501.1,289.6 501.4,285.9 501.6,282.0 501.8,277.8 502.1,273.6 502.3,269.6 502.6,265.9 502.8,262.7 503.0,260.3 503.3,258.7 503.5,258.1 503.8,258.7 504.0,260.0 504.2,261.9 504.5,264.2 504.7,266.6 505.0,268.9 505.2,270.8 505.4,272.1 505.7,272.6 505.9,272.2 506.2,271.2 506.4,269.8 506.6,268.0 506.9,266.0 507.1,263.8 507.4,261.6 507.6,259.5 507.9,257.6 508.1,256.0 508.3,254.8 508.6,254.2 508.8,254.1 509.1,254.8 509.3,256.1 509.5,257.6 509.8,259.3 510.0,261.0 510.3,262.4 510.5,263.4 510.7,263.7 511.0,263.4 511.2,262.9 511.5,262.2 511.7,261.4 511.9,260.7 512.2,260.2 512.4,260.0 512.7,260.4 512.9,261.9 513.1,263.9 513.4,266.2 513.6,268.4 513.9,270.1 514.1,271.0 514.4,270.9 514.6,270.0 514.8,268.7 515.1,267.0 515.3,265.3 515.6,263.6 515.8,262.3 516.0,261.5 516.3,261.3 516.5,262.5 516.8,264.8 517.0,268.2 517.2,272.2 517.5,276.7 517.7,281.4 518.0,286.1 518.2,290.6 518.4,294.6 518.7,297.8 518.9,300.1 519.2,301.2 519.4,300.8 519.6,298.9 519.9,296.0 520.1,292.1 520.4,287.8 520.6,283.3 520.9,278.8 521.1,274.8 521.3,271.6 521.6,269.3 521.8,268.5 522.1,268.7 522.3,269.4 522.5,270.6 522.8,272.1 523.0,273.9 523.3,275.9 523.5,278.2 523.7,280.6 524.0,283.0 524.2,285.5 524.5,288.0 524.7,290.3 524.9,292.5 525.2,294.5 525.4,296.2 525.7,297.5 525.9,298.5 526.1,299.1 526.4,299.0 526.6,297.5 526.9,294.5 527.1,290.6 527.4,286.2 527.6,281.8" fill="none" stroke="#e74c3c" stroke-width="1.35" stroke-opacity="0.850" stroke-linejoin="round" stroke-linecap="round" clip-path="url(#c22)"/>
<rect x="376.20" y="235.30" width="158.60" height="90.70" fill="none" stroke="#333" stroke-width="1.1"/>
<text x="383.41" y="334.90" font-size="5.82" text-anchor="middle" textLength="3.31" lengthAdjust="spacingAndGlyphs" fill="#262626" stroke="#262626" stroke-width="0.14">0</text>
<text x="412.25" y="334.90" font-size="5.82" text-anchor="middle" textLength="3.31" lengthAdjust="spacingAndGlyphs" fill="#262626" stroke="#262626" stroke-width="0.14">2</text>
<text x="441.08" y="334.90" font-size="5.82" text-anchor="middle" textLength="3.31" lengthAdjust="spacingAndGlyphs" fill="#262626" stroke="#262626" stroke-width="0.14">4</text>
<text x="469.92" y="334.90" font-size="5.82" text-anchor="middle" textLength="3.31" lengthAdjust="spacingAndGlyphs" fill="#262626" stroke="#262626" stroke-width="0.14">6</text>
<text x="498.75" y="334.90" font-size="5.82" text-anchor="middle" textLength="3.31" lengthAdjust="spacingAndGlyphs" fill="#262626" stroke="#262626" stroke-width="0.14">8</text>
<text x="527.59" y="334.90" font-size="5.82" text-anchor="middle" textLength="6.62" lengthAdjust="spacingAndGlyphs" fill="#262626" stroke="#262626" stroke-width="0.14">10</text>
<text x="371.60" y="320.25" font-size="5.82" text-anchor="end" textLength="7.67" lengthAdjust="spacingAndGlyphs" fill="#262626" stroke="#262626" stroke-width="0.14">−2</text>
<text x="371.60" y="301.75" font-size="5.82" text-anchor="end" textLength="7.67" lengthAdjust="spacingAndGlyphs" fill="#262626" stroke="#262626" stroke-width="0.14">−1</text>
<text x="371.60" y="283.25" font-size="5.82" text-anchor="end" textLength="3.31" lengthAdjust="spacingAndGlyphs" fill="#262626" stroke="#262626" stroke-width="0.14">0</text>
<text x="371.60" y="264.75" font-size="5.82" text-anchor="end" textLength="3.31" lengthAdjust="spacingAndGlyphs" fill="#262626" stroke="#262626" stroke-width="0.14">1</text>
<text x="371.60" y="246.25" font-size="5.82" text-anchor="end" textLength="3.31" lengthAdjust="spacingAndGlyphs" fill="#262626" stroke="#262626" stroke-width="0.14">2</text>
<text x="103.75" y="7.80" font-size="6.87" font-weight="bold" text-anchor="middle" textLength="135.34" lengthAdjust="spacingAndGlyphs" fill="#262626" stroke="#262626" stroke-width="0.20">Combined Clean Signal + Gaussian Noise</text>
<text x="280.95" y="7.80" font-size="6.87" font-weight="bold" text-anchor="middle" textLength="61.29" lengthAdjust="spacingAndGlyphs" fill="#262626" stroke="#262626" stroke-width="0.20">Frequency Domain</text>
<text x="455.50" y="7.80" font-size="6.87" font-weight="bold" text-anchor="middle" textLength="50.02" lengthAdjust="spacingAndGlyphs" fill="#262626" stroke="#262626" stroke-width="0.20">Reconstruction</text>
<text x="0.00" y="0.00" font-size="6.73" text-anchor="middle" textLength="30.58" lengthAdjust="spacingAndGlyphs" fill="#262626" stroke="#262626" stroke-width="0.14" transform="translate(8.30,56.80) rotate(-90)">Amplitude</text>
<text x="103.75" y="119.60" font-size="6.87" font-weight="bold" text-anchor="middle" textLength="138.63" lengthAdjust="spacingAndGlyphs" fill="#262626" stroke="#262626" stroke-width="0.20">Combined Clean Signal + Heavy-tail Noise</text>
<text x="280.95" y="119.60" font-size="6.87" font-weight="bold" text-anchor="middle" textLength="61.29" lengthAdjust="spacingAndGlyphs" fill="#262626" stroke="#262626" stroke-width="0.20">Frequency Domain</text>
<text x="455.50" y="119.60" font-size="6.87" font-weight="bold" text-anchor="middle" textLength="50.02" lengthAdjust="spacingAndGlyphs" fill="#262626" stroke="#262626" stroke-width="0.20">Reconstruction</text>
<text x="0.00" y="0.00" font-size="6.73" text-anchor="middle" textLength="30.58" lengthAdjust="spacingAndGlyphs" fill="#262626" stroke="#262626" stroke-width="0.14" transform="translate(8.30,168.60) rotate(-90)">Amplitude</text>
<text x="103.75" y="231.80" font-size="6.87" font-weight="bold" text-anchor="middle" textLength="134.10" lengthAdjust="spacingAndGlyphs" fill="#262626" stroke="#262626" stroke-width="0.20">Combined Clean Signal + Missing Values</text>
<text x="280.95" y="231.80" font-size="6.87" font-weight="bold" text-anchor="middle" textLength="61.29" lengthAdjust="spacingAndGlyphs" fill="#262626" stroke="#262626" stroke-width="0.20">Frequency Domain</text>
<text x="455.50" y="231.80" font-size="6.87" font-weight="bold" text-anchor="middle" textLength="50.02" lengthAdjust="spacingAndGlyphs" fill="#262626" stroke="#262626" stroke-width="0.20">Reconstruction</text>
<text x="0.00" y="0.00" font-size="6.73" text-anchor="middle" textLength="30.58" lengthAdjust="spacingAndGlyphs" fill="#262626" stroke="#262626" stroke-width="0.14" transform="translate(8.30,280.65) rotate(-90)">Amplitude</text>
<text x="103.75" y="343.00" font-size="6.73" text-anchor="middle" textLength="24.21" lengthAdjust="spacingAndGlyphs" fill="#262626" stroke="#262626" stroke-width="0.14">Time (s)</text>
<text x="280.95" y="343.00" font-size="6.73" text-anchor="middle" textLength="46.25" lengthAdjust="spacingAndGlyphs" fill="#262626" stroke="#262626" stroke-width="0.14">Frequency (Hz)</text>
<text x="455.50" y="343.00" font-size="6.73" text-anchor="middle" textLength="24.21" lengthAdjust="spacingAndGlyphs" fill="#262626" stroke="#262626" stroke-width="0.14">Time (s)</text>
<rect x="131.10" y="13.20" width="49.20" height="15.40" fill="#fff" fill-opacity="0.85" stroke="#b8b8b8" stroke-width="0.7" rx="0.8"/>
<line x1="132.40" y1="17.10" x2="142.60" y2="17.10" stroke="#2c3e50" stroke-width="1.20" stroke-opacity="1.00"/>
<text x="145.60" y="18.85" font-size="5.39" text-anchor="start" textLength="33.10" lengthAdjust="spacingAndGlyphs" fill="#262626" stroke="#262626" stroke-width="0.08">Original Clean</text>
<line x1="132.40" y1="24.10" x2="142.60" y2="24.10" stroke="#e74c3c" stroke-width="1.20" stroke-opacity="0.60"/>
<text x="145.60" y="25.85" font-size="5.39" text-anchor="start" textLength="26.57" lengthAdjust="spacingAndGlyphs" fill="#262626" stroke="#262626" stroke-width="0.08">Noisy Input</text>
<rect x="298.10" y="13.70" width="59.40" height="28.60" fill="#fff" fill-opacity="0.85" stroke="#b8b8b8" stroke-width="0.7" rx="0.8"/>
<line x1="299.80" y1="17.20" x2="309.80" y2="17.20" stroke="#2c3e50" stroke-width="1.20" stroke-opacity="1.00"/>
<text x="312.80" y="18.95" font-size="5.39" text-anchor="start" textLength="38.04" lengthAdjust="spacingAndGlyphs" fill="#262626" stroke="#262626" stroke-width="0.08">Signal Spectrum</text>
<line x1="299.80" y1="24.30" x2="309.80" y2="24.30" stroke="#e74c3c" stroke-width="1.20" stroke-opacity="0.60"/>
<text x="312.80" y="26.05" font-size="5.39" text-anchor="start" textLength="36.56" lengthAdjust="spacingAndGlyphs" fill="#262626" stroke="#262626" stroke-width="0.08">Noisy Spectrum</text>
<line x1="299.80" y1="31.30" x2="309.80" y2="31.30" stroke="#2ecc71" stroke-width="1.15" stroke-opacity="0.90" stroke-dasharray="4.1,1.5"/>
<text x="312.80" y="33.05" font-size="5.39" text-anchor="start" textLength="43.11" lengthAdjust="spacingAndGlyphs" fill="#262626" stroke="#262626" stroke-width="0.08">Signal 99% Thresh</text>
<line x1="299.80" y1="38.30" x2="309.80" y2="38.30" stroke="#f39c12" stroke-width="1.10" stroke-opacity="0.85" stroke-dasharray="1.15,1.63"/>
<text x="312.80" y="40.05" font-size="5.39" text-anchor="start" textLength="41.75" lengthAdjust="spacingAndGlyphs" fill="#262626" stroke="#262626" stroke-width="0.08">Noise 99% Thresh</text>
<rect x="464.70" y="13.60" width="67.60" height="15.00" fill="#fff" fill-opacity="0.85" stroke="#b8b8b8" stroke-width="0.7" rx="0.8"/>
<line x1="465.90" y1="17.10" x2="476.20" y2="17.10" stroke="#95a5b5" stroke-width="1.60" stroke-opacity="1.00"/>
<text x="479.00" y="18.85" font-size="5.39" text-anchor="start" textLength="44.62" lengthAdjust="spacingAndGlyphs" fill="#262626" stroke="#262626" stroke-width="0.08">Original Clean (GT)</text>
<line x1="465.90" y1="24.30" x2="476.20" y2="24.30" stroke="#e74c3c" stroke-width="1.20" stroke-opacity="0.85"/>
<text x="479.00" y="26.05" font-size="5.39" text-anchor="start" textLength="51.87" lengthAdjust="spacingAndGlyphs" fill="#262626" stroke="#262626" stroke-width="0.08">Filtered Noisy (Result)</text>
</svg></body></html>
